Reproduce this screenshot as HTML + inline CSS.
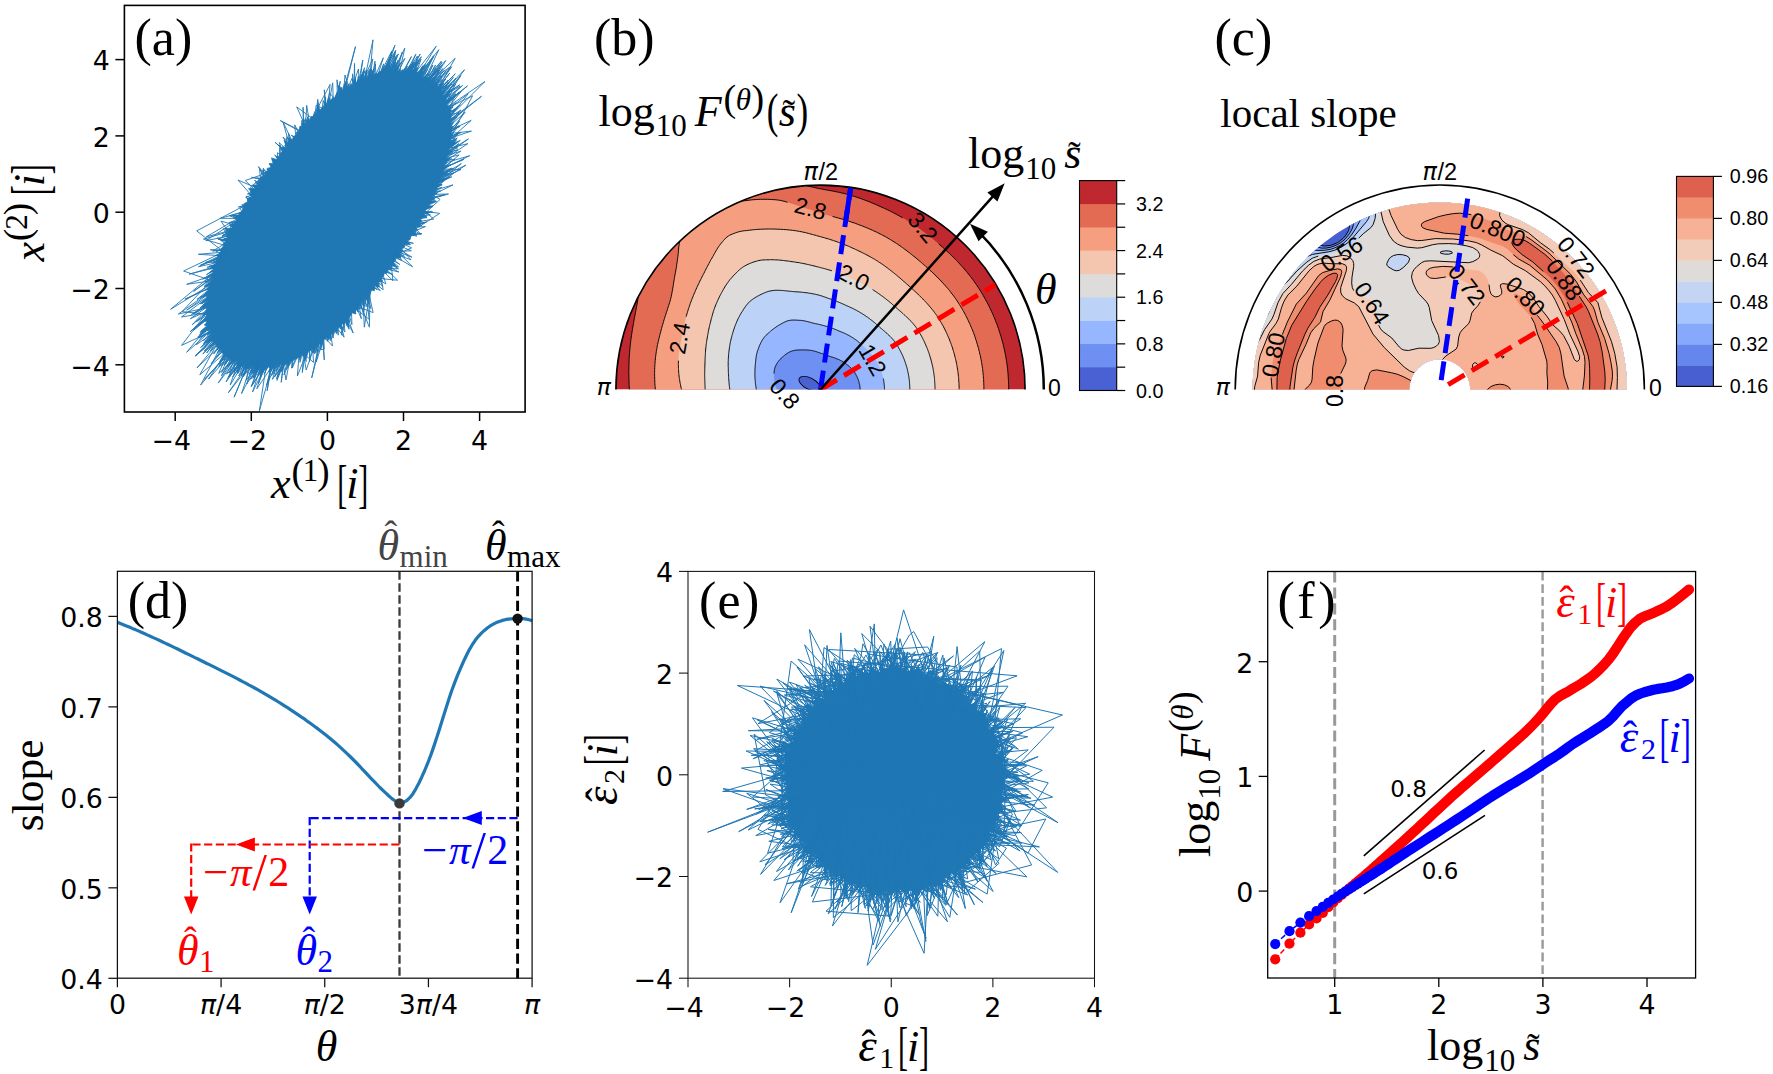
<!DOCTYPE html><html><head><meta charset="utf-8"><title>figure</title><style>html,body{margin:0;padding:0;background:#fff;overflow:hidden}svg{display:block}</style></head><body><svg width="1773" height="1074" viewBox="0 0 1773 1074"><rect width="1773" height="1074" fill="#fff"/><g>
<polygon fill="#1f77b4" stroke="#1f77b4" stroke-width="0.8" stroke-linejoin="round" points="426.9,81.7 442.2,62.1 429.5,81.8 432.7,80.1 432.2,82.5 435.8,79.8 432.5,85.5 436.7,82.0 434.8,86.1 438.2,83.9 437.0,87.8 445.7,79.0 437.9,90.6 443.6,85.4 438.6,92.6 441.9,91.0 440.6,94.4 447.7,88.4 442.2,95.6 444.2,95.7 443.1,98.8 446.9,96.6 445.0,100.5 447.2,99.7 445.3,103.0 453.9,96.9 446.3,105.5 448.4,105.3 447.3,108.8 451.4,106.8 449.6,109.6 451.5,110.0 449.8,113.4 451.5,113.1 449.0,117.6 451.5,116.5 450.4,119.9 451.6,120.4 449.7,123.8 453.5,122.7 451.2,126.1 453.3,126.4 451.5,129.5 452.4,130.7 450.9,133.0 453.1,133.6 451.3,136.3 451.8,137.6 449.7,140.6 453.8,140.1 449.4,144.9 460.3,140.4 448.9,149.0 449.6,150.1 448.2,153.2 449.2,153.7 446.4,157.0 448.2,158.4 445.9,161.0 447.0,162.7 443.8,165.9 451.2,164.6 443.4,169.7 444.4,170.8 442.1,173.8 443.9,175.0 439.3,179.4 451.8,176.8 437.5,183.4 440.8,184.5 436.7,187.0 436.8,189.1 434.0,192.1 437.3,193.1 433.0,196.4 434.6,198.7 429.9,200.8 436.5,201.6 428.5,205.0 432.7,206.7 425.1,209.9 425.9,212.3 423.6,214.4 426.9,216.4 420.4,218.5 421.9,221.5 418.4,223.5 422.0,225.7 416.1,227.0 416.2,230.8 413.0,232.4 416.3,234.6 411.0,235.8 410.1,239.5 407.2,241.1 410.5,244.6 404.6,244.7 404.8,246.8 402.1,249.0 401.8,251.2 399.2,253.5 400.3,257.4 395.6,257.9 395.7,260.4 393.3,262.2 395.7,265.8 390.0,265.7 389.8,268.8 388.1,269.7 386.8,273.3 384.2,273.3 383.6,276.2 381.4,277.5 380.5,280.6 378.9,282.0 379.3,287.1 374.8,285.7 374.3,290.8 371.5,290.1 370.2,293.5 369.2,294.0 369.1,299.0 365.8,298.2 364.4,300.9 361.8,302.2 360.6,304.9 358.8,305.6 358.2,309.9 356.1,309.8 354.5,313.4 351.8,312.8 350.6,316.1 348.3,318.1 349.1,329.3 344.7,321.2 344.0,324.9 341.5,323.4 339.8,326.8 337.4,327.8 336.6,330.4 334.3,331.6 332.4,334.9 331.1,333.0 328.5,340.3 326.8,336.9 325.5,339.4 323.8,338.8 320.9,349.3 319.9,342.3 318.2,345.8 316.3,345.3 313.5,352.9 312.5,348.0 309.9,351.2 308.3,351.8 305.8,359.3 304.9,353.5 303.0,356.2 301.5,354.9 299.8,357.7 298.2,357.6 295.5,359.2 294.4,359.6 292.1,361.5 291.2,361.1 287.9,367.0 287.2,362.5 285.5,364.6 283.8,364.0 276.9,380.5 281.4,363.8 278.9,366.8 277.8,365.1 274.9,369.0 275.1,365.3 272.1,369.1 271.3,367.1 269.6,368.4 268.7,366.8 266.3,368.9 264.7,368.5 260.0,376.2 262.4,367.2 259.5,371.9 260.0,367.3 255.6,373.9 257.2,367.9 252.7,373.5 255.3,366.2 249.4,374.2 252.6,365.9 249.3,368.8 249.3,366.7 246.4,369.2 247.3,365.9 241.9,372.3 244.3,365.1 242.5,366.8 242.2,364.7 236.6,372.0 240.2,362.8 237.6,365.7 238.1,362.7 234.1,366.4 237.0,360.1 234.3,362.3 233.8,361.0 228.0,367.3 232.8,358.4 229.3,360.9 229.9,357.6 227.7,359.0 228.6,355.9 226.7,356.8 226.7,354.6 219.5,361.7 225.5,352.2 222.8,354.2 222.6,352.3 221.1,352.1 222.0,349.6 217.2,353.1 220.3,347.1 216.8,350.2 217.6,346.7 215.6,347.2 217.1,344.2 215.1,344.0 216.1,342.0 212.7,343.6 213.6,340.2 211.2,341.3 213.4,337.2 206.5,342.4 212.3,335.3 208.3,336.8 211.6,331.7 207.3,335.0 210.9,329.5 207.4,331.0 209.0,328.2 207.7,326.8 208.4,325.1 205.2,325.7 207.5,321.6 205.6,321.8 208.4,317.3 203.7,320.3 207.3,315.0 206.2,314.8 206.5,312.1 205.6,311.4 207.1,308.1 205.6,308.1 207.9,304.5 202.9,306.2 208.5,300.3 199.9,304.0 208.1,297.1 205.7,296.5 208.7,293.2 206.7,292.6 209.2,289.3 206.9,288.6 210.7,284.7 206.4,285.8 212.2,280.0 210.8,278.8 213.2,275.9 202.6,279.1 214.0,272.1 210.4,271.9 214.4,268.4 209.3,269.1 215.9,263.7 215.1,262.0 217.8,259.3 217.4,258.0 218.7,255.7 219.2,253.6 221.8,250.0 221.0,249.1 223.5,245.9 222.9,244.5 225.6,241.0 220.9,240.4 227.9,237.3 226.1,235.2 229.9,232.7 227.6,230.9 232.9,227.4 230.1,225.6 235.2,223.9 234.8,221.5 237.3,219.6 233.8,217.1 239.2,215.1 239.7,212.6 242.3,211.0 242.9,207.4 244.4,206.4 243.7,203.9 247.6,201.8 247.8,198.6 251.3,196.9 249.1,194.2 252.3,193.5 248.6,188.6 255.4,188.7 252.5,185.0 258.3,184.9 258.6,182.0 261.8,179.8 260.9,176.7 264.8,176.4 265.3,173.0 267.3,171.8 267.1,168.4 271.1,167.4 269.1,163.5 273.2,163.7 271.5,157.9 277.5,159.8 276.7,156.2 279.4,156.2 281.0,152.5 283.4,151.5 282.4,147.3 286.7,147.8 284.0,140.2 289.4,143.1 288.7,138.0 292.3,139.7 293.8,136.0 295.8,135.7 296.8,131.7 299.3,131.8 300.1,126.0 303.0,127.7 303.6,122.3 305.9,125.0 307.4,118.5 309.2,120.7 311.2,116.6 313.3,116.4 315.0,113.5 316.3,113.8 317.7,99.2 319.7,110.5 322.1,107.5 323.2,106.8 325.9,103.4 327.2,104.7 329.0,97.2 330.9,100.6 332.8,97.3 334.2,99.0 337.2,91.9 338.5,95.7 340.5,88.1 342.3,91.3 344.3,83.7 345.9,89.0 348.4,83.9 349.1,87.2 351.1,83.5 352.4,85.5 355.6,79.4 355.9,83.6 358.9,79.8 359.9,81.7 363.7,70.7 363.9,79.5 366.2,75.9 366.9,78.6 370.0,70.6 369.9,77.0 373.3,71.7 373.7,74.8 376.2,72.9 376.3,75.0 379.8,71.1 380.9,72.1 384.5,65.9 383.4,71.0 391.5,54.1 386.9,71.1 391.4,63.6 389.7,70.2 394.9,62.4 392.7,70.0 396.5,65.6 395.2,70.2 400.6,62.5 397.4,71.4 400.3,69.0 400.6,71.6 403.1,69.4 403.4,70.9 407.5,66.3 405.2,72.1 411.3,64.5 407.8,72.3 411.4,69.3 411.2,71.7 413.8,69.1 413.8,71.8 417.5,67.5 416.0,73.2 418.5,71.4 417.6,75.2 425.2,64.2 419.6,76.5 433.8,56.4 421.4,78.0 423.6,76.2 424.0,77.5 425.7,76.8 426.2,78.8 428.7,77.0"/>
<path fill="none" stroke="#1f77b4" stroke-width="0.9" stroke-linejoin="round" d="M340.9,99.8L346.7,81.9L342.7,98.5M438.5,107.3L449.8,91.3L437.5,105.4M237.0,228.9L226.3,231.1L239.2,224.7M234.9,233.0L222.0,235.8L236.5,229.9M406.0,80.5L420.3,54.0L402.8,79.7M344.8,97.0L346.4,84.9L344.1,97.5M405.9,235.2L439.7,213.4L420.2,210.7M443.8,134.2L471.4,131.1L443.5,140.3M340.5,318.4L341.8,335.2L346.6,312.3M416.5,84.9L427.6,69.4L416.8,85.1M324.4,113.2L329.5,93.0L337.9,102.0M222.7,261.4L198.5,266.7L225.1,254.8M353.6,304.9L373.1,312.6L367.8,288.4M321.0,335.3L311.7,377.9L323.0,333.8M381.7,270.3L392.1,268.7L386.9,263.1M261.6,359.1L250.6,379.4L262.8,359.2M383.2,268.2L398.9,272.0L385.5,265.0M413.4,90.8L450.4,66.9L426.6,92.0M222.2,335.5L202.8,354.0L220.0,331.8M241.1,352.9L218.2,383.1L238.5,351.2M216.1,285.4L184.9,299.2L216.3,284.5M430.7,188.5L442.9,181.2L435.1,177.1M443.1,123.1L456.7,108.0L442.2,118.3M406.6,80.6L421.4,56.7L404.1,80.0M224.2,257.4L212.9,262.1L223.4,259.4M313.9,123.1L316.2,105.2L327.4,110.6M415.6,219.0L427.1,217.6L417.0,216.5M442.3,150.5L454.7,142.2L443.0,145.7M411.9,225.5L424.3,222.9L411.4,226.2M356.5,89.8L365.1,70.5L357.4,89.3M403.8,79.9L414.6,62.7L407.0,80.7M439.6,162.9L453.1,152.5L441.3,155.5M422.4,88.8L441.4,61.2L418.8,86.3M219.6,270.9L207.2,281.1L220.1,269.2M263.1,359.2L252.6,391.9L268.9,359.0M354.9,303.5L361.3,318.7L358.1,299.8M394.9,78.8L402.3,52.0L392.9,78.8M291.1,353.2L274.6,376.9L282.0,356.5M361.9,87.0L366.6,69.9L364.8,85.7M226.6,251.1L215.3,255.5L224.8,255.7M300.1,348.9L299.9,362.3L304.7,346.4M217.7,278.1L208.0,276.7L220.2,268.9M430.1,95.2L442.1,79.4L426.9,92.3M363.3,86.4L374.3,68.7L366.9,88.4M438.3,106.9L451.4,97.6L440.3,111.4M221.9,263.7L209.3,266.2L221.4,265.1M264.3,359.2L257.8,375.0L264.4,359.2M259.9,190.9L257.0,181.9L256.3,196.3M290.6,149.1L283.0,122.0L294.0,145.0M327.3,330.3L327.4,341.3L325.8,331.5M435.5,176.0L453.5,168.4L434.1,180.0M219.0,273.1L186.7,284.3L217.2,280.0M432.5,97.9L443.8,83.2L431.4,96.6M397.9,79.0L393.8,64.4L387.2,79.1M443.5,127.0L455.2,117.3L443.8,132.3M355.0,90.6L355.5,77.8L352.4,92.2M262.7,359.2L251.8,385.6L269.5,359.0M287.9,152.5L284.7,145.2L293.8,145.3M228.6,246.4L203.5,239.1L236.8,229.3M359.6,88.2L358.4,69.0L350.3,93.4M438.3,167.3L448.0,171.1L433.5,181.6M409.1,81.4L417.4,59.9L404.9,80.2M322.4,334.2L314.6,354.0L314.6,340.0M214.7,313.1L193.2,330.6L214.5,311.6M227.9,248.0L212.6,260.9L225.0,255.2M350.6,93.3L345.0,75.0L343.1,98.2M293.9,145.1L286.9,136.7L282.1,166.2M430.2,189.7L442.2,184.7L432.8,183.4M395.7,250.6L411.9,257.2L397.4,248.1M216.1,321.2L200.9,331.0L215.8,320.0M443.8,135.0L460.1,126.3L443.8,134.3M219.7,331.3L206.3,342.4L218.1,327.6M244.7,354.8L237.3,373.0L247.3,355.9M351.3,92.9L359.0,77.7L355.7,90.3M262.3,359.2L246.1,380.4L250.8,357.2M230.6,345.3L218.7,373.4L241.5,353.1M443.2,123.9L455.6,93.8L438.2,106.5M431.7,97.0L455.4,73.8L431.7,97.0M431.8,185.8L444.5,178.6L432.7,183.7M399.9,79.2L411.1,64.1L399.4,79.1M329.8,328.1L332.5,346.0L321.7,334.7M290.6,149.1L288.6,133.4L290.8,148.8M273.0,358.6L267.1,390.8L271.9,358.7M263.4,359.2L246.7,384.1L254.7,358.2M442.5,149.2L456.7,139.9L442.5,149.0M247.9,209.6L241.8,204.6L249.5,207.0M215.7,319.4L201.7,333.6L216.1,321.1M441.4,115.0L468.2,93.7L443.4,125.7M311.7,125.4L302.9,122.7L309.8,127.3M371.5,283.7L364.3,327.2L362.9,294.3M215.4,318.1L204.1,325.2L214.8,314.6M402.8,240.0L413.4,243.4L402.0,241.2M254.3,199.4L246.3,196.1L249.8,206.5M337.4,102.4L337.0,79.8L339.7,100.7M252.7,201.9L245.7,197.3L258.8,192.6M387.1,79.2L398.3,53.9L388.2,79.0M233.9,235.0L205.8,240.7L244.2,215.9M439.7,162.5L452.0,151.2L441.9,152.4M363.1,86.5L373.0,39.8L369.3,83.8M435.8,175.3L452.4,170.6L425.1,200.9M218.8,273.8L193.6,291.3L219.1,272.5M391.9,256.1L411.6,247.9L401.0,242.8M221.9,335.1L199.8,374.8L235.6,343.8M217.0,324.3L203.5,340.8L218.1,327.6M264.5,359.2L252.8,378.3L260.2,359.0M286.5,154.3L279.6,148.3L279.7,163.1M264.2,359.2L259.2,372.6L268.3,359.1M340.8,318.1L336.5,333.7L332.8,325.5M251.8,357.5L243.3,376.3L255.4,358.4M431.1,96.3L449.7,73.2L431.4,96.6M415.0,84.1L422.3,67.0L413.6,83.4M224.4,256.8L205.6,262.3L222.3,262.5M299.0,349.5L313.5,362.4L312.3,341.6M431.8,97.1L449.1,82.6L433.2,98.7M419.6,86.8L433.7,55.6L413.1,84.2M319.7,117.5L314.5,111.7L312.0,125.1M293.3,145.8L282.9,137.0L290.1,149.7M227.3,249.5L212.7,251.1L231.8,239.4M219.3,330.3L203.8,343.0L219.8,331.3M218.3,328.1L207.3,338.6L219.1,330.0M258.4,193.1L245.2,180.5L274.2,170.6M215.5,318.3L197.8,337.1L216.5,322.6M426.6,197.8L453.0,184.9L429.3,191.8M386.3,79.3L391.7,51.1L376.5,81.3M318.4,118.7L318.5,107.3L320.9,116.4M421.9,88.4L432.8,65.1L421.7,88.2M425.4,200.3L444.9,194.6L426.3,198.4M383.4,267.9L397.1,268.9L390.2,258.5M301.5,348.2L292.2,367.9L293.6,352.2M226.9,250.5L210.3,249.8L226.9,250.4M280.1,357.1L276.4,371.0L283.7,356.0M329.2,328.7L330.2,340.6L344.5,314.4M214.2,301.9L190.4,318.7L214.3,307.9M423.4,204.5L436.2,201.0L425.1,201.0M237.9,227.3L222.9,229.0L237.0,228.9M435.9,174.9L459.1,154.9L440.4,159.6M221.3,334.2L209.6,346.7L222.0,335.3M289.7,353.8L286.3,369.6L300.3,348.8M301.2,348.3L299.8,360.0L301.0,348.4M335.6,323.0L336.5,332.6L334.6,323.9M355.6,90.3L352.6,79.8L353.1,91.7M371.4,283.9L376.7,289.6L371.6,283.6M310.6,126.4L307.2,116.6L311.4,125.7M443.7,129.2L462.3,111.5L443.5,126.0M437.3,104.8L460.8,75.7L439.2,108.7M306.5,130.9L303.9,119.3L310.4,126.8M273.8,358.4L270.7,371.8L280.3,357.0M442.2,118.2L460.3,104.9L442.4,119.0M391.9,256.1L400.4,258.2L401.5,242.0M225.8,340.5L197.0,367.8L223.2,337.0M425.1,90.8L442.8,68.6L426.2,91.7M215.8,287.3L197.0,299.4L216.5,283.5M292.7,352.5L291.6,368.2L299.8,349.1M214.4,310.8L190.1,331.7L214.4,309.8M214.3,308.8L199.8,323.5L214.7,313.4M233.9,348.0L223.6,359.9L232.8,347.1M424.8,90.5L441.8,65.2L421.5,88.1M389.7,259.2L398.5,269.2L388.1,261.5M242.6,218.5L220.3,218.3L247.1,210.9M215.6,288.1L203.1,297.3L215.8,287.3M334.1,324.3L344.1,337.2L339.5,319.3M396.0,250.2L412.6,266.8L392.6,255.1M412.6,82.9L421.1,59.1L408.2,81.1M431.3,96.5L451.7,66.8L428.0,93.2M345.1,313.8L349.5,322.0L348.4,310.4M266.3,181.7L258.4,166.6L268.6,178.4M387.2,79.1L395.8,50.4L377.3,81.1M266.8,180.9L251.6,177.3L267.9,179.4M411.6,225.9L440.1,199.4L428.8,192.9M254.6,199.0L238.0,180.1L260.7,189.7M275.0,358.2L273.8,374.1L277.0,357.8M392.2,255.7L401.7,254.1L392.8,254.8M442.4,149.8L457.3,138.0L442.8,147.3M221.3,334.2L206.6,353.0L221.2,333.9M409.8,81.7L417.6,67.8L412.7,82.9M418.5,86.1L428.3,72.7L418.0,85.8M244.9,214.7L232.9,216.1L240.3,222.7M307.8,344.5L312.7,352.9L317.5,337.9M337.4,321.3L341.7,329.5L341.3,317.7M221.3,334.1L203.4,343.7L220.2,332.1M257.9,193.8L247.4,194.0L267.1,186.0M254.1,200.5L196.7,230.9L228.3,255.6M241.5,220.5L230.3,216.1L245.2,214.2M238.1,351.0L221.5,372.4L232.5,346.9M439.7,162.3L467.9,143.6L442.3,150.0M243.9,354.4L234.6,371.4L242.7,353.8M215.5,289.1L204.8,294.6L215.7,287.4M304.6,132.8L301.8,120.9L304.6,132.9M215.6,288.6L202.8,305.5L214.4,298.2M252.4,357.7L228.3,392.8L255.2,358.3M246.5,355.6L232.8,376.9L248.3,356.3M230.7,241.8L217.5,237.9L228.6,246.3M439.2,164.3L460.8,151.2L440.9,157.4M440.5,159.3L451.3,152.7L440.8,158.0M426.9,197.1L434.9,200.1L425.8,199.6M234.4,234.0L220.7,237.8L239.2,224.7M378.2,275.0L384.6,279.3L378.1,275.2M337.2,321.5L340.4,329.1L340.4,318.5M284.5,156.8L279.8,145.5L280.9,161.5M246.6,355.6L228.5,376.9L245.8,355.3M435.5,101.9L459.7,84.8L435.2,101.5M325.7,112.0L325.6,97.1L322.1,115.3M410.8,227.2L417.8,229.6L411.1,226.8M390.1,258.6L399.7,264.4L390.9,257.5M438.1,106.5L449.1,92.9L435.8,102.4M380.0,272.6L383.2,289.7L372.9,281.9M250.6,357.1L234.1,397.2L250.8,357.2M247.0,355.8L228.7,377.4L241.6,353.1M215.5,318.5L198.9,338.1L217.6,326.2M316.4,338.7L316.2,349.6L318.5,337.2M285.0,355.6L281.2,382.3L284.1,355.9M386.1,79.3L389.5,65.4L384.2,79.6M435.3,176.6L445.3,173.4L437.0,171.6M226.0,252.7L200.3,265.3L224.4,256.7M274.5,170.2L261.0,173.6L267.7,179.7M421.7,88.3L432.8,74.1L424.3,90.2M332.1,326.1L330.8,338.2L329.2,328.7M365.9,290.7L363.6,314.8L359.5,298.3M244.7,215.0L229.4,215.7L247.2,210.7M397.9,79.0L404.8,48.2L389.5,78.9M301.6,136.2L301.8,123.9L312.3,124.7M304.0,133.6L280.3,120.6L304.6,132.8M301.0,136.9L294.7,124.9L296.3,142.3M441.4,155.2L457.9,149.8L441.7,153.4M288.6,151.6L279.2,142.6L284.6,156.7M221.5,334.5L195.4,355.9L220.4,332.6M388.4,261.1L392.7,268.5L385.9,264.6M418.9,213.1L428.3,212.6L419.1,212.7M303.6,133.9L303.1,107.2L303.9,133.7M412.4,82.8L423.1,65.5L411.3,82.3M372.9,281.9L382.9,281.0L377.1,276.5M214.9,315.1L182.1,311.6L219.3,271.9M419.8,211.5L432.8,205.7L419.4,212.2M392.5,78.8L398.1,60.2L391.6,78.8M371.7,82.9L374.9,61.2L376.6,81.3M215.3,317.6L199.6,334.7L216.6,323.2M435.0,101.1L450.7,88.4L438.4,107.0M443.6,139.1L461.0,132.4L443.4,141.5M443.0,145.5L471.2,120.4L443.8,132.9M288.9,354.1L280.9,371.9L291.9,352.9M439.6,109.8L450.0,97.9L439.8,110.1M366.9,84.7L371.4,68.9L367.5,84.5M354.5,304.0L355.6,313.6L353.5,305.0M422.2,88.6L445.7,60.5L426.4,91.8M285.5,155.5L278.6,145.0L287.7,152.7M436.6,103.7L448.5,81.9L433.9,99.6M234.0,348.1L204.3,379.5L234.1,348.2M385.5,265.1L398.6,266.9L389.9,259.0M221.4,265.3L207.1,267.3L222.7,261.5M395.1,251.4L411.3,250.8L399.1,245.6M216.4,283.7L200.3,298.3L215.4,289.8M443.5,126.7L481.5,96.3L443.3,124.8M433.5,99.2L448.3,80.0L431.6,96.9M238.5,226.1L220.9,221.1L232.7,237.6M412.2,224.9L421.1,234.5L410.2,228.3M261.2,359.1L251.2,386.7L268.6,359.1M342.7,98.5L355.5,46.6L341.1,99.7M358.9,88.6L362.8,60.0L357.3,89.4M421.5,208.1L433.7,219.1L413.6,222.5M325.5,112.2L324.3,89.8L326.4,111.4M240.0,352.2L228.2,366.4L239.7,352.0M438.1,106.4L451.9,89.5L438.1,106.4M239.9,352.2L226.1,381.8L245.6,355.2M315.1,339.7L316.0,352.6L317.1,338.2M437.0,171.6L455.1,159.1L439.9,161.7M251.9,203.2L238.4,207.0L250.2,205.8M307.2,130.1L296.7,106.9L316.0,121.1M279.4,357.2L266.5,385.5L273.1,358.5M263.7,359.2L253.6,377.8L262.2,359.2M398.2,247.0L404.4,256.6L395.1,251.5M356.9,89.6L364.7,67.7L356.1,90.1M232.9,237.1L222.7,241.1L233.1,236.6M412.6,82.9L438.8,49.7L421.0,87.8M425.0,90.7L444.3,70.4L426.3,91.8M413.4,83.3L436.2,46.3L408.5,81.2M441.3,155.5L457.5,134.3L443.0,145.5M319.1,336.7L316.2,362.1L325.8,331.5M230.0,243.2L216.2,251.8L229.1,245.3M358.3,299.7L366.0,303.0L363.2,293.9M417.4,215.8L430.5,215.0L420.0,211.0M402.5,79.6L417.4,56.1L412.2,82.7M393.6,78.8L399.3,64.3L390.0,78.9M408.4,81.2L419.6,58.8L410.4,81.9M214.4,298.8L202.7,307.8L214.6,296.6M417.6,85.6L428.1,73.1L420.0,87.1M359.7,88.1L372.8,58.9L368.7,84.0M229.7,344.5L218.9,366.7L234.4,348.4M391.7,256.4L401.6,260.4L396.7,249.1M407.2,80.8L414.0,64.4L406.9,80.7M366.4,290.0L370.8,308.5L360.0,297.6M214.3,301.6L192.2,324.7L214.2,306.8M390.2,78.9L397.4,62.1L385.6,79.4M343.3,98.1L341.7,87.2L340.4,100.1M443.4,125.3L459.0,112.6L441.9,116.8M220.2,332.2L195.5,355.9L219.2,330.1M214.4,299.2L191.5,314.4L214.2,302.8M437.9,106.1L464.5,69.7L434.9,101.0M434.0,180.2L447.5,172.8L435.5,176.1M437.7,105.7L448.9,90.2L440.8,112.9M433.3,182.0L461.0,169.5L437.9,168.8M443.5,126.8L457.4,116.7L443.8,133.0M252.9,357.8L242.6,377.0L259.1,358.9M434.3,179.5L454.0,172.8L428.3,194.0M247.3,355.9L238.8,376.0L251.7,357.5M406.8,233.7L421.8,233.6L404.7,237.0M341.9,99.0L337.7,85.0L344.5,97.3M435.8,175.1L451.7,168.2L434.9,177.8M304.5,346.5L306.2,361.6L302.4,347.7M219.3,330.2L204.8,341.7L218.0,327.2M410.9,227.0L426.6,222.0L412.8,223.9M215.8,287.0L205.4,290.2L216.7,282.5M341.1,99.6L339.7,86.1L344.1,97.5M317.2,338.2L306.2,370.0L302.5,347.6M438.6,166.5L451.4,158.5L438.5,166.6M227.4,342.2L211.1,363.9L229.1,343.9M440.7,112.7L459.3,92.1L439.2,108.8M348.4,310.5L356.0,314.0L351.6,307.1M443.6,127.4L460.9,110.0L442.9,121.9M357.3,89.4L361.7,74.4L359.0,88.5M230.4,242.3L224.4,230.7L236.0,230.9M393.7,253.5L411.0,259.8L398.8,246.1M234.2,348.2L225.3,364.5L234.8,348.7M363.4,293.7L363.3,306.4L360.7,296.9M322.3,334.3L324.3,359.9L322.7,334.0M250.3,357.0L226.5,374.0L239.9,352.1M442.1,117.7L453.2,107.1L440.4,111.7M261.9,187.9L254.5,180.0L262.1,187.6M431.6,89.6L445.8,70.8L430.1,95.2M266.7,181.0L258.1,180.0L263.4,185.8M214.2,306.0L202.7,314.8L214.2,307.0M337.5,321.3L338.2,335.2L337.5,321.3M214.3,300.5L202.8,307.6L214.4,299.4M442.9,146.4L458.6,125.8L443.7,137.5M290.9,353.3L286.0,380.0L282.0,356.5M348.0,94.9L346.3,84.8L341.3,99.5M406.3,234.5L425.4,226.6L410.7,227.5M241.5,220.6L230.5,222.2L240.3,222.7M237.6,350.6L224.2,365.0L234.3,348.3M232.5,346.9L200.6,385.1L227.4,334.0M327.6,110.4L332.7,82.9L333.4,105.5M437.4,170.5L464.0,159.3L437.4,170.5M298.0,140.3L291.1,135.2L299.0,139.2M227.0,250.3L183.6,271.0L216.7,282.5M323.6,333.3L324.3,349.2L316.3,350.2M390.3,78.9L395.6,50.9L377.9,80.9M428.1,194.5L448.5,194.0L425.3,200.6M255.4,197.7L250.6,191.4L253.7,200.3M437.7,105.6L450.5,93.6L438.6,107.4M241.9,353.3L237.6,373.7L250.2,357.0M251.6,210.2L206.2,236.9L237.2,228.6M273.9,170.9L255.3,182.8L263.6,185.5M443.8,134.1L459.7,121.3L443.4,141.7M259.4,359.0L241.5,393.6L253.3,357.9M214.3,300.8L200.3,307.7L214.9,293.7M435.1,101.3L460.0,86.2L440.2,111.2M419.8,211.5L433.0,212.2L419.4,212.1M428.6,93.8L440.4,74.7L426.7,92.1M230.8,345.5L215.9,357.3L229.4,344.2M269.3,359.0L260.4,376.0L263.2,359.2M214.2,306.1L178.4,314.0L215.7,287.7M359.4,298.4L361.9,308.6L357.2,300.9M215.0,267.6L189.1,274.2L221.5,264.7M230.6,241.9L218.0,239.2L230.8,241.4M439.5,109.6L456.1,77.9L434.1,99.9M411.6,82.4L423.1,71.2L415.4,84.3M221.2,265.8L206.5,274.7L221.8,263.9M218.5,274.8L204.6,281.1L216.3,284.3M388.0,79.1L404.9,58.4L394.9,78.8M286.7,154.0L282.6,146.6L286.3,154.6M215.6,288.5L186.6,310.2L215.1,292.1M269.2,359.0L263.0,372.6L267.5,359.1M367.8,84.4L371.9,70.2L371.6,82.9M309.5,343.4L309.5,361.7L313.4,340.8M382.8,79.8L394.7,54.3L380.9,80.2M281.2,161.2L274.7,154.9L280.1,162.5M390.5,258.1L392.9,280.7L382.0,269.9M441.8,153.0L455.7,139.2L442.7,147.6M234.7,233.4L225.2,232.4L235.9,231.1M236.1,349.6L221.4,375.8L238.0,350.9M315.5,339.4L313.8,351.8L316.9,338.3M431.0,188.0L461.3,163.6L434.0,180.1M277.5,357.7L271.7,375.5L278.1,357.6M351.4,307.3L351.9,324.6L348.0,310.8M287.4,153.1L275.1,142.3L287.1,153.6M238.0,227.0L225.6,229.9L236.2,230.4M214.2,303.1L181.5,345.4L225.9,324.6M261.1,189.1L259.6,168.4L267.4,180.0M345.6,313.4L348.2,322.3L346.1,312.9M277.5,166.0L277.4,152.7L284.4,157.0M303.8,134.2L330.1,84.4L327.9,110.1M422.8,89.1L435.8,68.0L423.5,89.5M424.1,87.5L455.2,58.3L432.5,97.8M350.0,308.8L346.3,325.4L349.6,309.2M355.0,90.7L354.5,63.4L353.8,91.3M425.1,90.8L435.1,76.9L422.0,88.5M248.4,356.4L241.1,375.8L248.5,356.4M365.4,291.3L368.5,301.9L363.4,293.6M436.9,171.8L469.7,155.7L436.9,165.4M370.1,285.6L369.4,327.2L358.3,299.7M304.9,132.5L301.8,123.1L304.9,132.5M215.5,288.9L204.4,294.6L216.1,285.6M443.0,145.3L458.1,132.8L443.5,140.2M353.7,304.7L360.3,309.1L359.0,298.9M373.0,82.4L375.5,64.0L368.7,84.0M334.7,104.5L340.3,81.3L336.6,103.0M233.5,347.7L234.4,370.5L244.2,354.5M427.5,195.9L441.7,187.4L429.9,190.4M433.9,180.4L465.8,165.2L431.0,187.8M345.0,314.0L342.9,328.8L339.0,319.8M365.0,291.8L368.8,303.5L362.9,294.3M443.5,140.3L454.6,138.0L442.2,151.1M376.3,277.6L377.5,288.1L374.3,280.1M214.8,313.9L195.1,327.1L214.9,314.9M357.1,89.5L352.0,78.3L343.8,97.7M214.5,311.0L196.3,321.6L214.2,307.0M372.3,282.7L380.4,290.5L369.8,285.9M425.0,90.7L440.0,69.5L426.6,92.0M434.8,111.6L467.5,85.9L439.5,109.6M403.9,238.3L415.8,232.6L407.7,232.4M257.4,358.7L251.3,373.5L254.9,358.3M324.5,113.1L327.9,99.7L328.4,109.6M230.9,345.6L208.5,379.1L235.0,348.8M358.3,88.9L358.3,76.2L356.8,89.7M441.0,113.6L455.5,84.3L432.8,98.3M231.5,239.9L223.8,238.6L232.0,238.9M242.9,353.8L229.0,372.9L237.8,350.8M362.1,86.9L366.4,70.8L365.3,85.4M438.5,107.3L462.5,85.5L437.3,104.9M265.3,183.1L257.6,177.9L265.8,182.4M434.1,100.0L446.0,86.4L437.3,104.8M217.6,278.6L205.1,285.5L220.4,268.3M383.3,79.7L395.0,45.2L379.2,80.6M280.1,357.0L272.3,379.4L291.2,353.2M216.5,322.7L205.3,331.8L215.8,320.0M353.5,91.5L352.5,73.9L354.2,91.1M438.8,165.8L451.2,157.0L437.8,169.1M385.3,265.4L390.5,270.1L395.7,250.6M224.3,338.6L213.6,354.0L225.3,339.9M437.2,171.1L446.1,174.2L436.3,173.9M240.7,222.0L230.3,224.8L240.1,223.2M220.6,267.5L170.6,309.3L217.1,280.7M416.2,218.0L431.3,211.2L411.7,225.8M409.7,229.1L416.9,236.1L406.6,234.1M410.2,228.2L416.1,234.8L410.9,227.1M383.4,79.7L396.6,55.4L386.3,79.3M443.6,139.8L465.2,112.2L443.8,131.3M214.2,302.0L202.7,316.0L214.4,309.9M435.2,101.4L453.3,77.4L433.2,98.8M310.5,342.8L297.4,376.0L299.4,349.3M271.9,358.7L264.1,374.3L270.8,358.8M275.1,358.2L268.8,372.2L273.5,358.5M219.8,331.4L205.0,346.4L219.7,331.3M381.6,270.4L392.8,274.6L382.3,269.4M440.4,111.9L484.9,81.6L443.1,123.2M429.2,192.1L440.7,190.9L428.5,193.6M441.2,156.0L459.0,143.6L440.5,159.2M217.3,279.6L205.8,286.6L216.6,283.1M378.9,80.7L383.7,63.8L377.1,81.2M430.1,95.3L441.3,75.6L428.0,93.2M217.3,325.3L209.4,342.1L219.6,330.9M437.2,104.8L449.3,92.5L437.2,104.8M408.3,81.1L426.5,65.0L413.3,83.2M438.2,106.6L461.2,91.4L441.6,115.6M443.2,123.7L457.7,107.5L442.4,118.8M281.5,356.7L276.7,378.8L286.5,355.0M268.6,359.1L258.4,383.4L267.7,359.1M222.1,335.5L204.4,350.6L224.2,338.5M398.8,79.1L411.4,56.6L400.0,79.2M220.9,333.4L210.1,351.3L222.7,336.3M366.2,290.4L369.1,319.3L352.4,306.2M404.0,79.9L413.0,61.9L409.1,81.4M277.9,357.6L256.8,388.8L266.0,359.2M442.3,150.3L455.5,141.9L442.5,148.9M435.9,102.5L448.8,90.8L437.5,105.3M406.5,80.6L413.0,63.3L409.1,81.4M214.4,298.1L193.5,313.9L214.2,302.5M267.5,179.9L260.6,177.1L262.7,186.8M345.1,96.8L345.7,81.5L344.9,96.9M304.1,346.7L302.3,372.5L306.7,345.1M442.8,146.9L457.7,147.8L441.7,153.7M377.8,275.5L382.8,286.4L375.0,279.2M443.8,109.8L472.6,95.8L432.1,170.8M232.3,346.7L223.9,359.5L232.7,347.1M330.1,108.2L340.0,87.7L340.9,99.8M371.7,283.5L367.9,306.2L359.8,297.9M218.8,329.2L200.6,347.5L220.4,332.6M346.0,313.0L353.2,333.0L343.8,315.1M394.5,78.8L395.7,57.0L393.7,78.8M220.9,266.6L209.2,272.9L222.3,262.5M422.9,89.1L435.5,65.1L422.0,88.5M217.5,326.0L201.3,337.5L217.2,325.0M256.7,195.7L251.1,191.1L255.0,198.2M215.3,317.3L196.4,344.7L218.9,329.3M364.1,86.0L369.9,68.8L358.5,88.7M219.8,331.4L208.0,340.3L218.4,328.4M402.3,79.6L415.8,54.2L405.1,80.2M326.7,111.1L323.2,100.5L321.3,116.0M432.9,183.1L441.7,185.0L429.8,190.7M269.4,177.3L263.3,168.2L264.3,184.4M241.1,352.8L230.2,385.0L247.7,356.1M245.4,355.1L234.0,372.2L246.0,355.4M328.4,329.3L331.0,339.6L325.6,331.7M331.5,326.7L333.2,338.1L332.9,325.4M252.6,202.0L239.9,208.5L244.7,214.9M217.4,279.3L204.0,286.5L216.6,282.7M440.6,158.5L468.5,138.9L441.3,155.6M298.7,139.5L299.9,126.8L307.4,129.9M354.5,303.9L357.9,312.1L358.5,299.4M265.4,182.9L257.6,181.3L260.7,189.8M428.4,93.6L438.7,70.0L421.3,88.0M302.2,135.5L302.0,120.0L314.0,123.0M215.3,317.4L199.9,332.6L216.0,321.0M274.5,358.3L259.4,410.7L267.1,359.2M231.1,345.8L218.7,364.7L229.0,343.9M214.3,301.6L203.0,308.6L214.4,298.8M372.2,82.7L383.3,57.8L375.9,81.5M338.2,320.6L344.9,332.0L343.6,315.4M375.8,278.2L385.8,283.9L381.7,270.3M359.7,298.0L364.2,303.8L362.2,295.2M435.2,176.9L448.6,173.4L432.4,184.3M309.9,127.2L305.3,118.3L309.8,127.3M292.8,352.5L284.0,374.9L288.9,354.1M215.3,317.6L186.6,352.3L217.3,325.2M435.3,101.6L452.0,83.8L433.0,98.5M235.5,231.8L223.2,234.8L233.8,235.2M249.3,356.7L236.7,370.9L244.1,354.5M363.1,294.0L366.5,306.5L357.0,301.1M268.7,178.3L262.4,170.0L272.1,173.5M384.1,267.0L397.6,280.2L375.8,278.2M289.0,151.1L288.1,137.7L292.2,147.2M255.7,197.2L250.6,187.0L280.0,162.7M235.1,348.8L221.5,366.2L236.1,349.6M226.3,251.9L198.3,254.3L224.7,255.9M443.1,144.8L454.4,142.9L442.0,152.2M214.8,294.5L201.8,303.7L215.2,290.9M215.1,291.9L181.5,317.0L214.5,311.4M310.2,126.9L306.7,105.3L305.1,132.3M239.5,224.2L229.2,222.2L233.4,236.1M441.9,116.9L456.3,102.6L440.3,111.6"/>
</g>
<rect x="124.4" y="5.4" width="400.7" height="406.6" fill="none" stroke="#000" stroke-width="1.6"/>
<line x1="175.2" y1="412" x2="175.2" y2="421" stroke="#000" stroke-width="1.5"/>
<g transform="translate(171.2,449.8)" fill="#000"><text x="-19.75" y="0" font-family="'DejaVu Sans',sans-serif" font-size="26.8">−4</text></g>
<line x1="251.3" y1="412" x2="251.3" y2="421" stroke="#000" stroke-width="1.5"/>
<g transform="translate(247.3,449.8)" fill="#000"><text x="-19.75" y="0" font-family="'DejaVu Sans',sans-serif" font-size="26.8">−2</text></g>
<line x1="327.4" y1="412" x2="327.4" y2="421" stroke="#000" stroke-width="1.5"/>
<g transform="translate(327.4,449.8)" fill="#000"><text x="-8.53" y="0" font-family="'DejaVu Sans',sans-serif" font-size="26.8">0</text></g>
<line x1="403.5" y1="412" x2="403.5" y2="421" stroke="#000" stroke-width="1.5"/>
<g transform="translate(403.5,449.8)" fill="#000"><text x="-8.53" y="0" font-family="'DejaVu Sans',sans-serif" font-size="26.8">2</text></g>
<line x1="479.6" y1="412" x2="479.6" y2="421" stroke="#000" stroke-width="1.5"/>
<g transform="translate(479.6,449.8)" fill="#000"><text x="-8.53" y="0" font-family="'DejaVu Sans',sans-serif" font-size="26.8">4</text></g>
<line x1="115.4" y1="364.8" x2="124.4" y2="364.8" stroke="#000" stroke-width="1.5"/>
<g transform="translate(109.8,375.6)" fill="#000"><text x="-39.51" y="0" font-family="'DejaVu Sans',sans-serif" font-size="26.8">−4</text></g>
<line x1="115.4" y1="288.5" x2="124.4" y2="288.5" stroke="#000" stroke-width="1.5"/>
<g transform="translate(109.8,299.3)" fill="#000"><text x="-39.51" y="0" font-family="'DejaVu Sans',sans-serif" font-size="26.8">−2</text></g>
<line x1="115.4" y1="212.2" x2="124.4" y2="212.2" stroke="#000" stroke-width="1.5"/>
<g transform="translate(109.8,223)" fill="#000"><text x="-17.05" y="0" font-family="'DejaVu Sans',sans-serif" font-size="26.8">0</text></g>
<line x1="115.4" y1="135.9" x2="124.4" y2="135.9" stroke="#000" stroke-width="1.5"/>
<g transform="translate(109.8,146.7)" fill="#000"><text x="-17.05" y="0" font-family="'DejaVu Sans',sans-serif" font-size="26.8">2</text></g>
<line x1="115.4" y1="59.6" x2="124.4" y2="59.6" stroke="#000" stroke-width="1.5"/>
<g transform="translate(109.8,70.4)" fill="#000"><text x="-17.05" y="0" font-family="'DejaVu Sans',sans-serif" font-size="26.8">4</text></g>
<g transform="translate(134.5,54.7)" fill="#000"><text x="0" y="0" font-family="'Liberation Serif',serif" font-size="52">(a)</text></g>
<g transform="translate(271,497.7)" fill="#000"><text x="0" y="0" font-family="'Liberation Serif',serif" font-size="44" font-style="italic">x</text><text x="20.53" y="-14" font-family="'Liberation Serif',serif" font-size="37">(</text><text x="31.85" y="-16.5" font-family="'Liberation Serif',serif" font-size="31">1</text><text x="46.35" y="-14" font-family="'Liberation Serif',serif" font-size="37">)</text><text transform="translate(66.37,3.8) scale(1,1.74)" font-family="'Liberation Serif',serif" font-size="30">[</text><text x="75.36" y="0" font-family="'Liberation Serif',serif" font-size="44" font-style="italic">i</text><text transform="translate(87.19,3.8) scale(1,1.74)" font-family="'Liberation Serif',serif" font-size="30">]</text></g>
<g transform="translate(43.9,261.5) rotate(-90)" fill="#000"><text x="0" y="0" font-family="'Liberation Serif',serif" font-size="44" font-style="italic">x</text><text x="20.53" y="-14" font-family="'Liberation Serif',serif" font-size="37">(</text><text x="31.85" y="-16.5" font-family="'Liberation Serif',serif" font-size="31">2</text><text x="46.35" y="-14" font-family="'Liberation Serif',serif" font-size="37">)</text><text transform="translate(66.37,3.8) scale(1,1.74)" font-family="'Liberation Serif',serif" font-size="30">[</text><text x="75.36" y="0" font-family="'Liberation Serif',serif" font-size="44" font-style="italic">i</text><text transform="translate(87.19,3.8) scale(1,1.74)" font-family="'Liberation Serif',serif" font-size="30">]</text></g>
<defs><clipPath id="clipb"><path d="M615.9,389.6A204.6,204.6 0 0 1 1025.1,389.6Z"/></clipPath></defs>
<g clip-path="url(#clipb)">
<rect x="614.9" y="184" width="411.2" height="205.6" fill="#c0282f"/>
<path d="M1008.7,389.6L1008.7,386.3L1008.6,383.0L1008.4,379.8L1008.2,376.5L1008.0,373.2L1007.7,369.9L1007.3,366.7L1006.9,363.4L1006.4,360.2L1005.8,356.9L1005.2,353.7L1004.6,350.5L1003.8,347.3L1003.1,344.1L1002.2,340.9L1001.3,337.7L1000.4,334.6L999.4,331.5L998.4,328.4L997.3,325.3L996.1,322.2L994.9,319.1L993.6,316.1L992.3,313.1L990.9,310.1L989.5,307.2L988.0,304.2L986.5,301.3L984.9,298.5L983.3,295.6L981.6,292.8L979.9,290.0L978.1,287.2L976.3,284.5L974.4,281.8L972.5,279.2L970.5,276.6L968.5,274.0L966.4,271.5L964.3,269.0L962.1,266.5L959.9,264.1L957.7,261.7L955.4,259.3L953.1,257.0L950.8,254.7L948.4,252.5L946.0,250.3L943.5,248.1L941.1,245.9L938.6,243.8L936.1,241.7L933.5,239.6L931.0,237.5L928.4,235.5L925.8,233.5L923.2,231.5L920.5,229.5L917.8,227.6L915.1,225.7L912.4,223.9L909.6,222.1L906.8,220.3L903.9,218.6L901.0,216.9L898.1,215.3L895.2,213.7L892.2,212.1L889.2,210.6L886.2,209.2L883.1,207.8L880.0,206.4L876.9,205.0L873.8,203.7L870.7,202.4L867.5,201.1L864.3,199.9L861.1,198.7L857.8,197.6L854.6,196.5L851.2,195.5L847.9,194.5L844.6,193.6L841.2,192.8L837.8,192.1L834.4,191.4L830.9,190.7L827.5,190.1L824.0,189.4L820.5,188.8L817.0,188.1L813.4,187.3L809.9,186.5L806.2,185.7L802.6,184.9L798.9,184.1L795.2,183.2L791.4,182.4L787.6,181.6L783.7,180.8L779.8,180.1L775.8,179.3L771.8,178.5L767.7,177.7L763.5,176.9L759.3,176.2L755.1,175.6L750.8,175.1L746.5,174.7L742.2,174.5L737.9,174.4L733.6,174.6L729.4,175.0L725.3,175.7L721.2,176.6L717.2,177.7L713.2,178.9L709.2,180.2L705.2,181.6L701.3,183.1L697.4,184.8L693.6,186.6L689.9,188.6L686.3,190.7L682.8,193.0L679.5,195.5L676.3,198.3L673.3,201.2L670.5,204.4L667.8,207.6L665.3,211.1L662.9,214.6L660.7,218.3L658.6,222.0L656.7,225.8L654.8,229.6L653.0,233.4L651.3,237.3L649.7,241.1L648.1,245.0L646.7,248.9L645.5,252.8L644.4,256.9L643.5,261.0L642.7,265.1L642.0,269.2L641.3,273.2L640.7,277.3L640.2,281.3L639.8,285.3L639.4,289.2L638.9,293.1L638.3,296.8L637.7,300.4L637.1,304.1L636.4,307.6L635.7,311.2L635.1,314.7L634.4,318.2L633.8,321.6L633.2,325.1L632.6,328.5L632.0,332.0L631.5,335.4L631.0,338.8L630.6,342.3L630.2,345.7L629.9,349.1L629.6,352.5L629.3,355.9L629.1,359.3L629.0,362.7L628.9,366.1L628.9,369.5L628.8,372.8L628.9,376.2L629.0,379.6L629.1,382.9L629.2,386.3L629.4,389.6Z" fill="#e36b54"/>
<path d="M983.9,389.6L983.9,386.7L983.8,383.9L983.7,381.0L983.5,378.2L983.3,375.4L983.0,372.5L982.7,369.7L982.3,366.9L981.8,364.0L981.4,361.2L980.8,358.4L980.3,355.6L979.6,352.9L978.9,350.1L978.2,347.3L977.4,344.6L976.6,341.9L975.7,339.2L974.8,336.5L973.9,333.8L972.8,331.1L971.8,328.5L970.7,325.9L969.5,323.2L968.3,320.7L967.1,318.1L965.8,315.6L964.5,313.1L963.1,310.6L961.7,308.1L960.2,305.7L958.7,303.3L957.1,300.9L955.5,298.6L953.8,296.2L952.1,294.0L950.4,291.7L948.6,289.5L946.7,287.4L944.9,285.2L943.0,283.1L941.1,281.0L939.1,279.0L937.1,277.0L935.1,275.0L933.1,273.0L931.0,271.1L928.9,269.2L926.8,267.3L924.7,265.4L922.5,263.6L920.4,261.7L918.2,259.9L916.1,258.1L913.8,256.3L911.6,254.5L909.4,252.7L907.1,251.0L904.8,249.3L902.5,247.6L900.1,245.9L897.7,244.3L895.3,242.7L892.9,241.2L890.4,239.6L887.9,238.2L885.4,236.7L882.8,235.3L880.2,234.0L877.6,232.7L875.0,231.4L872.3,230.2L869.6,229.0L866.9,227.8L864.1,226.7L861.4,225.6L858.6,224.6L855.8,223.5L853.0,222.6L850.1,221.6L847.3,220.7L844.4,219.8L841.5,218.9L838.5,218.1L835.6,217.3L832.6,216.5L829.6,215.7L826.6,214.9L823.6,214.0L820.5,213.2L817.4,212.3L814.3,211.2L811.1,210.1L807.9,209.0L804.6,208.0L801.3,206.8L797.9,205.7L794.5,204.6L791.0,203.5L787.5,202.3L783.9,201.2L780.3,200.4L776.7,199.9L773.1,199.6L769.5,199.4L765.9,199.3L762.3,199.3L758.7,199.4L755.1,199.6L751.5,199.9L747.9,200.4L744.2,200.8L740.6,201.3L736.8,201.6L732.9,201.7L728.8,201.7L724.8,201.8L721.0,202.4L717.3,203.3L713.6,204.4L709.9,205.6L706.4,206.9L702.9,208.6L699.7,210.5L696.7,212.9L694.1,215.6L691.6,218.5L689.3,221.7L687.1,224.8L685.0,228.2L683.3,231.7L681.7,235.5L680.4,239.4L679.3,243.4L678.7,247.8L678.3,252.3L677.9,256.6L677.3,260.7L676.7,264.6L676.2,268.5L675.5,272.2L674.8,275.8L674.2,279.4L673.6,282.9L673.1,286.4L672.5,289.8L671.9,293.1L671.3,296.4L670.5,299.5L669.6,302.5L668.7,305.4L667.7,308.4L666.8,311.3L665.9,314.2L664.9,317.1L664.0,319.9L663.2,322.8L662.3,325.7L661.5,328.6L660.8,331.5L660.0,334.3L659.3,337.2L658.6,340.1L657.9,343.0L657.3,345.9L656.8,348.8L656.3,351.7L655.9,354.6L655.5,357.5L655.2,360.5L655.0,363.4L654.8,366.3L654.7,369.2L654.6,372.2L654.6,375.1L654.7,378.0L654.8,380.9L654.9,383.8L655.1,386.7L655.4,389.6Z" fill="#f59f80"/>
<path d="M959.1,389.6L959.1,387.2L959.0,384.8L958.9,382.3L958.7,379.9L958.6,377.5L958.3,375.1L958.0,372.7L957.7,370.3L957.3,367.9L956.9,365.5L956.5,363.2L956.0,360.8L955.4,358.5L954.8,356.1L954.2,353.8L953.5,351.4L952.8,349.1L952.1,346.8L951.3,344.6L950.5,342.3L949.6,340.0L948.7,337.8L947.7,335.6L946.8,333.4L945.7,331.2L944.7,329.0L943.6,326.9L942.4,324.8L941.2,322.7L940.0,320.6L938.7,318.5L937.4,316.5L936.1,314.6L934.6,312.6L933.2,310.7L931.7,308.8L930.2,307.0L928.6,305.2L927.0,303.4L925.4,301.6L923.7,299.9L922.0,298.2L920.3,296.5L918.6,294.8L916.9,293.2L915.2,291.6L913.4,290.0L911.6,288.4L909.9,286.8L908.1,285.2L906.3,283.6L904.5,282.0L902.7,280.5L900.9,278.9L899.1,277.3L897.3,275.8L895.4,274.2L893.5,272.7L891.6,271.2L889.7,269.7L887.8,268.2L885.8,266.8L883.8,265.3L881.8,263.9L879.7,262.6L877.7,261.2L875.6,259.9L873.4,258.6L871.3,257.4L869.1,256.2L866.9,255.0L864.6,253.8L862.4,252.7L860.1,251.6L857.8,250.5L855.5,249.4L853.1,248.3L850.8,247.3L848.4,246.2L846.0,245.2L843.5,244.3L841.1,243.3L838.6,242.4L836.1,241.5L833.5,240.6L831.0,239.8L828.4,238.9L825.8,238.2L823.2,237.4L820.5,236.7L817.8,236.0L815.1,235.2L812.4,234.5L809.6,233.7L806.8,233.0L804.0,232.3L801.1,231.7L798.2,231.2L795.3,230.7L792.4,230.3L789.5,230.0L786.5,229.7L783.5,229.5L780.5,229.3L777.5,229.2L774.5,229.1L771.4,229.0L768.3,229.0L765.2,229.1L762.1,229.2L759.0,229.3L755.8,229.5L752.7,229.8L749.5,230.2L746.3,230.6L743.1,230.9L739.9,231.5L736.9,232.3L733.9,233.4L731.0,234.6L728.3,236.1L725.8,238.0L723.6,240.4L721.5,242.9L719.5,245.4L717.7,248.1L716.0,250.9L714.4,253.7L712.8,256.6L711.2,259.4L709.7,262.1L708.2,264.9L706.8,267.6L705.3,270.4L704.0,273.1L702.6,275.7L701.3,278.4L699.9,281.0L698.7,283.7L697.4,286.3L696.2,289.0L695.1,291.6L693.9,294.2L692.9,296.9L691.8,299.5L690.8,302.1L689.9,304.8L689.0,307.4L688.1,310.0L687.3,312.7L686.5,315.3L685.8,318.0L685.2,320.7L684.6,323.3L684.0,325.9L683.4,328.6L682.9,331.2L682.4,333.8L681.9,336.4L681.4,339.0L680.9,341.5L680.5,344.1L680.0,346.6L679.6,349.2L679.2,351.7L678.9,354.3L678.6,356.8L678.5,359.4L678.4,362.0L678.4,364.5L678.4,367.1L678.5,369.6L678.7,372.2L678.9,374.7L679.2,377.2L679.6,379.7L680.0,382.2L680.5,384.7L681.0,387.2L681.6,389.6Z" fill="#f4c6af"/>
<path d="M935.0,389.6L935.0,387.6L934.9,385.6L934.8,383.6L934.7,381.6L934.6,379.6L934.4,377.6L934.1,375.6L933.9,373.7L933.6,371.7L933.2,369.7L932.9,367.8L932.5,365.8L932.0,363.9L931.5,361.9L931.0,360.0L930.5,358.1L929.9,356.1L929.3,354.2L928.7,352.4L928.0,350.5L927.3,348.6L926.5,346.8L925.7,344.9L924.9,343.1L924.1,341.3L923.2,339.5L922.3,337.7L921.4,336.0L920.4,334.2L919.4,332.5L918.4,330.8L917.3,329.1L916.2,327.5L915.0,325.9L913.7,324.3L912.4,322.8L911.0,321.4L909.7,319.9L908.3,318.5L906.8,317.2L905.4,315.8L903.9,314.5L902.4,313.2L901.0,311.9L899.5,310.6L898.0,309.3L896.6,308.0L895.1,306.7L893.7,305.4L892.2,304.2L890.7,302.9L889.2,301.6L887.7,300.4L886.2,299.2L884.6,298.0L883.1,296.8L881.5,295.7L879.9,294.5L878.3,293.4L876.7,292.3L875.1,291.2L873.4,290.1L871.7,289.1L870.0,288.1L868.3,287.1L866.6,286.1L864.8,285.1L863.1,284.2L861.3,283.3L859.5,282.5L857.7,281.6L855.9,280.8L854.0,279.9L852.2,279.0L850.4,278.2L848.5,277.3L846.6,276.5L844.7,275.6L842.8,274.8L840.9,274.0L838.9,273.3L837.0,272.5L835.0,271.8L833.0,271.1L830.9,270.5L828.9,269.9L826.8,269.3L824.7,268.7L822.6,268.2L820.5,267.6L818.4,267.0L816.2,266.5L814.0,265.9L811.8,265.4L809.6,264.9L807.3,264.4L805.1,263.9L802.8,263.4L800.4,263.0L798.1,262.5L795.7,262.2L793.3,261.8L790.9,261.5L788.5,261.1L786.0,260.8L783.5,260.5L780.9,260.2L778.4,260.0L775.8,259.9L773.2,259.8L770.6,259.7L768.1,259.8L765.4,259.9L762.8,260.0L760.2,260.3L757.7,260.8L755.2,261.5L752.8,262.3L750.5,263.2L748.1,264.2L745.9,265.4L743.7,266.6L741.6,268.1L739.6,269.7L737.7,271.4L735.9,273.2L734.1,275.0L732.4,276.9L730.7,278.8L729.2,280.7L727.6,282.8L726.2,284.9L724.8,287.0L723.5,289.2L722.3,291.4L721.1,293.6L719.9,295.8L718.8,298.1L717.8,300.3L716.8,302.6L715.8,304.8L714.9,307.1L714.1,309.4L713.3,311.7L712.6,314.1L712.0,316.4L711.3,318.7L710.8,321.0L710.2,323.3L709.6,325.6L709.1,327.9L708.6,330.1L708.2,332.4L707.8,334.6L707.4,336.9L707.0,339.1L706.7,341.3L706.4,343.5L706.1,345.7L705.8,347.9L705.6,350.0L705.5,352.2L705.3,354.4L705.2,356.5L705.1,358.7L705.0,360.8L705.0,362.9L704.9,365.0L704.8,367.1L704.8,369.2L704.7,371.3L704.7,373.3L704.7,375.4L704.7,377.4L704.8,379.5L704.8,381.5L704.9,383.5L705.0,385.6L705.1,387.6L705.2,389.6Z" fill="#dedcdb"/>
<path d="M909.8,389.6L909.8,388.0L909.7,386.5L909.7,384.9L909.6,383.4L909.4,381.8L909.3,380.3L909.1,378.7L908.9,377.2L908.6,375.6L908.4,374.1L908.0,372.6L907.7,371.1L907.4,369.5L907.0,368.0L906.6,366.5L906.1,365.0L905.6,363.6L905.2,362.1L904.6,360.6L904.1,359.2L903.5,357.7L902.9,356.3L902.3,354.9L901.6,353.5L900.9,352.1L900.2,350.7L899.5,349.3L898.8,348.0L898.0,346.6L897.2,345.3L896.4,344.0L895.5,342.7L894.6,341.5L893.6,340.3L892.6,339.1L891.6,338.0L890.5,336.8L889.4,335.8L888.3,334.7L887.2,333.6L886.0,332.6L884.9,331.6L883.7,330.6L882.6,329.6L881.4,328.7L880.3,327.7L879.2,326.7L878.0,325.7L876.9,324.7L875.8,323.7L874.6,322.7L873.5,321.8L872.3,320.8L871.1,319.9L869.9,319.0L868.7,318.1L867.5,317.2L866.3,316.4L865.0,315.5L863.8,314.7L862.5,313.9L861.2,313.1L859.9,312.3L858.6,311.5L857.3,310.8L855.9,310.1L854.6,309.4L853.2,308.7L851.8,308.0L850.4,307.4L849.0,306.7L847.6,306.1L846.2,305.5L844.8,304.8L843.4,304.2L841.9,303.6L840.5,302.9L839.1,302.3L837.6,301.7L836.1,301.1L834.6,300.5L833.1,300.0L831.6,299.4L830.0,298.9L828.5,298.4L826.9,297.8L825.3,297.2L823.7,296.7L822.1,296.1L820.5,295.6L818.9,295.1L817.2,294.7L815.5,294.3L813.8,294.0L812.1,293.6L810.4,293.3L808.6,293.1L806.9,292.8L805.1,292.6L803.4,292.4L801.6,292.2L799.8,292.0L797.9,291.9L796.1,291.8L794.3,291.7L792.4,291.5L790.5,291.3L788.5,291.1L786.5,290.9L784.5,290.7L782.5,290.5L780.4,290.4L778.3,290.3L776.3,290.3L774.2,290.4L772.2,290.6L770.2,291.0L768.3,291.4L766.4,292.1L764.6,292.8L762.8,293.6L761.0,294.4L759.3,295.3L757.5,296.2L755.8,297.2L754.1,298.3L752.5,299.4L750.9,300.6L749.4,301.8L748.0,303.3L746.8,304.8L745.5,306.4L744.4,308.0L743.3,309.7L742.3,311.4L741.2,313.0L740.2,314.7L739.3,316.5L738.4,318.2L737.5,320.0L736.7,321.8L736.0,323.6L735.3,325.4L734.6,327.2L734.0,329.0L733.4,330.9L732.8,332.7L732.3,334.5L731.8,336.3L731.3,338.1L730.9,339.9L730.5,341.7L730.1,343.6L729.8,345.4L729.5,347.2L729.3,349.0L729.0,350.8L728.8,352.6L728.6,354.3L728.5,356.1L728.4,357.9L728.3,359.6L728.2,361.4L728.2,363.1L728.2,364.9L728.2,366.6L728.3,368.3L728.3,370.0L728.4,371.7L728.4,373.4L728.5,375.0L728.6,376.7L728.7,378.3L728.8,380.0L728.9,381.6L729.1,383.2L729.2,384.8L729.4,386.4L729.6,388.0L729.8,389.6Z" fill="#bcd2f7"/>
<path d="M884.5,389.6L884.5,388.5L884.4,387.4L884.4,386.3L884.3,385.1L884.1,384.0L884.0,382.9L883.9,381.8L883.7,380.7L883.5,379.6L883.3,378.5L883.0,377.4L882.8,376.4L882.5,375.3L882.2,374.2L881.8,373.2L881.5,372.1L881.1,371.1L880.8,370.0L880.4,369.0L880.0,368.0L879.5,366.9L879.1,365.9L878.6,364.9L878.1,364.0L877.6,363.0L877.1,362.0L876.5,361.1L875.9,360.1L875.3,359.2L874.7,358.3L874.1,357.4L873.4,356.5L872.7,355.7L872.0,354.9L871.3,354.0L870.6,353.2L869.8,352.4L869.1,351.6L868.3,350.9L867.6,350.1L866.8,349.3L866.0,348.6L865.3,347.9L864.5,347.1L863.7,346.4L862.9,345.7L862.1,345.0L861.3,344.3L860.5,343.6L859.7,342.9L858.9,342.2L858.1,341.5L857.2,340.9L856.4,340.2L855.5,339.6L854.6,339.0L853.8,338.4L852.9,337.8L852.0,337.2L851.0,336.7L850.1,336.2L849.2,335.6L848.3,335.1L847.3,334.6L846.4,334.2L845.4,333.7L844.4,333.2L843.4,332.8L842.5,332.4L841.5,332.0L840.5,331.6L839.5,331.2L838.5,330.8L837.5,330.4L836.5,329.9L835.5,329.5L834.5,329.1L833.4,328.7L832.4,328.3L831.4,327.9L830.3,327.6L829.3,327.2L828.2,326.9L827.1,326.6L826.0,326.3L825.0,325.9L823.9,325.6L822.7,325.3L821.6,325.0L820.5,324.8L819.4,324.5L818.2,324.2L817.1,324.0L815.9,323.7L814.7,323.5L813.5,323.2L812.3,322.9L811.1,322.6L809.8,322.2L808.6,321.9L807.3,321.5L806.0,321.2L804.6,320.9L803.3,320.7L802.0,320.5L800.7,320.4L799.3,320.3L798.0,320.2L796.6,320.1L795.2,320.1L793.8,320.0L792.4,320.1L791.0,320.2L789.7,320.4L788.3,320.7L787.1,321.0L785.8,321.5L784.6,322.1L783.4,322.7L782.2,323.3L781.1,323.9L779.9,324.6L778.7,325.3L777.6,326.0L776.5,326.7L775.4,327.5L774.3,328.3L773.2,329.1L772.1,329.9L771.1,330.7L770.1,331.6L769.1,332.5L768.1,333.4L767.1,334.3L766.1,335.2L765.2,336.2L764.3,337.2L763.5,338.3L762.7,339.4L762.0,340.5L761.4,341.7L760.7,342.9L760.2,344.1L759.6,345.4L759.1,346.6L758.6,347.9L758.2,349.1L757.7,350.4L757.3,351.6L757.0,352.9L756.7,354.2L756.4,355.5L756.2,356.8L756.0,358.1L755.8,359.5L755.7,360.8L755.6,362.0L755.5,363.3L755.3,364.6L755.2,365.8L755.1,367.1L755.0,368.3L755.0,369.6L754.9,370.8L754.9,372.0L754.9,373.2L754.9,374.5L754.9,375.7L755.0,376.9L755.0,378.1L755.1,379.2L755.2,380.4L755.3,381.6L755.4,382.8L755.5,383.9L755.7,385.1L755.8,386.2L756.0,387.3L756.2,388.5L756.4,389.6Z" fill="#96b7ff"/>
<path d="M860.2,389.6L860.2,388.9L860.1,388.2L860.0,387.5L860.0,386.8L859.9,386.2L859.7,385.5L859.6,384.8L859.5,384.1L859.3,383.4L859.2,382.8L859.0,382.1L858.8,381.5L858.6,380.8L858.4,380.2L858.1,379.5L857.9,378.9L857.6,378.2L857.4,377.6L857.1,377.0L856.8,376.4L856.5,375.8L856.2,375.2L855.9,374.6L855.6,374.0L855.2,373.4L854.9,372.8L854.5,372.3L854.1,371.7L853.7,371.2L853.3,370.7L852.9,370.2L852.4,369.6L852.0,369.1L851.5,368.7L851.1,368.2L850.6,367.7L850.1,367.3L849.6,366.8L849.2,366.4L848.7,366.0L848.2,365.6L847.7,365.1L847.2,364.7L846.6,364.4L846.1,364.0L845.6,363.6L845.1,363.2L844.6,362.8L844.1,362.5L843.5,362.1L843.0,361.8L842.5,361.5L841.9,361.2L841.4,360.9L840.8,360.6L840.3,360.3L839.7,360.0L839.2,359.7L838.6,359.5L838.0,359.2L837.5,359.0L836.9,358.8L836.3,358.6L835.7,358.3L835.2,358.1L834.6,357.9L834.0,357.7L833.5,357.5L832.9,357.3L832.3,357.1L831.7,357.0L831.2,356.8L830.6,356.6L830.0,356.4L829.4,356.2L828.9,356.0L828.3,355.8L827.7,355.6L827.1,355.4L826.6,355.2L826.0,355.0L825.4,354.7L824.8,354.5L824.2,354.3L823.6,354.1L823.0,353.9L822.4,353.7L821.8,353.5L821.1,353.3L820.5,353.1L819.9,352.9L819.2,352.7L818.6,352.5L817.9,352.2L817.2,352.0L816.5,351.7L815.8,351.5L815.1,351.3L814.4,351.1L813.7,350.9L812.9,350.7L812.2,350.6L811.5,350.5L810.7,350.4L810.0,350.3L809.2,350.2L808.4,350.1L807.6,350.0L806.9,350.0L806.1,350.0L805.3,349.9L804.5,349.9L803.7,349.9L802.8,349.9L802.0,349.9L801.1,349.9L800.3,349.9L799.4,349.9L798.5,350.0L797.6,350.0L796.8,350.1L795.9,350.2L795.0,350.3L794.1,350.5L793.2,350.7L792.4,350.9L791.5,351.2L790.7,351.5L789.9,351.8L789.1,352.2L788.4,352.6L787.6,353.1L786.9,353.6L786.2,354.1L785.5,354.6L784.8,355.1L784.1,355.6L783.4,356.2L782.7,356.8L782.1,357.4L781.4,358.0L780.8,358.6L780.2,359.2L779.6,359.9L779.1,360.6L778.5,361.3L778.0,362.0L777.5,362.7L777.0,363.4L776.5,364.2L776.1,365.0L775.7,365.8L775.3,366.6L775.0,367.4L774.8,368.3L774.5,369.1L774.4,370.0L774.3,370.9L774.2,371.8L774.1,372.7L774.1,373.6L774.0,374.5L774.1,375.4L774.1,376.3L774.1,377.2L774.2,378.0L774.2,378.9L774.3,379.8L774.4,380.6L774.5,381.5L774.6,382.3L774.8,383.2L775.0,384.0L775.2,384.8L775.4,385.7L775.7,386.5L776.0,387.3L776.3,388.1L776.6,388.8L776.9,389.6Z" fill="#6e90f2"/>
<ellipse cx="0" cy="0" rx="11.5" ry="5.6" transform="translate(809.5,383.6) rotate(27)" fill="#4961d2" stroke="#000" stroke-width="0.9"/>
<path d="M1008.7,389.6L1008.7,388.0L1008.7,386.3L1008.6,384.7L1008.6,383.0L1008.5,381.4L1008.4,379.8L1008.3,378.1L1008.2,376.5L1008.1,374.8L1008.0,373.2L1007.8,371.6L1007.7,369.9L1007.5,368.3L1007.3,366.7L1007.1,365.0L1006.9,363.4L1006.6,361.8L1006.4,360.2L1006.1,358.5L1005.8,356.9L1005.5,355.3L1005.2,353.7L1004.9,352.1L1004.6,350.5L1004.2,348.9L1003.8,347.3L1003.5,345.7L1003.1,344.1L1002.7,342.5L1002.2,340.9L1001.8,339.3L1001.3,337.7L1000.9,336.2L1000.4,334.6L999.9,333.0L999.4,331.5L998.9,329.9L998.4,328.4L997.8,326.8L997.3,325.3L996.7,323.7L996.1,322.2L995.5,320.7L994.9,319.1L994.3,317.6L993.6,316.1L993.0,314.6L992.3,313.1L991.6,311.6L990.9,310.1L990.2,308.6L989.5,307.2L988.8,305.7L988.0,304.2L987.3,302.8L986.5,301.3L985.7,299.9L984.9,298.5L984.1,297.0L983.3,295.6L982.5,294.2L981.6,292.8L980.8,291.4L979.9,290.0L979.0,288.6L978.1,287.2L977.2,285.9L976.3,284.5L975.3,283.2L974.4,281.8L973.4,280.5L972.5,279.2L971.5,277.9L970.5,276.6L969.5,275.3L968.5,274.0L967.4,272.7L966.4,271.5L965.3,270.2L964.3,269.0L963.2,267.7L962.1,266.5L961.0,265.3L959.9,264.1L958.8,262.9L957.7,261.7L956.6,260.5L955.4,259.3L954.3,258.1L953.1,257.0L951.9,255.8L950.8,254.7L949.6,253.6L948.4,252.5L947.2,251.4L946.0,250.3L944.7,249.2L943.5,248.1L942.3,247.0L941.1,245.9L939.8,244.9L938.6,243.8M902.5,217.7L901.0,216.9L899.6,216.1L898.1,215.3L896.7,214.4L895.2,213.7L893.7,212.9L892.2,212.1L890.7,211.4L889.2,210.6L887.7,209.9L886.2,209.2L884.6,208.5L883.1,207.8L881.6,207.1L880.0,206.4L878.5,205.7L876.9,205.0L875.4,204.4L873.8,203.7L872.2,203.0L870.7,202.4L869.1,201.7L867.5,201.1L865.9,200.5L864.3,199.9L862.7,199.3L861.1,198.7L859.5,198.1L857.8,197.6L856.2,197.0L854.6,196.5L852.9,196.0L851.2,195.5L849.6,195.0L847.9,194.5L846.2,194.1L844.6,193.6L842.9,193.2L841.2,192.8L839.5,192.4L837.8,192.1L836.1,191.7L834.4,191.4L832.6,191.0L830.9,190.7L829.2,190.4L827.5,190.1L825.7,189.8L824.0,189.4L822.2,189.1L820.5,188.8L818.7,188.5L817.0,188.1L815.2,187.7L813.4,187.3L811.7,186.9L809.9,186.5L808.1,186.1L806.2,185.7L804.4,185.3L802.6,184.9L800.8,184.5L798.9,184.1L797.0,183.6L795.2,183.2L793.3,182.8L791.4,182.4L789.5,182.0L787.6,181.6L785.6,181.2L783.7,180.8L781.7,180.5L779.8,180.1L777.8,179.7L775.8,179.3L773.8,178.9L771.8,178.5L769.7,178.1L767.7,177.7L765.6,177.3L763.5,176.9L761.4,176.5L759.3,176.2L757.2,175.9L755.1,175.6L752.9,175.3L750.8,175.1L748.6,174.8L746.5,174.7L744.3,174.5L742.2,174.5L740.0,174.4L737.9,174.4L735.8,174.5L733.6,174.6L731.5,174.8L729.4,175.0L727.3,175.3L725.3,175.7L723.2,176.1L721.2,176.6L719.2,177.2L717.2,177.7L715.2,178.3L713.2,178.9L711.2,179.5L709.2,180.2L707.2,180.9L705.2,181.6L703.2,182.4L701.3,183.1L699.4,183.9L697.4,184.8L695.5,185.7L693.6,186.6L691.8,187.6L689.9,188.6L688.1,189.6L686.3,190.7L684.6,191.8L682.8,193.0L681.1,194.2L679.5,195.5L677.9,196.9L676.3,198.3L674.8,199.7L673.3,201.2L671.9,202.8L670.5,204.4L669.1,206.0L667.8,207.6L666.5,209.3L665.3,211.1L664.1,212.8L662.9,214.6L661.8,216.4L660.7,218.3L659.7,220.1L658.6,222.0L657.6,223.9L656.7,225.8L655.7,227.7L654.8,229.6L653.9,231.5L653.0,233.4L652.2,235.4L651.3,237.3L650.5,239.2L649.7,241.1L648.9,243.1L648.1,245.0L647.4,246.9L646.7,248.9L646.1,250.8L645.5,252.8L644.9,254.9L644.4,256.9L643.9,258.9L643.5,261.0L643.1,263.0L642.7,265.1L642.3,267.1L642.0,269.2L641.6,271.2L641.3,273.2L641.0,275.3L640.7,277.3L640.4,279.3L640.2,281.3L640.0,283.3L639.8,285.3L639.6,287.2L639.4,289.2L639.2,291.2L638.9,293.1L638.7,294.9L638.3,296.8L638.0,298.6L637.7,300.4L637.4,302.3L637.1,304.1L636.7,305.9L636.4,307.6L636.1,309.4L635.7,311.2L635.4,312.9L635.1,314.7L634.7,316.4L634.4,318.2L634.1,319.9L633.8,321.6L633.5,323.4L633.2,325.1L632.9,326.8L632.6,328.5L632.3,330.3L632.0,332.0L631.8,333.7L631.5,335.4L631.3,337.1L631.0,338.8L630.8,340.5L630.6,342.3L630.4,344.0L630.2,345.7L630.0,347.4L629.9,349.1L629.7,350.8L629.6,352.5L629.5,354.2L629.3,355.9L629.2,357.6L629.1,359.3L629.1,361.0L629.0,362.7L629.0,364.4L628.9,366.1L628.9,367.8L628.9,369.5L628.8,371.1L628.8,372.8L628.9,374.5L628.9,376.2L628.9,377.9L629.0,379.6L629.0,381.2L629.1,382.9L629.1,384.6L629.2,386.3L629.3,387.9L629.4,389.6" fill="none" stroke="#000" stroke-width="0.95"/>
<path d="M983.9,389.6L983.9,388.2L983.9,386.7L983.8,385.3L983.8,383.9L983.7,382.5L983.7,381.0L983.6,379.6L983.5,378.2L983.4,376.8L983.3,375.4L983.1,373.9L983.0,372.5L982.8,371.1L982.7,369.7L982.5,368.3L982.3,366.9L982.1,365.5L981.8,364.0L981.6,362.6L981.4,361.2L981.1,359.8L980.8,358.4L980.6,357.0L980.3,355.6L979.9,354.3L979.6,352.9L979.3,351.5L978.9,350.1L978.6,348.7L978.2,347.3L977.8,346.0L977.4,344.6L977.0,343.2L976.6,341.9L976.2,340.5L975.7,339.2L975.3,337.8L974.8,336.5L974.4,335.1L973.9,333.8L973.4,332.4L972.8,331.1L972.3,329.8L971.8,328.5L971.2,327.2L970.7,325.9L970.1,324.5L969.5,323.2L968.9,322.0L968.3,320.7L967.7,319.4L967.1,318.1L966.4,316.8L965.8,315.6L965.1,314.3L964.5,313.1L963.8,311.8L963.1,310.6L962.4,309.3L961.7,308.1L960.9,306.9L960.2,305.7L959.4,304.5L958.7,303.3L957.9,302.1L957.1,300.9L956.3,299.7L955.5,298.6L954.7,297.4L953.8,296.2L953.0,295.1L952.1,294.0L951.2,292.9L950.4,291.7L949.5,290.6L948.6,289.5L947.7,288.4L946.7,287.4L945.8,286.3L944.9,285.2L943.9,284.2L943.0,283.1L942.0,282.1L941.1,281.0L940.1,280.0L939.1,279.0L938.1,278.0L937.1,277.0L936.1,276.0L935.1,275.0L934.1,274.0L933.1,273.0L932.0,272.1L931.0,271.1L929.9,270.2L928.9,269.2L927.8,268.3L926.8,267.3L925.7,266.4L924.7,265.4L923.6,264.5L922.5,263.6L921.5,262.7L920.4,261.7L919.3,260.8L918.2,259.9L917.1,259.0L916.1,258.1L915.0,257.2L913.8,256.3L912.7,255.4L911.6,254.5L910.5,253.6L909.4,252.7L908.2,251.9L907.1,251.0L906.0,250.1L904.8,249.3L903.6,248.4L902.5,247.6L901.3,246.8L900.1,245.9L898.9,245.1L897.7,244.3L896.5,243.5L895.3,242.7L894.1,241.9L892.9,241.2L891.7,240.4L890.4,239.6L889.2,238.9L887.9,238.2L886.7,237.4L885.4,236.7L884.1,236.0L882.8,235.3L881.5,234.6L880.2,234.0L878.9,233.3L877.6,232.7L876.3,232.0L875.0,231.4L873.6,230.8L872.3,230.2L871.0,229.6L869.6,229.0L868.2,228.4L866.9,227.8L865.5,227.3L864.1,226.7L862.8,226.2L861.4,225.6L860.0,225.1L858.6,224.6L857.2,224.1L855.8,223.5L854.4,223.0L853.0,222.6L851.6,222.1L850.1,221.6L848.7,221.1L847.3,220.7L845.8,220.2L844.4,219.8L842.9,219.3L841.5,218.9L840.0,218.5L838.5,218.1L837.1,217.7L835.6,217.3L834.1,216.9L832.6,216.5M787.5,202.3L785.7,201.7L783.9,201.2L782.1,200.8L780.3,200.4L778.5,200.1L776.7,199.9L774.9,199.7L773.1,199.6L771.3,199.5L769.5,199.4L767.7,199.3L765.9,199.3L764.1,199.3L762.3,199.3L760.5,199.3L758.7,199.4L756.9,199.5L755.1,199.6L753.3,199.7L751.5,199.9L749.7,200.1L747.9,200.4L746.0,200.6L744.2,200.8L742.4,201.0L740.6,201.3L738.7,201.4L736.8,201.6L734.9,201.7L732.9,201.7L730.9,201.7L728.8,201.7L726.8,201.7L724.8,201.8L722.9,202.0L721.0,202.4L719.1,202.9L717.3,203.3L715.4,203.8L713.6,204.4L711.7,204.9L709.9,205.6L708.1,206.2L706.4,206.9L704.6,207.7L702.9,208.6L701.3,209.5L699.7,210.5L698.2,211.6L696.7,212.9L695.4,214.2L694.1,215.6L692.8,217.0L691.6,218.5L690.4,220.1L689.3,221.7L688.2,223.3L687.1,224.8L686.0,226.5L685.0,228.2L684.1,229.9L683.3,231.7L682.5,233.6L681.7,235.5L681.0,237.4L680.4,239.4L679.8,241.3L679.3,243.4L679.0,245.6L678.7,247.8L678.5,250.1L678.3,252.3L678.1,254.5L677.9,256.6L677.6,258.6L677.3,260.7L677.0,262.7L676.7,264.6L676.5,266.6L676.2,268.5L675.8,270.3L675.5,272.2L675.1,274.0L674.8,275.8L674.5,277.6L674.2,279.4L673.9,281.1L673.6,282.9L673.4,284.6L673.1,286.4L672.8,288.1L672.5,289.8L672.2,291.5L671.9,293.1L671.6,294.8L671.3,296.4L670.9,297.9L670.5,299.5L670.1,301.0L669.6,302.5L669.2,304.0L668.7,305.4L668.2,306.9L667.7,308.4L667.3,309.8L666.8,311.3L666.3,312.7L665.9,314.2L665.4,315.6L664.9,317.1L664.5,318.5L664.0,319.9L663.6,321.4L663.2,322.8L662.8,324.3L662.3,325.7L661.9,327.1L661.5,328.6L661.1,330.0L660.8,331.5L660.4,332.9L660.0,334.3L659.6,335.8L659.3,337.2L658.9,338.7L658.6,340.1L658.3,341.5L657.9,343.0L657.6,344.4L657.3,345.9L657.1,347.3L656.8,348.8L656.5,350.2L656.3,351.7L656.1,353.1L655.9,354.6L655.7,356.1L655.5,357.5L655.4,359.0L655.2,360.5L655.1,361.9L655.0,363.4L654.9,364.8L654.8,366.3L654.7,367.8L654.7,369.2L654.6,370.7L654.6,372.2L654.6,373.6L654.6,375.1L654.6,376.5L654.7,378.0L654.7,379.5L654.8,380.9L654.8,382.4L654.9,383.8L655.0,385.3L655.1,386.7L655.3,388.2L655.4,389.6" fill="none" stroke="#000" stroke-width="0.95"/>
<path d="M959.1,389.6L959.1,388.4L959.1,387.2L959.1,386.0L959.0,384.8L959.0,383.6L958.9,382.3L958.8,381.1L958.7,379.9L958.7,378.7L958.6,377.5L958.4,376.3L958.3,375.1L958.2,373.9L958.0,372.7L957.9,371.5L957.7,370.3L957.5,369.1L957.3,367.9L957.1,366.7L956.9,365.5L956.7,364.4L956.5,363.2L956.2,362.0L956.0,360.8L955.7,359.6L955.4,358.5L955.1,357.3L954.8,356.1L954.5,354.9L954.2,353.8L953.9,352.6L953.5,351.4L953.2,350.3L952.8,349.1L952.5,348.0L952.1,346.8L951.7,345.7L951.3,344.6L950.9,343.4L950.5,342.3L950.0,341.2L949.6,340.0L949.2,338.9L948.7,337.8L948.2,336.7L947.7,335.6L947.2,334.5L946.8,333.4L946.2,332.3L945.7,331.2L945.2,330.1L944.7,329.0L944.1,328.0L943.6,326.9L943.0,325.8L942.4,324.8L941.8,323.7L941.2,322.7L940.6,321.6L940.0,320.6L939.4,319.6L938.7,318.5L938.1,317.5L937.4,316.5L936.8,315.5L936.1,314.6L935.4,313.6L934.6,312.6L933.9,311.6L933.2,310.7L932.4,309.8L931.7,308.8L930.9,307.9L930.2,307.0L929.4,306.1L928.6,305.2L927.8,304.3L927.0,303.4L926.2,302.5L925.4,301.6L924.5,300.7L923.7,299.9L922.9,299.0L922.0,298.2L921.2,297.3L920.3,296.5L919.5,295.7L918.6,294.8L917.8,294.0L916.9,293.2L916.0,292.4L915.2,291.6L914.3,290.8L913.4,290.0L912.5,289.2L911.6,288.4L910.8,287.6L909.9,286.8L909.0,286.0L908.1,285.2L907.2,284.4L906.3,283.6L905.4,282.8L904.5,282.0L903.6,281.3L902.7,280.5L901.8,279.7L900.9,278.9L900.0,278.1L899.1,277.3L898.2,276.6L897.3,275.8L896.3,275.0L895.4,274.2L894.5,273.5L893.5,272.7L892.6,272.0L891.6,271.2L890.7,270.5L889.7,269.7L888.7,269.0L887.8,268.2L886.8,267.5L885.8,266.8L884.8,266.1L883.8,265.3L882.8,264.6L881.8,263.9L880.8,263.2L879.7,262.6L878.7,261.9L877.7,261.2L876.6,260.5L875.6,259.9L874.5,259.2L873.4,258.6L872.3,258.0L871.3,257.4L870.2,256.8L869.1,256.2L868.0,255.6L866.9,255.0L865.7,254.4L864.6,253.8L863.5,253.3L862.4,252.7L861.2,252.1L860.1,251.6L858.9,251.0L857.8,250.5L856.6,249.9L855.5,249.4L854.3,248.8L853.1,248.3L851.9,247.8L850.8,247.3L849.6,246.7L848.4,246.2L847.2,245.7L846.0,245.2L844.7,244.7L843.5,244.3L842.3,243.8L841.1,243.3L839.8,242.8L838.6,242.4L837.3,241.9L836.1,241.5L834.8,241.0L833.5,240.6L832.3,240.2L831.0,239.8L829.7,239.4L828.4,238.9L827.1,238.6L825.8,238.2L824.5,237.8L823.2,237.4L821.8,237.1L820.5,236.7L819.2,236.3L817.8,236.0L816.5,235.6L815.1,235.2L813.7,234.8L812.4,234.5L811.0,234.1L809.6,233.7L808.2,233.3L806.8,233.0L805.4,232.6L804.0,232.3L802.5,232.0L801.1,231.7L799.7,231.4L798.2,231.2L796.8,230.9L795.3,230.7L793.9,230.5L792.4,230.3L790.9,230.1L789.5,230.0L788.0,229.8L786.5,229.7L785.0,229.6L783.5,229.5L782.0,229.4L780.5,229.3L779.0,229.2L777.5,229.2L776.0,229.1L774.5,229.1L772.9,229.0L771.4,229.0L769.9,229.0L768.3,229.0L766.8,229.0L765.2,229.1L763.7,229.1L762.1,229.2L760.5,229.2L759.0,229.3L757.4,229.4L755.8,229.5L754.3,229.7L752.7,229.8L751.1,230.0L749.5,230.2L747.9,230.4L746.3,230.6L744.7,230.7L743.1,230.9L741.5,231.2L739.9,231.5L738.4,231.9L736.9,232.3L735.4,232.9L733.9,233.4L732.5,234.0L731.0,234.6L729.6,235.3L728.3,236.1L727.0,237.0L725.8,238.0L724.7,239.2L723.6,240.4L722.6,241.6L721.5,242.9L720.5,244.1L719.5,245.4L718.6,246.7L717.7,248.1L716.8,249.5L716.0,250.9L715.2,252.3L714.4,253.7L713.6,255.2L712.8,256.6L712.0,258.0L711.2,259.4L710.4,260.7L709.7,262.1L708.9,263.5L708.2,264.9L707.5,266.2L706.8,267.6L706.0,269.0L705.3,270.4L704.7,271.7L704.0,273.1L703.3,274.4L702.6,275.7L701.9,277.1L701.3,278.4L700.6,279.7L699.9,281.0L699.3,282.4L698.7,283.7L698.0,285.0L697.4,286.3L696.8,287.6L696.2,289.0L695.6,290.3L695.1,291.6L694.5,292.9L693.9,294.2L693.4,295.5L692.9,296.9L692.3,298.2L691.8,299.5L691.3,300.8L690.8,302.1L690.3,303.4L689.9,304.8L689.4,306.1L689.0,307.4L688.5,308.7L688.1,310.0L687.7,311.4L687.3,312.7L686.9,314.0L686.5,315.3L686.2,316.7M678.4,360.7L678.4,362.0L678.4,363.3L678.4,364.5L678.4,365.8L678.4,367.1L678.5,368.4L678.5,369.6L678.6,370.9L678.7,372.2L678.8,373.5L678.9,374.7L679.1,376.0L679.2,377.2L679.4,378.5L679.6,379.7L679.8,381.0L680.0,382.2L680.2,383.5L680.5,384.7L680.7,385.9L681.0,387.2L681.3,388.4L681.6,389.6" fill="none" stroke="#000" stroke-width="0.95"/>
<path d="M935.0,389.6L935.0,388.6L935.0,387.6L935.0,386.6L934.9,385.6L934.9,384.6L934.8,383.6L934.8,382.6L934.7,381.6L934.6,380.6L934.6,379.6L934.5,378.6L934.4,377.6L934.3,376.6L934.1,375.6L934.0,374.7L933.9,373.7L933.7,372.7L933.6,371.7L933.4,370.7L933.2,369.7L933.1,368.7L932.9,367.8L932.7,366.8L932.5,365.8L932.2,364.8L932.0,363.9L931.8,362.9L931.5,361.9L931.3,360.9L931.0,360.0L930.8,359.0L930.5,358.1L930.2,357.1L929.9,356.1L929.6,355.2L929.3,354.2L929.0,353.3L928.7,352.4L928.3,351.4L928.0,350.5L927.6,349.5L927.3,348.6L926.9,347.7L926.5,346.8L926.1,345.8L925.7,344.9L925.3,344.0L924.9,343.1L924.5,342.2L924.1,341.3L923.7,340.4L923.2,339.5L922.8,338.6L922.3,337.7L921.9,336.8L921.4,336.0L920.9,335.1L920.4,334.2L919.9,333.4L919.4,332.5L918.9,331.6L918.4,330.8L917.9,329.9L917.3,329.1L916.7,328.3L916.2,327.5L915.6,326.7L915.0,325.9L914.3,325.1L913.7,324.3L913.1,323.6L912.4,322.8L911.7,322.1L911.0,321.4L910.4,320.6L909.7,319.9L909.0,319.2L908.3,318.5L907.5,317.8L906.8,317.2L906.1,316.5L905.4,315.8L904.6,315.2L903.9,314.5L903.2,313.8L902.4,313.2L901.7,312.5L901.0,311.9L900.2,311.2L899.5,310.6L898.8,310.0L898.0,309.3L897.3,308.7L896.6,308.0L895.8,307.4L895.1,306.7L894.4,306.1L893.7,305.4L892.9,304.8L892.2,304.2L891.5,303.5L890.7,302.9L890.0,302.3L889.2,301.6L888.5,301.0L887.7,300.4L886.9,299.8L886.2,299.2L885.4,298.6L884.6,298.0L883.9,297.4L883.1,296.8L882.3,296.2L881.5,295.7L880.7,295.1L879.9,294.5L879.1,293.9L878.3,293.4L877.5,292.8L876.7,292.3L875.9,291.7L875.1,291.2L874.2,290.7L873.4,290.1L872.6,289.6M831.9,270.8L830.9,270.5L829.9,270.2L828.9,269.9L827.8,269.6L826.8,269.3L825.8,269.0L824.7,268.7L823.7,268.4L822.6,268.2L821.6,267.9L820.5,267.6L819.4,267.3L818.4,267.0L817.3,266.8L816.2,266.5L815.1,266.2L814.0,265.9L812.9,265.7L811.8,265.4L810.7,265.1L809.6,264.9L808.5,264.6L807.3,264.4L806.2,264.1L805.1,263.9L803.9,263.6L802.8,263.4L801.6,263.2L800.4,263.0L799.3,262.7L798.1,262.5L796.9,262.4L795.7,262.2L794.5,262.0L793.3,261.8L792.1,261.7L790.9,261.5L789.7,261.3L788.5,261.1L787.2,261.0L786.0,260.8L784.7,260.7L783.5,260.5L782.2,260.4L780.9,260.2L779.7,260.1L778.4,260.0L777.1,259.9L775.8,259.9L774.5,259.8L773.2,259.8L771.9,259.7L770.6,259.7L769.4,259.8L768.1,259.8L766.8,259.8L765.4,259.9L764.1,259.9L762.8,260.0L761.5,260.1L760.2,260.3L758.9,260.5L757.7,260.8L756.5,261.2L755.2,261.5L754.0,261.9L752.8,262.3L751.6,262.8L750.5,263.2L749.3,263.7L748.1,264.2L747.0,264.8L745.9,265.4L744.7,266.0L743.7,266.6L742.6,267.3L741.6,268.1L740.6,268.8L739.6,269.7L738.6,270.5L737.7,271.4L736.8,272.3L735.9,273.2L735.0,274.1L734.1,275.0L733.3,275.9L732.4,276.9L731.6,277.8L730.7,278.8L729.9,279.7L729.2,280.7L728.4,281.8L727.6,282.8L726.9,283.8L726.2,284.9L725.5,285.9L724.8,287.0L724.2,288.1L723.5,289.2L722.9,290.3L722.3,291.4L721.7,292.5L721.1,293.6L720.5,294.7L719.9,295.8L719.4,296.9L718.8,298.1L718.3,299.2L717.8,300.3L717.3,301.4L716.8,302.6L716.3,303.7L715.8,304.8L715.4,306.0L714.9,307.1L714.5,308.3L714.1,309.4L713.7,310.6L713.3,311.7L713.0,312.9L712.6,314.1L712.3,315.2L712.0,316.4L711.7,317.6L711.3,318.7L711.0,319.9L710.8,321.0L710.5,322.2L710.2,323.3L709.9,324.5L709.6,325.6L709.4,326.7L709.1,327.9L708.9,329.0L708.6,330.1L708.4,331.3L708.2,332.4L708.0,333.5L707.8,334.6L707.6,335.7L707.4,336.9L707.2,338.0L707.0,339.1L706.8,340.2L706.7,341.3L706.5,342.4L706.4,343.5L706.2,344.6L706.1,345.7L706.0,346.8L705.8,347.9L705.7,349.0L705.6,350.0L705.5,351.1L705.5,352.2L705.4,353.3L705.3,354.4L705.3,355.5L705.2,356.5L705.2,357.6L705.1,358.7L705.1,359.7L705.0,360.8L705.0,361.9L705.0,362.9L704.9,364.0L704.9,365.0L704.9,366.1L704.8,367.1L704.8,368.2L704.8,369.2L704.8,370.2L704.7,371.3L704.7,372.3L704.7,373.3L704.7,374.4L704.7,375.4L704.7,376.4L704.7,377.4L704.8,378.5L704.8,379.5L704.8,380.5L704.8,381.5L704.9,382.5L704.9,383.5L705.0,384.6L705.0,385.6L705.0,386.6L705.1,387.6L705.1,388.6L705.2,389.6" fill="none" stroke="#000" stroke-width="0.95"/>
<path d="M909.8,389.6L909.8,388.8L909.8,388.0L909.8,387.3L909.7,386.5L909.7,385.7L909.7,384.9L909.6,384.1L909.6,383.4L909.5,382.6L909.4,381.8L909.4,381.0L909.3,380.3L909.2,379.5L909.1,378.7L909.0,378.0L908.9,377.2L908.8,376.4L908.6,375.6L908.5,374.9L908.4,374.1L908.2,373.3L908.0,372.6L907.9,371.8L907.7,371.1L907.5,370.3L907.4,369.5L907.2,368.8L907.0,368.0L906.8,367.3L906.6,366.5L906.3,365.8L906.1,365.0L905.9,364.3L905.6,363.6L905.4,362.8L905.2,362.1L904.9,361.4L904.6,360.6L904.4,359.9L904.1,359.2L903.8,358.5L903.5,357.7L903.2,357.0L902.9,356.3L902.6,355.6L902.3,354.9L902.0,354.2L901.6,353.5L901.3,352.8L900.9,352.1L900.6,351.4L900.2,350.7L899.9,350.0L899.5,349.3L899.1,348.7L898.8,348.0L898.4,347.3L898.0,346.6L897.6,346.0L897.2,345.3L896.8,344.7L896.4,344.0L895.9,343.4L895.5,342.7L895.0,342.1L894.6,341.5L894.1,340.9L893.6,340.3L893.1,339.7L892.6,339.1L892.1,338.5L891.6,338.0L891.1,337.4L890.5,336.8L890.0,336.3L889.4,335.8L888.9,335.2L888.3,334.7L887.7,334.2L887.2,333.6L886.6,333.1L886.0,332.6L885.5,332.1L884.9,331.6L884.3,331.1L883.7,330.6L883.2,330.1L882.6,329.6L882.0,329.1L881.4,328.7L880.9,328.2L880.3,327.7L879.7,327.2L879.2,326.7L878.6,326.2L878.0,325.7L877.5,325.2L876.9,324.7L876.4,324.2L875.8,323.7L875.2,323.2L874.6,322.7L874.1,322.3L873.5,321.8L872.9,321.3L872.3,320.8L871.7,320.4L871.1,319.9L870.5,319.5L869.9,319.0L869.3,318.5L868.7,318.1L868.1,317.7L867.5,317.2L866.9,316.8L866.3,316.4L865.6,315.9L865.0,315.5L864.4,315.1L863.8,314.7L863.1,314.3L862.5,313.9L861.8,313.5L861.2,313.1L860.5,312.7L859.9,312.3L859.2,311.9L858.6,311.5L857.9,311.2L857.3,310.8L856.6,310.4L855.9,310.1L855.2,309.7L854.6,309.4L853.9,309.0L853.2,308.7L852.5,308.3L851.8,308.0L851.1,307.7L850.4,307.4L849.7,307.1L849.0,306.7L848.3,306.4L847.6,306.1L846.9,305.8L846.2,305.5L845.5,305.2L844.8,304.8L844.1,304.5L843.4,304.2L842.7,303.9L841.9,303.6L841.2,303.3L840.5,302.9L839.8,302.6L839.1,302.3L838.3,302.0L837.6,301.7L836.8,301.4L836.1,301.1L835.4,300.8L834.6,300.5L833.9,300.3L833.1,300.0L832.3,299.7L831.6,299.4L830.8,299.2L830.0,298.9L829.3,298.6L828.5,298.4L827.7,298.1L826.9,297.8L826.1,297.5L825.3,297.2L824.5,296.9L823.7,296.7L822.9,296.4L822.1,296.1L821.3,295.8L820.5,295.6L819.7,295.4L818.9,295.1L818.0,294.9L817.2,294.7L816.3,294.5L815.5,294.3L814.7,294.1L813.8,294.0L813.0,293.8L812.1,293.6L811.2,293.5L810.4,293.3L809.5,293.2L808.6,293.1L807.8,292.9L806.9,292.8L806.0,292.7L805.1,292.6L804.2,292.5L803.4,292.4L802.5,292.3L801.6,292.2L800.7,292.1L799.8,292.0L798.9,292.0L797.9,291.9L797.0,291.8L796.1,291.8L795.2,291.7L794.3,291.7L793.3,291.6L792.4,291.5L791.4,291.4L790.5,291.3L789.5,291.2L788.5,291.1L787.5,291.0L786.5,290.9L785.5,290.8L784.5,290.7L783.5,290.6L782.5,290.5L781.4,290.4L780.4,290.4L779.4,290.3L778.3,290.3L777.3,290.3L776.3,290.3L775.3,290.3L774.2,290.4L773.2,290.5L772.2,290.6L771.2,290.8L770.2,291.0L769.3,291.2L768.3,291.4L767.4,291.7L766.4,292.1L765.5,292.4L764.6,292.8L763.7,293.2L762.8,293.6L761.9,294.0L761.0,294.4L760.1,294.9L759.3,295.3L758.4,295.8L757.5,296.2L756.7,296.7L755.8,297.2L755.0,297.7L754.1,298.3L753.3,298.8L752.5,299.4L751.7,300.0L750.9,300.6L750.2,301.2L749.4,301.8L748.7,302.5L748.0,303.3L747.4,304.0L746.8,304.8L746.1,305.6L745.5,306.4L745.0,307.2L744.4,308.0L743.9,308.8L743.3,309.7L742.8,310.5L742.3,311.4L741.7,312.2L741.2,313.0L740.7,313.9L740.2,314.7L739.7,315.6L739.3,316.5L738.8,317.3L738.4,318.2L737.9,319.1L737.5,320.0L737.1,320.9L736.7,321.8L736.4,322.7L736.0,323.6L735.6,324.5L735.3,325.4L734.9,326.3L734.6,327.2L734.3,328.1L734.0,329.0L733.7,329.9L733.4,330.9L733.1,331.8L732.8,332.7L732.6,333.6L732.3,334.5L732.0,335.4L731.8,336.3L731.6,337.2L731.3,338.1L731.1,339.0L730.9,339.9L730.7,340.8L730.5,341.7L730.3,342.7L730.1,343.6L730.0,344.5L729.8,345.4L729.7,346.3L729.5,347.2L729.4,348.1L729.3,349.0L729.1,349.9L729.0,350.8L728.9,351.7L728.8,352.6L728.7,353.4L728.6,354.3L728.6,355.2L728.5,356.1L728.4,357.0L728.4,357.9L728.3,358.8L728.3,359.6L728.3,360.5L728.2,361.4L728.2,362.3L728.2,363.1L728.2,364.0L728.2,364.9L728.2,365.7L728.2,366.6L728.3,367.5L728.3,368.3L728.3,369.2L728.3,370.0L728.3,370.8L728.4,371.7L728.4,372.5L728.4,373.4L728.5,374.2L728.5,375.0L728.5,375.9L728.6,376.7L728.6,377.5L728.7,378.3L728.7,379.1L728.8,380.0L728.9,380.8L728.9,381.6L729.0,382.4L729.1,383.2L729.2,384.0L729.2,384.8L729.3,385.6L729.4,386.4L729.5,387.2L729.6,388.0L729.7,388.8L729.8,389.6" fill="none" stroke="#000" stroke-width="0.95"/>
<path d="M884.5,389.6L884.5,389.0L884.5,388.5L884.5,387.9L884.4,387.4L884.4,386.8L884.4,386.3L884.3,385.7L884.3,385.1L884.2,384.6L884.1,384.0L884.1,383.5L884.0,382.9L883.9,382.4L883.9,381.8L883.8,381.3L883.7,380.7L883.6,380.2L883.5,379.6L883.4,379.1L883.3,378.5M860.1,343.2L859.7,342.9L859.3,342.5L858.9,342.2L858.5,341.9L858.1,341.5L857.6,341.2L857.2,340.9L856.8,340.5L856.4,340.2L855.9,339.9L855.5,339.6L855.1,339.3L854.6,339.0L854.2,338.7L853.8,338.4L853.3,338.1L852.9,337.8L852.4,337.5L852.0,337.2L851.5,337.0L851.0,336.7L850.6,336.4L850.1,336.2L849.7,335.9L849.2,335.6L848.7,335.4L848.3,335.1L847.8,334.9L847.3,334.6L846.8,334.4L846.4,334.2L845.9,333.9L845.4,333.7L844.9,333.5L844.4,333.2L843.9,333.0L843.4,332.8L843.0,332.6L842.5,332.4L842.0,332.2L841.5,332.0L841.0,331.8L840.5,331.6L840.0,331.4L839.5,331.2L839.0,331.0L838.5,330.8L838.0,330.6L837.5,330.4L837.0,330.1L836.5,329.9L836.0,329.7L835.5,329.5L835.0,329.3L834.5,329.1L834.0,328.9L833.4,328.7L832.9,328.5L832.4,328.3L831.9,328.1L831.4,327.9L830.9,327.7L830.3,327.6L829.8,327.4L829.3,327.2L828.7,327.1L828.2,326.9L827.7,326.7L827.1,326.6L826.6,326.4L826.0,326.3L825.5,326.1L825.0,325.9L824.4,325.8L823.9,325.6L823.3,325.5L822.7,325.3L822.2,325.2L821.6,325.0L821.1,324.9L820.5,324.8L819.9,324.6L819.4,324.5L818.8,324.4L818.2,324.2L817.6,324.1L817.1,324.0L816.5,323.8L815.9,323.7L815.3,323.6L814.7,323.5L814.1,323.3L813.5,323.2L812.9,323.0L812.3,322.9L811.7,322.7L811.1,322.6L810.5,322.4L809.8,322.2L809.2,322.0L808.6,321.9L807.9,321.7L807.3,321.5L806.6,321.4L806.0,321.2L805.3,321.1L804.6,320.9L804.0,320.8L803.3,320.7L802.7,320.6L802.0,320.5L801.3,320.4L800.7,320.4L800.0,320.3L799.3,320.3L798.6,320.3L798.0,320.2L797.3,320.2L796.6,320.1L795.9,320.1L795.2,320.1L794.5,320.1L793.8,320.0L793.1,320.1L792.4,320.1L791.7,320.1L791.0,320.2L790.4,320.3L789.7,320.4L789.0,320.5L788.3,320.7L787.7,320.8L787.1,321.0L786.4,321.3L785.8,321.5L785.2,321.8L784.6,322.1L784.0,322.4L783.4,322.7L782.8,323.0L782.2,323.3L781.6,323.6L781.1,323.9L780.5,324.3L779.9,324.6L779.3,324.9L778.7,325.3L778.2,325.6L777.6,326.0L777.0,326.4L776.5,326.7L775.9,327.1L775.4,327.5L774.8,327.9L774.3,328.3L773.7,328.7L773.2,329.1L772.7,329.5L772.1,329.9L771.6,330.3L771.1,330.7L770.6,331.2L770.1,331.6L769.6,332.0L769.1,332.5L768.6,332.9L768.1,333.4L767.6,333.8L767.1,334.3L766.6,334.8L766.1,335.2L765.7,335.7L765.2,336.2L764.7,336.7L764.3,337.2L763.9,337.7L763.5,338.3L763.1,338.8L762.7,339.4L762.4,339.9L762.0,340.5L761.7,341.1L761.4,341.7L761.0,342.3L760.7,342.9L760.5,343.5L760.2,344.1L759.9,344.8L759.6,345.4L759.4,346.0L759.1,346.6L758.9,347.3L758.6,347.9L758.4,348.5L758.2,349.1L758.0,349.8L757.7,350.4L757.5,351.0L757.3,351.6L757.2,352.3L757.0,352.9L756.8,353.6L756.7,354.2L756.5,354.9L756.4,355.5L756.3,356.2L756.2,356.8L756.1,357.5L756.0,358.1L755.9,358.8L755.8,359.5L755.8,360.1L755.7,360.8L755.6,361.4L755.6,362.0L755.5,362.7L755.5,363.3L755.4,364.0L755.3,364.6L755.3,365.2L755.2,365.8L755.2,366.5L755.1,367.1L755.1,367.7L755.0,368.3L755.0,369.0L755.0,369.6L755.0,370.2L754.9,370.8L754.9,371.4L754.9,372.0L754.9,372.6L754.9,373.2L754.9,373.8L754.9,374.5L754.9,375.1L754.9,375.7L754.9,376.3L755.0,376.9L755.0,377.5L755.0,378.1L755.0,378.6L755.1,379.2L755.1,379.8L755.2,380.4L755.2,381.0L755.3,381.6L755.3,382.2L755.4,382.8L755.4,383.3L755.5,383.9L755.6,384.5L755.7,385.1L755.7,385.6L755.8,386.2L755.9,386.8L756.0,387.3L756.1,387.9L756.2,388.5L756.3,389.0L756.4,389.6" fill="none" stroke="#000" stroke-width="0.95"/>
<path d="M860.2,389.6L860.2,389.3L860.2,388.9L860.1,388.6L860.1,388.2L860.1,387.9L860.0,387.5L860.0,387.2L860.0,386.8L859.9,386.5L859.9,386.2L859.8,385.8L859.7,385.5L859.7,385.1L859.6,384.8L859.6,384.5L859.5,384.1L859.4,383.8L859.3,383.4L859.2,383.1L859.2,382.8L859.1,382.5L859.0,382.1L858.9,381.8L858.8,381.5L858.7,381.1L858.6,380.8L858.5,380.5L858.4,380.2L858.3,379.8L858.1,379.5L858.0,379.2L857.9,378.9L857.8,378.6L857.6,378.2L857.5,377.9L857.4,377.6L857.2,377.3L857.1,377.0L857.0,376.7L856.8,376.4L856.7,376.1L856.5,375.8L856.4,375.5L856.2,375.2L856.0,374.9L855.9,374.6L855.7,374.3L855.6,374.0L855.4,373.7L855.2,373.4L855.0,373.1L854.9,372.8L854.7,372.6L854.5,372.3L854.3,372.0L854.1,371.7L853.9,371.5L853.7,371.2L853.5,370.9L853.3,370.7L853.1,370.4L852.9,370.2L852.7,369.9L852.4,369.6L852.2,369.4L852.0,369.1L851.8,368.9L851.5,368.7L851.3,368.4L851.1,368.2L850.8,368.0L850.6,367.7L850.4,367.5L850.1,367.3L849.9,367.0L849.6,366.8L849.4,366.6L849.2,366.4L848.9,366.2L848.7,366.0L848.4,365.8L848.2,365.6L847.9,365.3L847.7,365.1L847.4,364.9L847.2,364.7L846.9,364.5L846.6,364.4L846.4,364.2L846.1,364.0L845.9,363.8L845.6,363.6L845.4,363.4L845.1,363.2L844.8,363.0L844.6,362.8L844.3,362.7L844.1,362.5L843.8,362.3L843.5,362.1L843.3,362.0L843.0,361.8L842.7,361.6L842.5,361.5L842.2,361.3L841.9,361.2L841.7,361.0L841.4,360.9L841.1,360.7L840.8,360.6L840.6,360.4L840.3,360.3L840.0,360.1L839.7,360.0L839.4,359.9L839.2,359.7L838.9,359.6L838.6,359.5L838.3,359.4L838.0,359.2L837.7,359.1L837.5,359.0L837.2,358.9L836.9,358.8L836.6,358.7L836.3,358.6L836.0,358.4L835.7,358.3L835.5,358.2L835.2,358.1L834.9,358.0L834.6,357.9L834.3,357.8L834.0,357.7L833.7,357.6L833.5,357.5L833.2,357.4L832.9,357.3L832.6,357.2L832.3,357.1L832.0,357.1L831.7,357.0L831.4,356.9L831.2,356.8L830.9,356.7L830.6,356.6L830.3,356.5L830.0,356.4L829.7,356.3L829.4,356.2L829.2,356.1L828.9,356.0L828.6,355.9L828.3,355.8L828.0,355.7L827.7,355.6L827.4,355.5L827.1,355.4L826.9,355.3L826.6,355.2L826.3,355.1L826.0,355.0L825.7,354.9L825.4,354.7L825.1,354.6L824.8,354.5L824.5,354.4L824.2,354.3L823.9,354.2L823.6,354.1L823.3,354.0L823.0,353.9L822.7,353.8L822.4,353.7L822.1,353.6L821.8,353.5L821.4,353.4L821.1,353.3L820.8,353.2L820.5,353.1L820.2,353.0L819.9,352.9L819.5,352.8L819.2,352.7L818.9,352.6L818.6,352.5L818.2,352.4L817.9,352.2L817.5,352.1L817.2,352.0L816.9,351.9L816.5,351.7L816.2,351.6L815.8,351.5L815.5,351.4L815.1,351.3L814.8,351.2L814.4,351.1L814.0,351.0L813.7,350.9L813.3,350.8L812.9,350.7L812.6,350.7L812.2,350.6L811.8,350.5L811.5,350.5L811.1,350.4L810.7,350.4L810.3,350.3L810.0,350.3L809.6,350.2L809.2,350.2L808.8,350.1L808.4,350.1L808.0,350.1L807.6,350.0L807.3,350.0L806.9,350.0L806.5,350.0L806.1,350.0L805.7,349.9L805.3,349.9L804.9,349.9L804.5,349.9L804.1,349.9L803.7,349.9L803.2,349.9L802.8,349.9L802.4,349.9L802.0,349.9L801.6,349.9L801.1,349.9L800.7,349.9L800.3,349.9L799.8,349.9L799.4,349.9L799.0,349.9L798.5,350.0L798.1,350.0L797.6,350.0L797.2,350.0L796.8,350.1L796.3,350.1L795.9,350.2L795.4,350.2L795.0,350.3L794.5,350.4L794.1,350.5L793.7,350.6L793.2,350.7L792.8,350.8L792.4,350.9L791.9,351.0L791.5,351.2L791.1,351.3L790.7,351.5L790.3,351.6L789.9,351.8L789.5,352.0L789.1,352.2L788.7,352.4L788.4,352.6L788.0,352.8L787.6,353.1L787.3,353.3L786.9,353.6L786.5,353.8L786.2,354.1L785.8,354.3L785.5,354.6L785.1,354.8L784.8,355.1L784.4,355.4L784.1,355.6L783.7,355.9L783.4,356.2L783.1,356.5L782.7,356.8L782.4,357.1L782.1,357.4L781.8,357.7L781.4,358.0L781.1,358.3L780.8,358.6L780.5,358.9L780.2,359.2L779.9,359.6L779.6,359.9L779.3,360.2L779.1,360.6L778.8,360.9L778.5,361.3L778.2,361.6L778.0,362.0L777.7,362.3L777.5,362.7L777.2,363.1L777.0,363.4L776.7,363.8L776.5,364.2L776.3,364.6L776.1,365.0L775.9,365.4L775.7,365.8L775.5,366.2L775.3,366.6L775.2,367.0L775.0,367.4L774.9,367.8L774.8,368.3L774.6,368.7L774.5,369.1L774.5,369.6L774.4,370.0L774.3,370.5L774.3,370.9L774.2,371.4L774.2,371.8L774.1,372.3L774.1,372.7L774.1,373.2L774.1,373.6" fill="none" stroke="#000" stroke-width="0.95"/>
</g>
<path d="M615.9,389.6A204.6,204.6 0 0 1 1025.1,389.6" fill="none" stroke="#000" stroke-width="1.6"/>
<text transform="translate(810.6,208.2) rotate(15)" font-family="'Liberation Sans',sans-serif" font-size="23" text-anchor="middle" y="8.23">2.8</text>
<text transform="translate(923,227.2) rotate(50)" font-family="'Liberation Sans',sans-serif" font-size="23" text-anchor="middle" y="8.23">3.2</text>
<text transform="translate(853.9,277.2) rotate(28)" font-family="'Liberation Sans',sans-serif" font-size="23" text-anchor="middle" y="8.23">2.0</text>
<text transform="translate(679.3,338.1) rotate(-80)" font-family="'Liberation Sans',sans-serif" font-size="23" text-anchor="middle" y="8.23">2.4</text>
<text transform="translate(872.9,359.8) rotate(60)" font-family="'Liberation Sans',sans-serif" font-size="23" text-anchor="middle" y="8.23">1.2</text>
<text transform="translate(784.9,393.6) rotate(48)" font-family="'Liberation Sans',sans-serif" font-size="23" text-anchor="middle" y="8.23">0.8</text>
<g clip-path="url(#clipb)">
<line x1="820.5" y1="389.6" x2="850.65" y2="187.84" stroke="#0000ff" stroke-width="5" stroke-dasharray="19.1 8.3"/>
<line x1="845.92" y1="219.49" x2="850.65" y2="187.84" stroke="#0000ff" stroke-width="5" stroke-dasharray="none"/>
<line x1="820.5" y1="389.6" x2="995.36" y2="284.53" stroke="#ff0000" stroke-width="5" stroke-dasharray="19.1 8.3"/>
</g>
<defs><clipPath id="clipbase"><rect x="560" y="0" width="640" height="389.6"/></clipPath></defs>
<line x1="818.5" y1="391.84" x2="998.04" y2="190.66" stroke="#000" stroke-width="2.5" clip-path="url(#clipbase)"/>
<polygon fill="#000" points="1004.7,183.2 997.42,201.5 987.35,192.51"/>
<path d="M1043.8,389.6A223.3,223.3 0 0 0 978.4,231.7" fill="none" stroke="#000" stroke-width="2.5"/>
<polygon fill="#000" points="969.92,223.66 987.91,231.65 978.54,241.36"/>
<g transform="translate(820.8,179.8)" fill="#000"><text x="-17.27" y="0" font-family="'DejaVu Sans',sans-serif" font-size="24" font-style="italic">π</text><text x="-2.32" y="0" font-family="'Liberation Sans',sans-serif" font-size="23.5">/2</text></g>
<g transform="translate(596.8,395.4)" fill="#000"><text x="0" y="0" font-family="'DejaVu Sans',sans-serif" font-size="23.5" font-style="italic">π</text></g>
<g transform="translate(1048,396.3)" fill="#000"><text x="0" y="0" font-family="'Liberation Sans',sans-serif" font-size="23">0</text></g>
<g transform="translate(594,54.7)" fill="#000"><text x="0" y="0" font-family="'Liberation Serif',serif" font-size="52">(b)</text></g>
<g transform="translate(598.5,125.9)" fill="#000"><text x="0" y="0" font-family="'Liberation Serif',serif" font-size="44">log</text><text x="57.22" y="10.4" font-family="'Liberation Serif',serif" font-size="31">10</text><text x="96.22" y="0" font-family="'Liberation Serif',serif" font-size="44" font-style="italic">F</text><text x="125.1" y="-14.5" font-family="'Liberation Serif',serif" font-size="38">(</text><text x="137.26" y="-16.4" font-family="'Liberation Serif',serif" font-size="31" font-style="italic">θ</text><text x="152.98" y="-14.5" font-family="'Liberation Serif',serif" font-size="38">)</text><text transform="translate(168.14,0.7) scale(1,1.41)" font-family="'Liberation Serif',serif" font-size="35">(</text><text x="180.29" y="0" font-family="'Liberation Serif',serif" font-size="44" font-style="italic">s</text><text x="184.03" y="0" font-family="'Liberation Serif',serif" font-size="38">˜</text><text transform="translate(197.92,0.7) scale(1,1.41)" font-family="'Liberation Serif',serif" font-size="35">)</text></g>
<g transform="translate(968,168.1)" fill="#000"><text x="0" y="0" font-family="'Liberation Serif',serif" font-size="44">log</text><text x="57.22" y="10.4" font-family="'Liberation Serif',serif" font-size="31">10</text><text x="96.22" y="0" font-family="'Liberation Serif',serif" font-size="44" font-style="italic">s</text><text x="99.96" y="0" font-family="'Liberation Serif',serif" font-size="38">˜</text></g>
<g transform="translate(1035,304.3)" fill="#000"><text x="0" y="0" font-family="'Liberation Serif',serif" font-size="44" font-style="italic">θ</text></g>
<rect x="1079.5" y="366.98" width="37.2" height="23.72" fill="#4961d2"/>
<rect x="1079.5" y="343.66" width="37.2" height="23.72" fill="#6e90f2"/>
<rect x="1079.5" y="320.33" width="37.2" height="23.72" fill="#96b7ff"/>
<rect x="1079.5" y="297.01" width="37.2" height="23.72" fill="#bcd2f7"/>
<rect x="1079.5" y="273.69" width="37.2" height="23.72" fill="#dedcdb"/>
<rect x="1079.5" y="250.37" width="37.2" height="23.72" fill="#f4c6af"/>
<rect x="1079.5" y="227.04" width="37.2" height="23.72" fill="#f59f80"/>
<rect x="1079.5" y="203.72" width="37.2" height="23.72" fill="#e36b54"/>
<rect x="1079.5" y="180.4" width="37.2" height="23.72" fill="#c0282f"/>
<rect x="1079.5" y="180.6" width="37.2" height="209.9" fill="none" stroke="#000" stroke-width="1.1"/>
<line x1="1116.7" y1="390.5" x2="1125.2" y2="390.5" stroke="#000" stroke-width="1.2"/>
<line x1="1116.7" y1="367.18" x2="1125.2" y2="367.18" stroke="#000" stroke-width="1.2"/>
<line x1="1116.7" y1="343.86" x2="1125.2" y2="343.86" stroke="#000" stroke-width="1.2"/>
<line x1="1116.7" y1="320.53" x2="1125.2" y2="320.53" stroke="#000" stroke-width="1.2"/>
<line x1="1116.7" y1="297.21" x2="1125.2" y2="297.21" stroke="#000" stroke-width="1.2"/>
<line x1="1116.7" y1="273.89" x2="1125.2" y2="273.89" stroke="#000" stroke-width="1.2"/>
<line x1="1116.7" y1="250.57" x2="1125.2" y2="250.57" stroke="#000" stroke-width="1.2"/>
<line x1="1116.7" y1="227.24" x2="1125.2" y2="227.24" stroke="#000" stroke-width="1.2"/>
<line x1="1116.7" y1="203.92" x2="1125.2" y2="203.92" stroke="#000" stroke-width="1.2"/>
<line x1="1116.7" y1="180.6" x2="1125.2" y2="180.6" stroke="#000" stroke-width="1.2"/>
<text x="1136" y="397.55" font-family="'Liberation Sans',sans-serif" font-size="19.7">0.0</text>
<text x="1136" y="350.91" font-family="'Liberation Sans',sans-serif" font-size="19.7">0.8</text>
<text x="1136" y="304.26" font-family="'Liberation Sans',sans-serif" font-size="19.7">1.6</text>
<text x="1136" y="257.62" font-family="'Liberation Sans',sans-serif" font-size="19.7">2.4</text>
<text x="1136" y="210.97" font-family="'Liberation Sans',sans-serif" font-size="19.7">3.2</text>
<defs><clipPath id="clipc"><path fill-rule="evenodd" clip-rule="evenodd" d="M1252.6,389.6A187.2,187.2 0 0 1 1627,389.6L1470.3,389.6A30.5,30.5 0 0 0 1409.3,389.6Z"/></clipPath></defs>
<g clip-path="url(#clipc)">
<rect x="1249.8" y="199.6" width="380" height="191" fill="#485fd1"/>
<path fill-rule="evenodd" d="M1247.8,197.6L1631.8,197.6L1631.8,392.6L1247.8,392.6L1247.8,199.1ZM1340.8,221.3L1336.3,222.6L1331.8,224.7L1327.3,227.7L1322.4,232.1L1319.2,236.6L1318.1,239.6L1318.2,242.6L1319.1,244.1L1321.3,245.4L1324.3,246.0L1330.3,245.5L1337.7,242.6L1343.4,238.1L1347.8,232.1L1349.0,229.1L1349.5,226.1L1349.4,224.6L1348.3,222.6L1345.3,221.2L1342.3,221.1Z" fill="#6586ec"/>
<path fill-rule="evenodd" d="M1247.8,197.6L1631.8,197.6L1631.8,392.6L1247.8,392.6L1247.8,199.1ZM1342.3,218.2L1337.8,219.6L1331.8,222.4L1325.8,226.5L1321.2,230.6L1317.5,235.1L1315.8,238.1L1314.7,242.6L1315.4,245.6L1317.3,247.1L1319.8,247.8L1324.3,248.2L1328.8,247.7L1333.3,246.5L1337.8,244.5L1344.6,239.6L1348.5,235.1L1351.3,230.6L1353.2,226.1L1353.7,221.6L1353.2,220.1L1351.3,218.4L1348.3,217.7L1343.8,217.9Z" fill="#86a9fc"/>
<path fill-rule="evenodd" d="M1247.8,197.6L1631.8,197.6L1631.8,392.6L1247.8,392.6L1247.8,199.1ZM1346.8,213.9L1339.3,216.2L1333.3,219.0L1325.8,223.9L1319.8,229.1L1315.8,233.6L1312.4,239.6L1310.8,245.6L1311.3,248.6L1313.8,250.0L1316.8,250.4L1324.3,250.3L1330.3,249.4L1334.8,247.9L1339.3,245.8L1346.8,240.3L1351.4,235.1L1355.4,229.1L1359.6,221.6L1361.2,217.1L1361.1,215.6L1360.3,214.2L1358.8,213.4L1354.3,212.8L1348.3,213.6Z" fill="#a6c4fe"/>
<path fill-rule="evenodd" d="M1247.8,197.6L1631.8,197.6L1631.8,392.6L1247.8,392.6L1247.8,199.1ZM1357.3,206.5L1349.8,208.1L1340.8,211.8L1330.3,217.6L1321.3,224.3L1316.5,229.1L1312.8,233.6L1305.4,247.1L1297.3,256.9L1295.8,260.6L1295.9,262.1L1297.3,262.6L1298.8,262.2L1307.8,256.3L1312.3,254.4L1328.8,251.8L1334.8,250.2L1342.3,246.6L1348.3,242.4L1352.6,238.1L1366.5,221.6L1369.1,217.1L1369.5,212.6L1367.8,209.2L1364.8,207.2L1361.8,206.5L1358.8,206.4Z" fill="#c4d5f3"/>
<path fill-rule="evenodd" d="M1247.8,197.6L1344.5,197.6L1340.4,203.6L1337.8,206.6L1334.2,209.6L1324.3,216.4L1318.3,222.3L1310.8,231.4L1303.3,243.6L1293.0,254.6L1282.4,269.6L1279.7,274.1L1277.5,280.1L1274.7,290.6L1274.8,291.8L1275.1,290.6L1282.3,285.9L1286.8,282.3L1296.8,271.1L1309.3,260.1L1313.6,257.6L1316.8,256.4L1330.3,254.1L1336.3,252.4L1349.8,246.6L1353.4,244.1L1361.8,235.1L1369.3,229.0L1372.1,226.1L1374.4,221.6L1375.4,215.6L1374.8,209.6L1372.4,205.1L1369.3,202.4L1366.3,201.1L1356.5,199.1L1351.7,197.6L1631.8,197.6L1631.8,392.6L1247.8,392.6L1247.8,199.1ZM1273.3,292.5L1267.3,299.9L1262.8,308.0L1261.0,314.6L1261.3,319.4L1262.8,320.0L1264.3,319.3L1266.0,317.6L1267.9,314.6L1269.1,311.6L1273.9,293.6ZM1397.8,254.5L1393.3,255.6L1390.3,257.5L1388.9,259.1L1386.8,263.6L1386.9,265.1L1388.0,266.6L1393.3,269.9L1396.3,270.8L1399.3,270.3L1403.8,267.2L1408.5,262.1L1409.6,259.1L1409.1,257.6L1407.2,256.1L1403.8,255.0L1399.3,254.5ZM1441.3,251.5L1440.9,251.6L1440.4,253.1L1444.3,254.1L1448.8,254.2L1452.4,253.1L1451.6,251.6L1450.3,251.3L1447.3,250.8L1442.8,251.1Z" fill="#dfdbd9"/>
<path fill-rule="evenodd" d="M1247.8,197.6L1304.1,197.6L1309.7,211.1L1311.0,215.6L1311.4,218.6L1310.9,221.6L1309.7,224.6L1301.8,239.2L1299.1,242.6L1290.4,251.6L1277.2,268.1L1270.3,281.8L1259.3,301.1L1256.2,310.1L1251.2,332.6L1251.0,341.6L1252.3,346.4L1253.8,346.9L1256.8,344.2L1259.8,339.3L1264.6,329.6L1271.9,319.1L1273.9,314.6L1278.0,302.6L1282.3,294.3L1292.5,283.1L1299.7,274.1L1305.5,268.1L1312.3,262.3L1318.3,259.4L1343.8,255.3L1346.8,255.8L1349.8,257.3L1351.8,259.1L1353.4,262.1L1353.7,266.6L1352.0,277.1L1351.7,283.1L1352.3,287.6L1353.7,290.6L1357.3,293.9L1369.3,299.4L1372.3,301.8L1374.4,305.6L1378.3,323.6L1379.3,326.6L1381.1,329.6L1384.2,332.6L1392.4,338.6L1400.8,348.4L1403.8,350.0L1406.8,350.6L1409.8,350.3L1417.3,348.3L1427.8,348.5L1432.3,348.0L1436.8,345.8L1438.3,344.2L1439.4,341.6L1439.0,337.1L1438.1,334.1L1432.9,323.6L1431.3,319.1L1428.7,305.6L1427.0,302.6L1420.3,295.6L1417.6,292.1L1412.5,281.6L1411.7,278.6L1411.6,275.6L1412.3,272.6L1414.0,269.6L1420.3,263.5L1424.8,261.2L1430.8,260.8L1468.3,262.7L1472.8,261.7L1477.6,259.1L1479.0,257.6L1479.7,256.1L1479.7,254.6L1478.2,251.6L1476.8,250.1L1472.8,247.6L1466.8,245.9L1456.3,244.0L1448.8,243.6L1438.3,243.8L1432.3,244.8L1421.8,247.7L1417.3,248.1L1406.8,247.1L1401.0,245.6L1397.5,244.1L1393.3,241.0L1389.2,235.1L1383.2,221.6L1379.4,205.1L1376.8,200.6L1373.9,197.6L1631.8,197.6L1631.8,392.6L1247.8,392.6L1247.8,199.1Z" fill="#f2ccb8"/>
<path fill-rule="evenodd" d="M1247.8,197.6L1293.9,197.6L1299.8,209.6L1300.7,212.6L1301.2,217.1L1299.8,227.6L1298.6,232.1L1296.6,236.6L1294.3,239.8L1287.4,247.1L1270.7,266.6L1264.3,278.8L1254.8,295.1L1251.4,304.1L1249.5,317.6L1247.8,323.5L1247.8,199.1ZM1383.9,197.6L1514.6,197.6L1513.3,200.5L1511.8,202.1L1503.1,208.1L1500.5,211.1L1499.8,212.6L1499.6,215.6L1501.8,220.1L1505.3,223.1L1507.9,224.6L1522.3,229.5L1528.3,232.7L1540.3,242.6L1550.8,250.3L1574.7,272.6L1578.3,277.1L1588.3,292.4L1597.9,302.6L1601.8,317.3L1611.5,341.6L1616.1,359.6L1617.4,371.6L1616.9,392.6L1254.2,392.6L1254.7,386.6L1257.6,376.1L1258.6,362.6L1260.3,355.1L1268.8,333.8L1270.3,331.1L1275.9,323.6L1278.3,319.1L1282.2,305.6L1284.8,299.6L1287.8,295.1L1296.8,286.1L1310.3,269.6L1315.3,265.5L1318.3,264.1L1321.3,263.4L1325.8,263.2L1333.3,263.8L1340.8,263.6L1343.8,264.0L1345.5,265.1L1346.4,266.6L1346.6,268.1L1346.2,271.1L1340.7,287.6L1340.7,292.1L1341.9,295.1L1345.3,298.6L1354.3,302.9L1357.9,305.6L1360.1,308.6L1363.3,315.9L1367.9,323.6L1372.1,332.6L1375.3,337.1L1384.3,347.6L1400.9,364.1L1406.8,369.1L1412.8,372.4L1417.3,373.6L1421.8,373.9L1426.3,373.0L1429.6,371.6L1435.4,367.1L1445.8,356.0L1456.1,349.1L1457.6,346.1L1458.7,337.1L1460.2,332.6L1462.3,329.8L1468.7,323.6L1470.0,320.6L1471.7,313.1L1479.1,304.1L1481.0,299.6L1481.3,296.6L1480.6,293.6L1477.7,289.1L1474.3,286.6L1458.4,278.6L1453.3,277.3L1448.8,276.9L1435.3,278.5L1432.3,278.4L1429.3,277.5L1427.1,275.6L1426.3,274.1L1426.1,272.6L1426.6,271.1L1427.9,269.6L1430.8,268.1L1438.3,266.6L1451.8,266.7L1465.3,269.2L1477.3,270.3L1480.3,271.2L1484.0,274.1L1487.2,278.6L1488.5,281.6L1490.2,292.1L1492.0,295.1L1494.3,296.6L1496.8,296.8L1498.3,296.4L1501.3,294.3L1502.0,292.1L1500.3,286.1L1500.5,284.6L1502.8,283.6L1505.8,283.8L1510.3,285.0L1520.8,288.5L1525.4,290.6L1529.3,293.6L1532.1,296.6L1538.8,306.4L1546.8,316.1L1552.3,324.3L1559.8,331.1L1563.6,335.6L1569.1,346.1L1574.4,359.6L1576.3,361.2L1577.8,361.2L1579.3,359.6L1579.6,356.6L1577.8,351.0L1569.8,334.1L1564.3,319.7L1555.3,300.3L1552.3,295.0L1549.3,291.0L1544.8,285.8L1540.3,281.6L1525.3,270.6L1513.3,264.2L1502.8,255.8L1490.8,250.1L1481.8,245.0L1476.4,242.6L1468.3,240.8L1453.3,239.0L1435.3,238.6L1421.8,240.5L1417.3,240.6L1411.2,239.6L1405.3,237.5L1400.8,234.1L1397.8,229.6L1391.1,215.6L1387.0,203.6L1384.3,198.3ZM1474.3,362.9L1472.8,364.2L1472.4,367.1L1473.1,368.6L1474.3,369.6L1475.8,369.8L1477.3,368.8L1477.8,367.1L1477.3,364.1L1475.8,362.9ZM1618.2,197.6L1631.8,197.6L1631.8,203.8L1628.8,203.5L1623.6,202.1L1620.6,200.6L1619.0,199.1L1618.3,197.7Z" fill="#f7b194"/>
<path fill-rule="evenodd" d="M1450.2,214.1L1456.3,213.3L1462.3,213.3L1469.8,214.4L1477.3,216.4L1492.3,221.5L1498.4,224.6L1507.3,230.1L1517.8,232.9L1525.3,236.1L1531.0,239.6L1549.0,253.1L1571.8,275.5L1576.3,281.6L1583.8,294.8L1592.8,306.4L1594.5,310.1L1597.8,322.1L1604.7,338.6L1609.3,354.5L1612.3,371.0L1612.3,379.4L1609.9,392.6L1582.4,392.6L1584.2,379.1L1585.0,362.6L1584.7,358.1L1583.2,352.1L1571.1,320.6L1560.0,296.6L1553.8,287.0L1549.3,281.9L1544.8,277.7L1529.8,265.3L1517.8,258.4L1507.3,249.1L1502.8,246.3L1477.3,237.4L1460.8,234.5L1447.3,233.6L1441.3,232.6L1425.6,229.1L1422.6,227.6L1421.5,226.1L1421.4,224.6L1422.3,223.1L1424.7,221.6L1438.3,216.7L1448.8,214.3ZM1332.9,269.6L1337.8,268.8L1340.8,269.6L1341.6,271.1L1341.7,272.6L1341.0,275.6L1330.1,299.6L1323.0,311.6L1320.5,322.1L1313.8,328.7L1310.8,332.7L1305.9,344.6L1298.8,359.6L1297.3,364.1L1296.2,370.1L1293.7,392.6L1272.4,392.6L1271.1,376.1L1273.0,359.6L1274.3,355.1L1277.8,347.7L1283.0,332.6L1287.3,322.1L1296.3,304.1L1306.3,293.2L1318.6,275.6L1320.1,274.1L1322.8,272.5L1331.8,269.9ZM1514.5,293.6L1516.3,293.8L1520.8,295.9L1523.8,298.1L1526.8,301.2L1541.8,321.0L1557.9,344.6L1560.7,352.1L1563.8,374.6L1568.1,388.1L1568.6,392.6L1547.4,392.6L1547.7,382.1L1546.9,373.1L1547.0,362.6L1541.8,344.1L1538.1,335.6L1534.6,323.6L1532.8,319.6L1529.8,315.5L1519.3,304.3L1515.0,298.1L1513.7,295.1ZM1332.5,320.6L1336.3,320.1L1339.3,321.2L1341.4,323.6L1342.9,328.1L1343.1,332.6L1342.0,346.1L1342.5,349.1L1345.5,356.6L1346.2,359.6L1345.3,364.1L1340.9,373.1L1339.7,377.6L1339.7,380.6L1341.5,389.6L1341.6,392.6L1304.0,392.6L1304.9,389.6L1309.6,385.1L1311.5,382.1L1312.1,379.1L1312.8,367.1L1313.8,361.1L1317.9,343.1L1323.5,328.1L1325.0,325.1L1326.6,323.6L1331.8,320.8ZM1501.2,356.6L1502.8,356.0L1504.1,356.6L1502.8,358.2L1501.3,357.0ZM1373.7,370.1L1378.8,370.1L1396.3,373.9L1402.3,376.2L1410.9,380.6L1415.8,383.6L1417.0,385.1L1417.2,386.6L1416.0,392.6L1364.1,392.6L1364.8,387.1L1367.6,380.6L1369.1,374.6L1370.8,371.6L1372.3,370.6ZM1494.6,385.1L1499.8,384.2L1505.8,385.3L1508.3,386.6L1509.8,388.1L1510.6,389.6L1511.3,392.6L1486.0,392.6L1487.3,389.6L1488.6,388.1L1493.8,385.3Z" fill="#f18d6f"/>
<path fill-rule="evenodd" d="M1514.8,239.6L1517.8,239.2L1520.8,239.4L1526.8,241.4L1543.3,253.2L1549.3,258.1L1560.3,269.6L1569.5,280.1L1586.3,307.1L1589.3,313.1L1597.6,334.1L1601.1,346.1L1604.9,373.1L1605.1,380.6L1604.6,392.6L1589.5,392.6L1589.8,379.1L1589.6,368.6L1589.1,361.1L1588.0,355.1L1576.3,321.2L1567.4,302.6L1563.3,295.1L1556.8,285.2L1549.5,277.1L1532.8,262.0L1522.1,254.6L1515.4,248.6L1513.0,245.6L1511.9,242.6L1512.4,241.1L1514.8,239.6ZM1330.9,274.1L1333.3,273.3L1336.3,273.3L1337.2,274.1L1337.6,275.6L1336.8,278.6L1327.8,295.1L1318.9,308.6L1314.7,317.6L1307.8,328.3L1304.8,334.5L1297.0,353.6L1294.0,362.6L1291.3,377.1L1289.8,388.1L1289.7,392.6L1276.9,392.6L1277.0,379.1L1278.7,367.1L1281.5,355.1L1284.9,343.1L1290.4,328.1L1293.5,322.1L1305.7,302.6L1316.1,287.6L1323.8,278.6L1327.3,275.9L1330.3,274.3Z" fill="#de614d"/>
<path d="M1340.8,221.3L1336.3,222.6L1331.8,224.7L1327.3,227.7L1322.4,232.1L1319.2,236.6L1318.1,239.6L1318.2,242.6L1319.1,244.1L1321.3,245.4L1324.3,246.0L1330.3,245.5L1337.7,242.6L1343.4,238.1L1345.9,235.1L1348.5,230.6L1349.4,227.6L1349.4,224.6L1348.7,223.1L1346.8,221.6L1343.8,221.0L1340.8,221.3" fill="none" stroke="#000" stroke-width="0.95"/>
<path d="M1342.3,218.2L1337.8,219.6L1331.8,222.4L1325.8,226.5L1321.2,230.6L1317.5,235.1L1315.8,238.1L1314.7,242.6L1315.4,245.6L1317.3,247.1L1321.3,248.1L1325.8,248.1L1330.3,247.4L1337.8,244.5L1342.3,241.5L1345.3,238.9L1349.5,233.6L1352.0,229.1L1353.5,224.6L1353.7,221.6L1352.8,219.5L1349.8,217.9L1346.8,217.7L1342.3,218.2" fill="none" stroke="#000" stroke-width="0.95"/>
<path d="M1346.8,213.9L1339.3,216.2L1333.3,219.0L1325.8,223.9L1319.8,229.1L1315.8,233.6L1312.4,239.6L1310.8,245.6L1311.3,248.6L1313.8,250.0L1316.8,250.4L1324.3,250.3L1330.3,249.4L1334.8,247.9L1339.3,245.8L1343.8,242.9L1347.5,239.6L1351.4,235.1L1355.4,229.1L1359.6,221.6L1361.2,217.1L1361.1,215.6L1360.2,214.1L1357.3,213.0L1352.8,212.9L1346.8,213.9" fill="none" stroke="#000" stroke-width="0.95"/>
<path d="M1357.3,206.5L1349.8,208.1L1340.8,211.8L1330.3,217.6L1321.3,224.3L1316.5,229.1L1312.8,233.6L1305.4,247.1L1297.3,256.9L1295.8,260.6L1295.9,262.1L1297.3,262.6L1298.8,262.2L1307.8,256.3L1312.3,254.4L1328.8,251.8L1334.8,250.2L1342.3,246.6L1348.3,242.4L1352.6,238.1L1366.5,221.6L1368.5,218.6L1369.3,216.3L1369.6,214.1L1369.0,211.1L1366.6,208.1L1363.3,206.7L1357.3,206.5" fill="none" stroke="#000" stroke-width="0.95"/>
<path d="M1344.5,197.6L1340.4,203.6L1337.8,206.6L1334.2,209.6L1324.3,216.4L1318.3,222.3L1310.8,231.4L1303.3,243.6L1293.0,254.6L1282.4,269.6L1279.7,274.1L1277.5,280.1L1274.7,290.6L1274.8,291.8L1275.1,290.6L1282.3,285.9L1286.8,282.3L1296.8,271.1L1306.8,262.1L1312.3,258.2L1318.3,256.1M1358.8,238.1L1363.3,233.7L1370.8,227.7L1373.1,224.6L1375.1,218.6L1375.5,214.1L1375.1,211.1L1373.5,206.6L1372.3,204.9L1369.3,202.4L1364.8,200.6L1356.5,199.1L1351.7,197.6M1441.3,251.5L1440.9,251.6L1440.4,253.1L1444.3,254.1L1448.8,254.2L1452.4,253.1L1451.6,251.6L1448.8,251.0L1445.8,250.8L1441.3,251.5M1397.8,254.5L1393.3,255.6L1390.3,257.5L1388.9,259.1L1386.8,263.6L1386.9,265.1L1388.0,266.6L1393.3,269.9L1396.3,270.8L1399.3,270.3L1403.8,267.2L1408.5,262.1L1409.6,259.1L1409.1,257.6L1406.8,255.9L1402.3,254.7L1397.8,254.5M1273.3,292.5L1267.3,299.9L1262.8,308.0L1261.3,312.6L1260.9,316.1L1261.3,319.4L1262.8,320.0L1265.8,317.9L1268.8,312.5L1273.3,296.6L1273.9,293.6L1273.3,292.5" fill="none" stroke="#000" stroke-width="0.95"/>
<path d="M1304.1,197.6L1310.6,214.1L1311.4,218.6L1310.9,221.6L1308.9,226.1L1301.5,239.6L1290.4,251.6L1277.2,268.1L1270.3,281.8L1259.3,301.1L1256.6,308.6L1251.5,331.1L1250.9,340.1L1251.2,343.1L1252.1,346.1L1253.8,346.9L1256.8,344.2L1259.8,339.3L1264.6,329.6L1271.9,319.1L1273.9,314.6L1278.0,302.6L1282.8,293.6L1291.3,284.5L1302.5,271.1L1308.7,265.1L1313.8,261.4L1319.8,259.0L1331.8,257.4L1342.3,255.4L1346.8,255.8L1349.8,257.3L1352.8,260.6L1353.7,263.6L1353.7,266.6L1352.0,277.1L1351.7,283.1L1352.3,287.6L1353.7,290.6M1378.7,325.1L1380.1,328.1L1382.4,331.1L1391.8,338.0L1399.3,347.0L1401.8,349.1L1403.8,350.0L1408.3,350.5L1418.8,348.2L1430.8,348.3L1433.8,347.5L1436.4,346.1L1438.3,344.2L1439.4,341.6L1438.6,335.6L1431.7,320.6L1429.3,307.6L1428.0,304.1L1425.8,301.1L1418.6,293.6L1415.9,289.1L1413.1,283.1L1411.5,277.1L1412.3,272.6L1414.0,269.6L1416.7,266.6L1421.8,262.5L1424.8,261.2L1430.8,260.8L1468.3,262.7L1472.8,261.7L1477.6,259.1L1479.0,257.6L1479.7,256.1L1479.7,254.6L1478.2,251.6L1476.8,250.1L1472.8,247.6L1466.8,245.9L1456.3,244.0L1448.8,243.6L1438.3,243.8L1432.3,244.8L1421.8,247.7L1417.3,248.1L1406.8,247.1L1401.0,245.6L1397.5,244.1L1393.3,241.0L1389.2,235.1L1383.2,221.6L1379.4,205.1L1376.8,200.6L1373.9,197.6" fill="none" stroke="#000" stroke-width="0.95"/>
<path d="M1293.9,197.6L1299.2,208.1L1301.0,214.1L1300.9,221.6L1298.6,232.1L1297.3,235.3L1294.5,239.6L1273.0,263.6L1269.8,268.1L1264.3,278.8L1254.8,295.1L1252.8,299.6L1251.0,305.6L1249.5,317.6L1247.8,323.5M1514.6,197.6L1513.3,200.5L1511.8,202.1L1503.1,208.1L1500.5,211.1L1499.8,212.6L1499.6,215.6L1501.8,220.1L1505.3,223.1L1507.9,224.6L1522.3,229.5L1528.3,232.7L1540.3,242.6L1549.3,249.1L1553.9,253.1M1580.3,280.1L1588.3,292.4L1597.9,302.6L1601.8,317.3L1611.5,341.6L1614.8,353.6L1617.1,367.1L1617.4,377.6L1616.9,392.6M1631.8,203.8L1627.3,203.2L1622.8,201.7L1619.8,199.9L1618.2,197.6M1474.3,362.9L1472.8,364.2L1472.4,367.1L1473.1,368.6L1474.3,369.6L1475.8,369.8L1477.4,368.6L1477.8,365.6L1477.3,364.0L1475.8,362.9L1474.3,362.9M1254.2,392.6L1254.7,386.6L1257.6,376.1L1258.6,362.6L1260.3,355.1L1268.8,333.8L1270.3,331.1L1275.9,323.6L1278.3,319.1L1281.7,307.1L1284.1,301.1L1287.8,295.1L1296.8,286.1L1308.8,271.1L1313.6,266.6L1316.8,264.7L1319.8,263.7L1324.3,263.2L1333.3,263.8L1342.3,263.7L1345.5,265.1L1346.4,266.6L1346.6,268.1L1346.2,271.1L1340.7,287.6L1340.7,292.1L1341.9,295.1L1345.3,298.6L1354.3,302.9L1358.8,306.7L1373.0,334.1L1384.3,347.6L1404.3,367.1L1409.8,371.0L1415.8,373.3L1420.3,373.9L1423.3,373.7L1427.8,372.5L1430.8,370.9L1435.4,367.1L1445.8,356.0L1456.1,349.1L1457.6,346.1L1458.7,337.1L1460.2,332.6L1462.3,329.8L1468.7,323.6L1470.0,320.6L1471.7,313.1L1473.8,310.1L1478.0,305.6L1480.3,301.8M1445.8,277.0L1435.3,278.5L1430.8,278.1L1429.3,277.5L1427.1,275.6L1426.3,274.1L1426.1,272.6L1426.6,271.1L1427.9,269.6L1430.7,268.1L1433.8,267.3L1442.8,266.4L1453.3,266.9M1489.0,284.6L1489.8,290.6L1490.9,293.6L1492.3,295.4L1495.3,296.9L1498.3,296.4L1500.5,295.1L1501.7,293.6L1501.7,290.6L1500.3,286.1L1500.5,284.6L1502.8,283.6L1507.3,284.1L1520.8,288.5L1523.8,289.7L1528.3,292.7L1533.3,298.1L1538.8,306.4L1546.8,316.1L1552.3,324.3L1559.8,331.1L1563.6,335.6L1569.1,346.1L1574.4,359.6L1576.3,361.2L1577.8,361.2L1579.3,359.6L1579.6,356.6L1577.8,351.0L1569.8,334.1L1564.3,319.7L1555.3,300.3L1552.3,295.0L1549.3,291.0L1544.8,285.8L1540.3,281.6L1525.3,270.6L1513.3,264.2L1502.8,255.8L1490.8,250.1L1481.8,245.0L1476.4,242.6L1468.3,240.8L1453.3,239.0L1435.3,238.6L1421.8,240.5L1417.3,240.6L1411.2,239.6L1405.3,237.5L1400.8,234.1L1397.8,229.6L1391.1,215.6L1386.4,202.1L1383.9,197.6" fill="none" stroke="#000" stroke-width="0.95"/>
<path d="M1501.2,356.6L1502.8,356.0L1504.1,356.6L1502.8,358.2L1501.2,356.6M1272.4,392.6L1271.1,377.6M1282.3,334.6L1287.3,322.1L1296.3,304.1L1306.3,293.2L1318.6,275.6L1322.6,272.6L1330.3,270.3L1337.8,268.8L1340.8,269.6L1341.6,271.1L1341.7,272.6L1340.5,277.1L1330.1,299.6L1323.0,311.6L1320.5,322.1L1313.8,328.7L1310.8,332.7L1305.9,344.6L1298.8,359.6L1297.3,364.1L1296.2,370.1L1293.7,392.6M1304.0,392.6L1304.9,389.6L1309.6,385.1L1311.5,382.1L1312.1,379.1L1312.8,367.1L1314.1,359.6L1317.9,343.1L1324.1,326.6L1325.0,325.1L1327.3,323.1L1331.8,320.8L1334.8,320.1L1337.8,320.4L1340.8,322.7L1342.3,325.7L1343.1,329.6L1342.0,346.1L1342.9,350.6L1345.9,358.1L1346.1,361.1L1345.3,364.1L1340.8,373.5M1364.1,392.6L1364.8,387.1L1367.6,380.6L1369.7,373.1L1370.8,371.6L1372.3,370.6L1376.8,369.9L1391.8,372.8L1397.8,374.4L1403.8,376.9L1413.6,382.1L1415.8,383.6L1417.0,385.1L1417.2,386.6L1416.0,392.6M1486.0,392.6L1487.3,389.6L1490.9,386.6L1495.3,384.8L1499.8,384.2L1504.3,384.8L1508.3,386.6L1510.6,389.6L1511.3,392.6M1547.4,392.6L1547.7,382.1L1546.9,373.1L1547.1,365.6L1546.8,361.1L1542.0,344.6L1537.6,334.1L1534.6,323.6L1531.3,317.4M1537.3,315.3L1541.8,321.0L1556.1,341.6L1559.3,347.6L1560.9,353.6L1564.1,376.1L1568.1,388.1L1568.6,392.6M1582.4,392.6L1584.4,376.1L1585.0,362.6L1584.5,356.6L1582.2,349.1L1576.0,334.1L1571.7,322.1L1561.3,299.2L1555.3,289.0L1547.5,280.1L1529.8,265.3L1518.8,259.1L1513.3,254.6M1468.3,235.7L1457.8,234.2L1444.3,233.2L1426.3,229.3L1422.6,227.6L1421.5,226.1L1421.4,224.6L1422.3,223.1L1424.7,221.6L1438.3,216.7L1445.8,214.9L1453.3,213.6L1459.3,213.2L1465.3,213.6L1471.3,214.7M1526.2,236.6L1531.0,239.6L1549.0,253.1L1570.3,273.9L1576.3,281.6L1583.8,294.8L1592.8,306.4L1594.5,310.1L1597.8,322.1L1604.7,338.6L1609.1,353.6L1610.8,361.6L1612.3,371.0L1612.5,376.1L1612.1,380.6L1609.9,392.6" fill="none" stroke="#000" stroke-width="0.95"/>
<path d="M1276.9,392.6L1277.1,377.6L1280.1,361.1L1286.3,338.6L1291.8,325.1L1306.7,301.1L1315.0,289.1L1320.9,281.6L1324.3,278.2L1328.8,275.1L1333.3,273.3L1336.3,273.3L1337.2,274.1L1337.6,275.6L1336.8,278.6L1335.5,281.6L1327.8,295.1L1319.8,307.2L1314.7,317.6L1307.8,328.3L1304.8,334.5L1297.3,352.9L1294.4,361.1L1292.8,367.6L1290.0,386.6L1289.7,392.6M1589.5,392.6L1589.8,379.1L1589.6,368.6L1589.1,361.1L1588.0,355.1L1577.3,323.6L1567.3,302.3M1543.3,271.4L1532.8,262.0L1522.1,254.6L1516.9,250.1L1514.1,247.1L1512.2,244.1L1511.9,242.6L1512.4,241.1L1514.8,239.6L1517.8,239.2L1520.8,239.4L1525.3,240.7L1529.8,243.4L1544.8,254.3L1552.3,261.1M1579.3,296.2L1586.3,307.1L1588.6,311.6L1597.6,334.1L1600.0,341.6L1602.2,352.1L1604.8,371.6L1605.2,379.1L1604.6,392.6" fill="none" stroke="#000" stroke-width="0.95"/>
</g>
<path d="M1235.2,389.6A204.6,204.6 0 0 1 1644.4,389.6" fill="none" stroke="#000" stroke-width="1.6"/>
<text transform="translate(1341.35,253.92) rotate(-33)" font-family="'Liberation Sans',sans-serif" font-size="23" text-anchor="middle" y="8.23">0.56</text>
<text transform="translate(1372.15,303.19) rotate(58)" font-family="'Liberation Sans',sans-serif" font-size="23" text-anchor="middle" y="8.23">0.64</text>
<text transform="translate(1273.12,354.84) rotate(-80)" font-family="'Liberation Sans',sans-serif" font-size="23" text-anchor="middle" y="8.23">0.80</text>
<text transform="translate(1334.6,391) rotate(-90)" font-family="'Liberation Sans',sans-serif" font-size="23" text-anchor="middle" y="8.23">0.8</text>
<text transform="translate(1497.71,229.28) rotate(22)" font-family="'Liberation Sans',sans-serif" font-size="23" text-anchor="middle" y="8.23">0.800</text>
<text transform="translate(1576.36,257) rotate(52)" font-family="'Liberation Sans',sans-serif" font-size="23" text-anchor="middle" y="8.23">0.72</text>
<text transform="translate(1564.52,279.5) rotate(55)" font-family="'Liberation Sans',sans-serif" font-size="23" text-anchor="middle" y="8.23">0.88</text>
<text transform="translate(1466.91,284.24) rotate(52)" font-family="'Liberation Sans',sans-serif" font-size="23" text-anchor="middle" y="8.23">0.72</text>
<text transform="translate(1525.66,296.09) rotate(45)" font-family="'Liberation Sans',sans-serif" font-size="23" text-anchor="middle" y="8.23">0.80</text>
<defs><clipPath id="clipbase2"><rect x="1200" y="0" width="500" height="389.6"/></clipPath></defs>
<g clip-path="url(#clipbase2)">
<line x1="1441.17" y1="380.2" x2="1468.02" y2="196.15" stroke="#0000ff" stroke-width="5" stroke-dasharray="19.1 8.3"/>
<line x1="1448.14" y1="384.65" x2="1609.19" y2="289.02" stroke="#ff0000" stroke-width="5" stroke-dasharray="19.1 8.3"/>
</g>
<g transform="translate(1439.8,179.8)" fill="#000"><text x="-17.27" y="0" font-family="'DejaVu Sans',sans-serif" font-size="24" font-style="italic">π</text><text x="-2.32" y="0" font-family="'Liberation Sans',sans-serif" font-size="23.5">/2</text></g>
<g transform="translate(1215.8,395.4)" fill="#000"><text x="0" y="0" font-family="'DejaVu Sans',sans-serif" font-size="23.5" font-style="italic">π</text></g>
<g transform="translate(1649,396.3)" fill="#000"><text x="0" y="0" font-family="'Liberation Sans',sans-serif" font-size="23">0</text></g>
<g transform="translate(1214.5,54.7)" fill="#000"><text x="0" y="0" font-family="'Liberation Serif',serif" font-size="52">(c)</text></g>
<g transform="translate(1220.3,126.5)" fill="#000"><text x="0" y="0" font-family="'Liberation Serif',serif" font-size="41">local slope</text></g>
<rect x="1676.5" y="365.2" width="36.9" height="21.4" fill="#485fd1"/>
<rect x="1676.5" y="344.2" width="36.9" height="21.4" fill="#6586ec"/>
<rect x="1676.5" y="323.2" width="36.9" height="21.4" fill="#86a9fc"/>
<rect x="1676.5" y="302.2" width="36.9" height="21.4" fill="#a6c4fe"/>
<rect x="1676.5" y="281.2" width="36.9" height="21.4" fill="#c4d5f3"/>
<rect x="1676.5" y="260.2" width="36.9" height="21.4" fill="#dfdbd9"/>
<rect x="1676.5" y="239.2" width="36.9" height="21.4" fill="#f2ccb8"/>
<rect x="1676.5" y="218.2" width="36.9" height="21.4" fill="#f7b194"/>
<rect x="1676.5" y="197.2" width="36.9" height="21.4" fill="#f18d6f"/>
<rect x="1676.5" y="176.2" width="36.9" height="21.4" fill="#de614d"/>
<rect x="1676.5" y="176.4" width="36.9" height="210" fill="none" stroke="#000" stroke-width="1.1"/>
<line x1="1713.4" y1="386.4" x2="1721.9" y2="386.4" stroke="#000" stroke-width="1.2"/>
<line x1="1713.4" y1="344.4" x2="1721.9" y2="344.4" stroke="#000" stroke-width="1.2"/>
<line x1="1713.4" y1="302.4" x2="1721.9" y2="302.4" stroke="#000" stroke-width="1.2"/>
<line x1="1713.4" y1="260.4" x2="1721.9" y2="260.4" stroke="#000" stroke-width="1.2"/>
<line x1="1713.4" y1="218.4" x2="1721.9" y2="218.4" stroke="#000" stroke-width="1.2"/>
<line x1="1713.4" y1="176.4" x2="1721.9" y2="176.4" stroke="#000" stroke-width="1.2"/>
<text x="1729.8" y="393.45" font-family="'Liberation Sans',sans-serif" font-size="19.7">0.16</text>
<text x="1729.8" y="351.45" font-family="'Liberation Sans',sans-serif" font-size="19.7">0.32</text>
<text x="1729.8" y="309.45" font-family="'Liberation Sans',sans-serif" font-size="19.7">0.48</text>
<text x="1729.8" y="267.45" font-family="'Liberation Sans',sans-serif" font-size="19.7">0.64</text>
<text x="1729.8" y="225.45" font-family="'Liberation Sans',sans-serif" font-size="19.7">0.80</text>
<text x="1729.8" y="183.45" font-family="'Liberation Sans',sans-serif" font-size="19.7">0.96</text>
<line x1="399.5" y1="571.3" x2="399.5" y2="978.2" stroke="#3a3a3a" stroke-width="2.3" stroke-dasharray="8.4 3.6"/>
<line x1="517.6" y1="571.3" x2="517.6" y2="978.2" stroke="#000" stroke-width="2.9" stroke-dasharray="10.2 4.5"/>
<polyline fill="none" stroke="#1f77b4" stroke-width="3.2" stroke-linejoin="round" points="117.4,622.3 120.4,623.5 123.4,624.7 126.4,625.9 129.3,627.1 132.3,628.4 135.3,629.6 138.3,630.9 141.3,632.2 144.3,633.5 147.2,634.9 150.2,636.2 153.2,637.6 156.2,638.9 159.2,640.3 162.2,641.7 165.1,643.1 168.1,644.5 171.1,645.9 174.1,647.4 177.1,648.8 180.1,650.3 183.0,651.7 186.0,653.2 189.0,654.6 192.0,656.1 195.0,657.6 198.0,659.0 200.9,660.5 203.9,662.0 206.9,663.5 209.9,664.9 212.9,666.4 215.9,667.9 218.8,669.4 221.8,670.9 224.8,672.4 227.8,673.9 230.8,675.4 233.8,676.9 236.7,678.4 239.7,680.0 242.7,681.6 245.7,683.1 248.7,684.8 251.7,686.4 254.6,688.0 257.6,689.7 260.6,691.4 263.6,693.1 266.6,694.8 269.6,696.6 272.5,698.4 275.5,700.2 278.5,702.0 281.5,703.9 284.5,705.8 287.5,707.7 290.4,709.6 293.4,711.6 296.4,713.6 299.4,715.6 302.4,717.7 305.4,719.7 308.3,721.9 311.3,724.0 314.3,726.2 317.3,728.4 320.3,730.7 323.3,733.0 326.2,735.3 329.2,737.8 332.2,740.2 335.2,742.8 338.2,745.4 341.2,748.1 344.1,750.8 347.1,753.6 350.1,756.5 353.1,759.5 356.1,762.5 359.1,765.6 362.0,768.8 365.0,771.9 368.0,775.1 371.0,778.3 374.0,781.4 377.0,784.5 379.9,787.5 382.9,790.4 385.9,793.2 388.9,796.0 391.9,798.6 394.9,800.8 397.8,802.3 400.8,802.9 403.8,802.2 406.8,800.5 409.8,797.7 412.8,793.9 415.7,789.1 418.7,783.5 421.7,777.2 424.7,770.5 427.7,763.2 430.7,755.4 433.6,747.1 436.6,738.1 439.6,728.7 442.6,719.1 445.6,709.5 448.6,700.1 451.5,691.3 454.5,683.1 457.5,675.4 460.5,668.3 463.5,661.5 466.5,655.3 469.4,649.6 472.4,644.5 475.4,640.1 478.4,636.3 481.4,633.1 484.4,630.4 487.3,628.0 490.3,625.9 493.3,624.1 496.3,622.6 499.3,621.4 502.3,620.4 505.2,619.7 508.2,619.2 511.2,618.8 514.2,618.5 517.2,618.4 520.2,618.4 523.1,618.7 526.1,619.1 529.1,619.8 532.1,620.7"/>
<circle cx="399.5" cy="803.4" r="5.2" fill="#3a3a3a"/>
<circle cx="517.6" cy="618.6" r="5.2" fill="#111"/>
<line x1="517.6" y1="818.1" x2="309.7" y2="818.1" stroke="#0000ff" stroke-width="2.2" stroke-dasharray="8.2 3.5"/>
<line x1="309.7" y1="817" x2="309.7" y2="897" stroke="#0000ff" stroke-width="2.2" stroke-dasharray="8.2 3.5"/>
<polygon fill="#0000ff" points="462.8,818.1 481.8,811.1 481.8,825.1"/>
<polygon fill="#0000ff" points="309.7,914.4 302.45,896.4 316.95,896.4"/>
<line x1="399.5" y1="844.5" x2="191.2" y2="844.5" stroke="#ff0000" stroke-width="2.2" stroke-dasharray="8.2 3.5"/>
<line x1="191.2" y1="843.4" x2="191.2" y2="897" stroke="#ff0000" stroke-width="2.2" stroke-dasharray="8.2 3.5"/>
<polygon fill="#ff0000" points="235.9,844.5 254.9,837.5 254.9,851.5"/>
<polygon fill="#ff0000" points="191.2,914.4 183.95,896.4 198.45,896.4"/>
<rect x="117.4" y="571.3" width="414.7" height="406.9" fill="none" stroke="#111" stroke-width="1.25"/>
<line x1="117.4" y1="978.2" x2="117.4" y2="987.2" stroke="#111" stroke-width="1.25"/>
<g transform="translate(117.4,1014)" fill="#000"><text x="-8.53" y="0" font-family="'DejaVu Sans',sans-serif" font-size="26.8">0</text></g>
<line x1="221.08" y1="978.2" x2="221.08" y2="987.2" stroke="#111" stroke-width="1.25"/>
<g transform="translate(221.08,1014)" fill="#000"><text x="-21.11" y="0" font-family="'DejaVu Sans',sans-serif" font-size="26.8" font-style="italic">π</text><text x="-4.97" y="0" font-family="'DejaVu Sans',sans-serif" font-size="26.8">/4</text></g>
<line x1="324.75" y1="978.2" x2="324.75" y2="987.2" stroke="#111" stroke-width="1.25"/>
<g transform="translate(324.75,1014)" fill="#000"><text x="-21.11" y="0" font-family="'DejaVu Sans',sans-serif" font-size="26.8" font-style="italic">π</text><text x="-4.97" y="0" font-family="'DejaVu Sans',sans-serif" font-size="26.8">/2</text></g>
<line x1="428.43" y1="978.2" x2="428.43" y2="987.2" stroke="#111" stroke-width="1.25"/>
<g transform="translate(428.43,1014)" fill="#000"><text x="-29.63" y="0" font-family="'DejaVu Sans',sans-serif" font-size="26.8">3</text><text x="-12.58" y="0" font-family="'DejaVu Sans',sans-serif" font-size="26.8" font-style="italic">π</text><text x="3.55" y="0" font-family="'DejaVu Sans',sans-serif" font-size="26.8">/4</text></g>
<line x1="532.1" y1="978.2" x2="532.1" y2="987.2" stroke="#111" stroke-width="1.25"/>
<g transform="translate(532.1,1014)" fill="#000"><text x="-8.07" y="0" font-family="'DejaVu Sans',sans-serif" font-size="26.8" font-style="italic">π</text></g>
<line x1="108.4" y1="978.3" x2="117.4" y2="978.3" stroke="#111" stroke-width="1.25"/>
<g transform="translate(102.8,989.1)" fill="#000"><text x="-42.62" y="0" font-family="'DejaVu Sans',sans-serif" font-size="26.8">0.4</text></g>
<line x1="108.4" y1="887.82" x2="117.4" y2="887.82" stroke="#111" stroke-width="1.25"/>
<g transform="translate(102.8,898.62)" fill="#000"><text x="-42.62" y="0" font-family="'DejaVu Sans',sans-serif" font-size="26.8">0.5</text></g>
<line x1="108.4" y1="797.35" x2="117.4" y2="797.35" stroke="#111" stroke-width="1.25"/>
<g transform="translate(102.8,808.15)" fill="#000"><text x="-42.62" y="0" font-family="'DejaVu Sans',sans-serif" font-size="26.8">0.6</text></g>
<line x1="108.4" y1="706.88" x2="117.4" y2="706.88" stroke="#111" stroke-width="1.25"/>
<g transform="translate(102.8,717.67)" fill="#000"><text x="-42.62" y="0" font-family="'DejaVu Sans',sans-serif" font-size="26.8">0.7</text></g>
<line x1="108.4" y1="616.4" x2="117.4" y2="616.4" stroke="#111" stroke-width="1.25"/>
<g transform="translate(102.8,627.2)" fill="#000"><text x="-42.62" y="0" font-family="'DejaVu Sans',sans-serif" font-size="26.8">0.8</text></g>
<g transform="translate(127.8,618)" fill="#000"><text x="0" y="0" font-family="'Liberation Serif',serif" font-size="52">(d)</text></g>
<g transform="translate(326.5,1060.5)" fill="#000"><text x="-10.81" y="0" font-family="'Liberation Serif',serif" font-size="44" font-style="italic">θ</text></g>
<g transform="translate(43.2,785.3) rotate(-90)" fill="#000"><text x="-45.91" y="0" font-family="'Liberation Serif',serif" font-size="43.5">slope</text></g>
<g transform="translate(422,864)" fill="#0000ff"><text x="0" y="1" font-family="'Liberation Serif',serif" font-size="45">−</text><text x="26.88" y="0" font-family="'Liberation Serif',serif" font-size="43" font-style="italic">π</text><text x="49.42" y="4" font-family="'Liberation Serif',serif" font-size="52">/</text><text x="65.37" y="0" font-family="'Liberation Serif',serif" font-size="42">2</text></g>
<g transform="translate(203,886.3)" fill="#ff0000"><text x="0" y="1" font-family="'Liberation Serif',serif" font-size="45">−</text><text x="26.88" y="0" font-family="'Liberation Serif',serif" font-size="43" font-style="italic">π</text><text x="49.42" y="4" font-family="'Liberation Serif',serif" font-size="52">/</text><text x="65.37" y="0" font-family="'Liberation Serif',serif" font-size="42">2</text></g>
<g transform="translate(177,965.3)" fill="#ff0000"><text x="0" y="0" font-family="'Liberation Serif',serif" font-size="44" font-style="italic">θ</text><text x="6.98" y="-12.5" font-family="'Liberation Serif',serif" font-size="38">ˆ</text><text x="22.11" y="7" font-family="'Liberation Serif',serif" font-size="31">1</text></g>
<g transform="translate(295.5,965.3)" fill="#0000ff"><text x="0" y="0" font-family="'Liberation Serif',serif" font-size="44" font-style="italic">θ</text><text x="6.98" y="-12.5" font-family="'Liberation Serif',serif" font-size="38">ˆ</text><text x="22.11" y="7" font-family="'Liberation Serif',serif" font-size="31">2</text></g>
<g transform="translate(377.5,559.9)" fill="#444"><text x="0" y="0" font-family="'Liberation Serif',serif" font-size="44" font-style="italic">θ</text><text x="6.98" y="-12.5" font-family="'Liberation Serif',serif" font-size="38">ˆ</text><text x="22.11" y="7" font-family="'Liberation Serif',serif" font-size="31">min</text></g>
<g transform="translate(485,559.9)" fill="#000"><text x="0" y="0" font-family="'Liberation Serif',serif" font-size="44" font-style="italic">θ</text><text x="6.98" y="-12.5" font-family="'Liberation Serif',serif" font-size="38">ˆ</text><text x="22.11" y="7" font-family="'Liberation Serif',serif" font-size="31">max</text></g>
<g>
<polygon fill="#1f77b4" points="1004.5,781.0 1005.1,783.7 1003.8,786.3 1002.3,788.9 1003.0,791.6 1001.5,794.1 1003.5,797.1 1005.8,800.2 1001.4,802.2 1000.6,804.7 1002.3,807.9 1001.4,810.4 1000.1,812.9 997.2,814.7 998.2,817.9 998.8,821.0 993.6,821.8 994.4,825.0 990.5,826.1 990.6,829.0 988.3,830.8 990.2,834.8 986.9,836.0 988.4,840.0 986.8,842.2 984.7,844.0 979.0,843.1 981.0,847.8 980.2,850.6 978.8,852.9 974.3,852.5 974.3,856.0 971.7,857.2 970.1,859.3 971.0,864.2 966.3,862.9 965.4,866.0 964.6,869.3 960.5,868.4 959.0,870.8 957.1,872.8 954.9,874.2 951.1,873.2 950.4,877.0 949.4,880.9 944.0,876.5 944.1,882.4 941.0,882.1 937.9,881.7 937.6,888.2 934.1,886.6 930.1,883.4 928.5,887.0 926.3,888.8 923.3,887.9 921.2,890.5 918.2,889.5 915.9,891.6 913.6,893.8 910.2,889.6 907.8,891.9 905.0,890.7 902.5,892.2 899.7,889.5 897.1,890.9 894.5,891.8 891.8,894.2 889.1,894.7 886.7,889.0 884.1,890.0 881.1,892.9 879.2,886.7 876.2,889.6 873.4,890.0 870.2,892.4 867.8,890.5 865.8,887.6 863.3,886.8 860.7,886.3 856.9,889.1 855.8,884.1 853.3,883.4 850.3,883.7 848.3,881.6 845.9,880.3 844.5,877.3 841.1,878.2 839.2,876.0 835.1,877.7 833.4,875.3 832.0,872.5 829.0,872.2 828.2,868.8 824.2,869.6 823.6,866.0 820.7,865.2 821.5,860.4 817.1,861.2 818.4,856.1 817.2,853.7 812.7,854.3 811.9,851.4 808.5,850.9 803.2,851.6 807.0,845.3 805.1,843.4 802.1,842.2 800.1,840.3 800.0,837.2 798.8,834.8 795.7,833.4 794.9,830.8 796.8,826.9 793.8,825.4 792.5,823.0 793.8,819.6 790.2,818.1 791.7,814.8 787.0,813.4 788.0,810.3 787.5,807.7 788.4,804.7 786.8,802.3 790.4,799.0 788.1,796.7 784.5,794.5 789.7,791.3 782.9,789.2 788.5,786.2 782.9,783.7 786.4,781.0 782.8,778.3 784.3,775.6 788.2,773.2 782.3,770.0 782.2,767.2 785.8,764.9 786.7,762.4 786.9,759.7 789.2,757.5 785.3,753.8 789.5,752.1 789.2,749.2 791.5,747.2 792.0,744.5 794.3,742.6 790.1,738.0 794.0,736.7 792.8,733.2 795.9,731.7 798.5,730.0 799.0,727.3 800.7,725.2 801.0,722.3 803.2,720.5 804.5,718.2 808.0,717.4 808.5,714.5 805.9,709.0 811.6,710.2 813.9,708.8 813.4,704.7 813.6,701.1 819.9,703.7 819.9,699.9 822.5,698.8 826.1,699.0 824.6,693.0 827.7,692.6 829.8,690.9 833.0,690.8 833.7,687.1 837.1,687.5 838.9,685.4 842.2,685.9 844.6,684.9 844.4,678.6 848.6,681.1 850.3,678.4 853.0,678.0 855.8,677.9 858.4,677.1 860.1,673.9 863.2,675.0 865.7,674.0 868.2,672.9 870.2,669.8 873.1,670.3 875.8,670.5 878.8,672.2 881.6,673.6 883.7,668.2 886.4,667.9 889.2,670.2 891.8,668.6 894.5,668.0 897.2,667.9 899.9,667.8 902.4,671.1 905.4,666.9 907.4,673.3 910.7,669.0 913.2,670.3 916.0,669.9 919.1,668.3 921.6,669.8 922.7,676.1 924.9,678.0 929.0,673.5 930.3,678.2 933.5,677.0 936.7,676.2 937.0,682.4 938.9,684.4 943.5,680.8 945.7,682.4 947.7,684.2 950.3,685.0 951.5,688.1 953.0,690.8 956.8,689.7 957.9,692.7 959.1,695.5 964.1,693.4 965.3,696.1 968.0,697.1 967.9,701.1 970.3,702.4 971.6,704.8 973.6,706.6 977.2,706.9 977.3,710.4 980.9,710.8 982.5,713.0 987.1,713.0 982.5,719.6 988.1,719.0 987.8,722.4 989.3,724.6 987.8,728.5 991.0,729.8 994.6,731.0 994.1,734.2 995.5,736.5 995.8,739.3 999.7,740.6 998.2,744.1 994.5,748.1 998.4,749.6 996.5,752.9 994.4,756.1 1000.8,757.2 1005.3,759.1 1003.0,762.3 1000.8,765.3 1001.6,767.8 1006.5,770.0 1004.6,772.9 1004.5,775.6 1004.4,778.3"/>
<path fill="none" stroke="#1f77b4" stroke-width="1" stroke-linejoin="round" d="M875.4,784.6L812.5,848.7L910.4,840.2M833.2,805.2L794.4,728.5L900.3,795.2M904.3,728.6L1003.9,757.8L994.0,746.6L931.2,699.7M840.3,755.0L936.6,653.5L929.2,697.1M846.1,741.2L785.3,754.8L899.4,789.3L870.7,782.9L919.1,664.4L896.7,769.1M887.9,822.2L986.5,878.2L924.7,819.5M938.1,766.9L988.3,849.3L946.4,830.5M853.9,763.6L785.4,827.4L872.4,842.1M918.6,751.5L964.3,689.3L887.3,731.0M899.5,809.9L1003.9,746.9L907.8,735.1M850.6,734.4L861.4,677.8L823.9,732.5M945.9,820.9L1005.2,757.9L961.7,760.6L992.5,847.1L841.9,759.7M883.0,706.6L881.6,664.5L906.2,715.2M822.2,714.9L787.1,720.1L929.1,717.9M939.3,772.6L981.0,694.3L908.0,792.4M856.8,712.7L853.9,665.8L913.8,719.7M885.3,704.5L953.5,655.9L865.7,732.0M900.4,769.6L944.0,686.8L909.3,722.4M849.8,699.0L850.4,671.1L879.6,793.0M900.3,799.0L940.6,890.5L962.7,819.8M891.2,770.0L991.8,741.6L918.6,762.2M809.7,730.3L937.0,672.9L893.1,757.9M867.5,802.3L882.5,907.3L861.2,877.6M833.0,821.0L989.5,823.5L976.0,816.7M837.9,714.1L857.0,682.3L826.7,682.0L881.8,768.6L974.9,713.7L890.1,799.6M874.7,785.5L954.9,689.3L1022.3,705.7L973.0,810.8M865.2,812.2L855.7,683.3L1001.6,781.7L1002.9,742.5L988.6,836.9L988.0,796.9L872.1,778.2L795.3,707.9L868.6,717.0M896.2,856.0L831.4,867.1L848.0,688.8L991.8,820.3L880.4,800.0M944.8,784.9L1008.2,751.8L939.5,690.9M880.6,826.6L1001.8,830.5L925.2,788.5M894.4,839.1L1008.0,746.5L977.9,842.7M916.3,714.5L932.9,887.9L826.6,856.4M928.4,794.4L996.5,814.2L909.8,822.9M844.0,791.6L793.8,836.7L843.9,764.5M893.7,749.3L898.1,670.5L923.7,719.7L939.8,684.4L937.2,742.0M862.3,775.1L788.4,811.2L813.1,744.8M940.0,824.8L905.9,887.1L911.5,809.2M959.0,786.6L1002.0,745.2L955.9,727.7M917.5,802.9L978.2,845.8L897.0,796.7L841.4,796.3L884.9,900.3L895.7,727.9M965.1,791.1L993.5,743.6L913.5,711.3M828.4,845.2L818.3,866.4L896.8,791.2M875.2,832.8L836.2,885.5L846.4,718.6M888.9,825.8L921.9,674.9L904.4,687.4M952.5,813.2L987.2,710.0L976.1,748.6M899.7,720.1L836.7,691.1L907.6,721.6M890.8,783.0L870.0,626.2L891.1,654.1L903.7,790.9M942.3,820.5L892.1,892.7L910.3,837.7M923.7,805.6L1022.0,825.7L907.9,757.4L753.6,748.7L844.8,812.4M868.1,695.5L858.4,669.4L886.5,747.7M909.1,790.8L968.9,863.4L866.2,849.7M817.8,842.9L847.6,899.3L898.7,808.5M936.0,818.6L919.2,894.8L912.1,764.3L954.6,758.5L899.8,647.3L938.1,775.6M897.7,760.9L929.4,908.6L937.6,850.0M893.0,821.0L833.6,889.9L926.4,804.5M977.0,740.9L1002.8,722.5L952.4,712.5M978.2,760.9L1004.2,779.9L916.8,770.9M955.9,789.7L986.9,730.6L931.4,754.1M953.9,740.5L803.3,707.3L824.6,753.0M845.7,779.6L852.9,894.4L916.3,779.6M854.1,765.2L787.5,828.1L782.7,824.0L826.1,752.4M876.2,822.9L775.4,764.1L887.6,705.9L1001.5,648.6L986.9,807.4M917.0,803.7L990.2,842.6L933.7,790.5M908.5,753.6L821.3,675.6L805.3,760.9M867.6,833.2L780.3,834.2L956.6,798.0M834.1,861.7L860.8,893.5L906.9,818.0M992.8,778.1L1058.0,822.7L964.4,772.3M872.7,859.9L830.0,885.6L864.6,843.1L778.9,805.5L845.4,817.3M850.7,831.9L897.0,901.4L863.5,811.3M874.5,816.1L998.5,787.7L915.0,753.6M880.7,806.4L967.8,895.1L879.2,860.0M902.7,767.0L989.1,731.2L918.8,802.0M808.7,808.6L806.0,840.5L785.2,756.2L791.4,843.2L809.5,804.5M874.4,756.3L970.6,673.2L932.5,778.9M947.8,808.7L985.8,846.4L920.2,783.0M871.5,685.7L849.1,675.9L899.2,752.1M934.1,782.8L890.7,915.3L896.4,798.5M844.3,810.0L773.3,775.1L788.5,760.9L898.2,748.2M947.6,813.7L937.0,675.9L942.3,737.9M948.7,736.6L997.8,769.8L888.4,819.4M886.4,744.3L880.5,662.0L897.8,744.1L1003.2,802.1L907.0,811.3L846.8,764.5L801.8,837.0L891.6,747.9M914.0,842.2L958.8,897.7L926.8,824.6M880.7,741.2L986.6,703.1L953.1,799.6M884.1,746.7L776.8,779.4L820.2,793.8M899.6,808.3L984.1,840.0L950.2,800.9M833.7,722.5L806.3,705.2L915.6,749.8M961.5,730.2L983.3,723.0L911.3,799.1M834.7,801.6L833.7,896.2L867.3,823.6M929.4,744.2L949.7,680.7L912.2,844.6M867.2,775.7L984.5,728.1L901.6,810.4M814.1,843.6L968.6,856.5L903.4,767.6M920.5,786.2L933.0,891.6L936.6,832.2M876.2,833.9L802.0,718.3L808.5,741.6M835.4,856.9L778.0,796.3L920.8,806.1M956.1,815.5L922.6,893.3L859.3,853.0M947.8,692.3L841.0,663.4L841.7,790.0M932.1,763.8L862.9,643.8L861.0,656.3L807.9,777.4M871.7,774.3L791.2,817.1L845.4,888.7L891.2,818.8L815.2,853.6L853.1,793.5L787.0,821.6L901.3,765.0M891.2,755.4L784.6,736.7L901.4,776.6M935.9,788.9L1002.3,784.4L946.3,701.1M860.8,801.1L782.0,736.7L781.9,822.5L834.8,769.4M855.2,798.0L795.1,833.7L879.1,818.1M847.7,780.7L924.1,953.3L931.0,834.5M855.2,821.6L868.1,892.5L902.8,806.8M849.3,810.1L793.7,705.5L893.0,784.4M901.4,717.2L887.6,668.5L837.6,763.3M890.8,876.0L814.8,851.6L887.3,770.6M923.6,804.7L990.1,701.3L913.4,800.8M857.1,832.3L776.7,759.1L876.2,758.2M954.9,815.8L963.0,891.4L905.0,824.6L895.0,644.4L835.6,740.4M927.1,764.6L1026.8,765.8L909.6,825.2M929.3,822.5L775.4,755.7L826.2,763.6M843.4,787.7L786.2,763.8L834.7,798.8M967.7,746.6L830.2,669.7L939.8,743.9M868.1,723.8L949.7,665.3L884.5,770.8M840.1,795.4L838.7,879.8L901.4,894.5L854.8,844.0M883.4,708.9L868.8,675.1L982.9,813.6M968.3,775.8L987.5,832.2L924.6,833.9M923.9,812.3L772.3,803.6L782.2,794.9L824.0,789.6M873.8,765.5L858.0,912.7L867.0,744.1M898.0,805.6L994.2,741.5L933.7,806.9M856.6,801.5L777.0,693.7L807.8,797.8M874.0,758.1L824.0,700.4L884.5,793.7M844.4,759.1L803.7,853.1L911.9,822.1M813.0,832.0L804.9,717.1L880.5,779.9M871.7,853.7L790.9,759.7L884.0,710.5M915.4,804.0L774.7,763.5L933.6,699.9M882.9,770.1L888.3,908.6L883.6,778.1M868.0,802.6L969.8,853.7L914.7,840.9M934.7,768.9L999.1,734.8L939.0,817.3M926.3,797.7L910.0,888.1L899.7,803.1M820.3,798.0L779.4,741.7L838.7,673.6L799.8,755.3M969.9,785.3L990.0,855.9L956.0,881.6L948.7,773.8M900.0,706.0L803.0,676.1L931.6,672.0L925.4,811.0M969.1,844.6L1016.5,826.5L900.5,816.9M967.8,824.4L993.6,815.2L921.2,735.7M826.0,751.8L798.0,733.6L853.7,768.0M914.2,847.2L770.9,816.2L903.3,876.8M934.1,750.6L1013.5,723.8L928.5,704.0M930.5,828.8L937.0,657.8L867.6,733.2M958.7,800.6L1006.9,760.4L981.3,797.6M909.3,796.2L967.1,683.3L912.1,768.2M835.6,746.7L891.4,667.8L876.3,768.8M955.2,757.4L1027.7,736.7L925.9,723.7M868.1,784.5L830.9,661.4L874.9,676.7L850.5,700.2M881.6,748.8L975.1,693.1L930.1,774.2M911.3,707.3L806.4,721.9L839.9,697.1M882.5,838.3L787.8,820.1L881.6,725.3M863.4,830.0L810.1,872.7L840.5,872.8L874.2,750.0M873.3,817.9L792.0,760.4L925.0,803.9M841.8,780.9L1004.0,725.7L881.7,776.3M900.8,850.6L894.6,895.7L1008.1,760.8L926.7,734.3M851.9,842.9L867.4,673.5L876.7,773.6M891.2,795.5L984.2,693.6L892.6,678.2L880.4,740.0L1048.2,782.8L1014.8,835.6L911.8,817.0M892.7,847.1L801.7,886.2L856.6,759.4M915.1,759.3L838.8,870.3L922.0,821.4M903.1,761.2L1000.3,841.0L947.8,827.0M854.4,813.2L920.3,902.3L893.7,883.7M859.0,745.9L806.5,704.1L883.9,740.5M882.1,751.2L826.0,701.7L890.8,762.1M970.3,796.3L976.4,676.8L977.4,748.1M922.4,794.5L996.1,873.6L876.5,783.9M817.1,785.9L817.9,676.9L844.9,739.0M881.3,776.6L832.7,662.0L897.5,800.6M948.1,728.5L922.7,652.4L857.3,768.9M794.1,774.2L767.6,853.2L881.5,826.1M890.9,815.4L868.1,911.1L874.6,823.3M811.5,781.1L797.2,859.9L872.8,757.0M935.0,809.3L979.1,848.8L883.5,793.1M923.2,741.0L982.4,722.6L884.1,750.4M912.1,855.5L1012.8,811.2L826.6,771.7M843.5,755.4L871.3,667.1L926.8,748.1M810.4,744.9L790.8,821.5L871.1,762.4M911.1,776.2L796.3,822.2L901.9,814.3M942.2,711.2L780.9,745.8L879.7,755.1M849.8,729.2L951.1,679.3L972.9,693.1L923.2,850.4M899.8,792.3L1006.1,826.7L971.8,779.7L943.4,875.0L927.8,854.7M941.3,764.1L1017.2,789.7L937.1,842.0M852.6,754.0L1018.1,772.3L921.0,786.1M885.1,747.9L794.2,812.3L806.1,775.0M873.3,777.4L782.5,797.6L901.0,790.2M816.0,816.5L798.7,821.8L884.7,814.6M880.9,822.6L951.6,887.7L856.0,756.4M860.9,752.1L780.7,844.0L823.3,795.1M950.4,782.4L1020.1,851.0L910.1,791.2M931.2,733.5L911.4,664.4L909.0,800.3L809.3,848.3L887.9,771.5M871.0,697.8L940.0,685.0L862.5,779.0M870.1,720.2L787.1,770.3L909.4,740.1M796.1,783.7L858.7,679.5L909.3,748.3M871.3,749.5L976.6,846.2L898.4,782.6M816.1,778.1L771.6,711.8L834.4,764.7M936.9,748.4L899.5,902.0L987.7,850.4L951.6,841.6M877.6,805.8L977.7,700.6L933.1,683.9M825.4,801.3L752.5,797.0L834.0,725.9M971.5,752.1L996.9,829.1L898.6,759.9M891.9,769.0L939.7,885.9L880.7,724.7M888.8,685.5L772.9,779.3L858.4,753.8M906.3,685.7L939.0,681.5L908.6,687.9M867.1,810.8L832.4,926.1L869.6,876.8M892.9,818.6L791.1,823.8L823.9,772.9M862.9,793.6L1031.1,798.2L957.6,782.8M948.3,773.1L1015.2,707.4L954.1,780.7M919.1,824.5L996.8,842.3L863.8,794.2M896.5,788.4L890.7,641.0L870.9,705.9M867.8,728.2L999.0,793.4L916.1,781.0M820.4,713.9L754.8,751.2L841.3,801.2M914.7,756.2L1018.9,762.6L953.7,831.7M880.4,863.4L810.8,855.2L883.0,804.9M921.4,800.1L756.9,719.6L863.4,770.3M903.6,823.2L936.2,680.1L963.3,728.6M913.9,713.8L854.6,648.3L915.2,787.2M905.4,721.2L1020.7,718.8L890.9,801.0M867.6,750.1L827.2,865.0L854.1,773.5M902.0,743.2L877.3,676.6L883.7,747.0M914.6,788.7L1002.3,820.2L943.7,850.7M911.6,813.0L978.9,688.0L854.9,783.3M912.9,794.6L1022.0,843.0L967.7,843.6L1039.4,846.9L910.2,815.8M941.1,762.4L921.5,678.6L973.3,680.3L884.4,779.3M924.2,728.6L760.2,764.8L894.3,792.7M827.4,806.6L788.4,870.0L867.6,790.4M829.4,776.2L800.3,727.6L911.4,791.2M808.8,779.0L787.9,766.5L890.9,722.5M836.3,780.6L936.4,683.0L818.5,813.5M887.5,729.2L981.5,702.7L996.1,726.2L946.2,757.0M909.6,756.2L961.8,879.3L871.6,773.4M881.0,879.6L880.0,891.7L939.1,780.2M852.2,840.5L942.4,898.4L942.4,854.7M961.6,742.3L960.9,864.6L814.0,766.7M835.2,831.5L752.4,717.8L932.5,772.6M829.3,761.2L766.2,760.5L820.5,857.5L894.3,797.6M867.8,785.7L874.1,893.3L894.3,732.0L931.5,881.6L867.2,965.4L886.4,882.7M837.0,744.2L787.6,822.6L815.6,812.4M817.6,792.5L766.6,741.6L917.3,826.9M856.7,826.2L792.9,861.1L797.5,779.3M902.4,707.7L797.9,659.1L865.2,736.1M882.0,738.0L826.7,685.8L929.0,794.2M884.2,759.2L906.9,655.5L882.7,753.2M933.6,782.8L974.2,860.0L889.9,783.9M845.8,758.1L818.1,703.7L813.5,688.8L862.5,772.1M810.7,814.8L810.5,857.3L906.9,768.4M887.3,783.1L1002.8,721.9L980.7,737.8M943.4,784.7L824.2,695.6L869.1,780.4M842.1,789.9L804.6,696.1L857.3,736.5M901.9,705.5L996.4,813.1L955.9,734.5M834.2,786.5L759.8,861.8L835.2,837.0M805.0,754.1L1019.7,775.7L917.2,753.9M921.4,791.0L875.3,949.4L924.9,872.5L981.0,851.2L929.6,832.8M896.3,723.2L977.7,713.9L964.7,738.2L929.2,739.9L1012.4,813.9L1008.1,825.4L959.0,801.4M961.6,748.8L837.8,673.9L758.1,723.6L913.6,694.1M911.6,866.0L850.6,880.8L885.1,722.9M914.2,793.5L1008.6,786.6L892.4,803.1L815.2,857.6L915.2,788.3M840.0,802.1L933.0,881.4L904.8,843.4M857.8,798.3L810.0,703.0L835.7,693.0L900.0,798.9M891.7,715.4L756.5,814.2L903.8,729.5M891.6,702.6L955.7,684.7L910.6,767.9M809.5,764.6L866.2,883.6L943.7,817.7M952.7,735.2L876.7,670.9L844.3,696.9M899.7,748.0L871.0,667.5L841.4,801.5M888.4,785.7L779.1,789.9L893.8,839.5M917.0,755.0L1021.0,779.6L946.8,749.2M889.9,756.0L782.9,682.6L848.1,748.6M887.0,773.6L1012.8,731.3L927.4,763.9M938.4,826.3L859.8,669.2L919.6,768.6M900.2,853.7L996.3,804.4L917.2,742.5M946.3,814.9L1002.7,840.4L945.5,797.4M819.2,794.4L793.8,844.8L900.4,787.7M861.9,808.1L981.8,862.0L937.4,885.2L902.6,790.0L994.2,738.6L907.2,757.3M844.7,781.3L801.5,834.0L901.9,856.1M914.2,778.2L843.1,682.9L921.4,727.5M844.0,747.9L832.8,690.6L880.7,703.4M951.3,804.9L1028.0,853.1L1045.7,819.0L957.3,837.2M867.5,761.1L815.1,849.6L913.1,775.5M867.0,789.9L811.5,896.5L840.6,819.4M945.0,835.7L992.6,836.1L855.9,787.6L782.9,747.2L807.6,769.2M881.6,771.2L788.4,758.0L894.5,783.6M880.3,819.2L877.8,894.0L872.8,835.0M885.8,721.8L796.4,723.2L852.4,841.1M819.7,745.9L775.2,775.8L791.1,661.1L910.4,764.7M854.7,827.3L836.8,874.3L885.0,729.0M883.1,771.7L781.0,829.0L840.1,809.8M924.1,773.7L999.5,780.7L881.8,804.9M840.9,696.6L947.2,675.8L924.4,772.3L892.6,888.4L893.8,779.4M916.6,698.4L809.1,702.0L804.1,774.0M832.0,829.7L780.0,902.8L801.2,841.7L904.5,798.1M928.5,700.7L998.9,758.1L961.7,758.2M964.7,844.1L941.1,884.9L890.7,833.7M965.8,709.4L1008.1,772.6L914.2,694.8L886.8,654.8L895.3,735.1M963.2,822.4L1003.1,782.1L959.2,714.9M973.3,746.6L1042.2,770.3L929.2,835.1M884.6,744.1L794.4,839.0L843.6,821.2M916.4,795.5L998.2,767.2L884.8,776.6M931.0,858.8L813.5,710.0L909.2,793.4M823.5,851.9L808.1,710.2L891.4,752.2M829.8,732.6L787.4,728.6L748.3,730.7L810.4,731.2M936.3,787.4L944.0,658.0L968.5,762.0L933.8,702.1L1014.6,746.3L924.4,819.5M966.1,777.1L1000.7,751.5L1006.1,802.7L961.8,755.9M901.1,740.7L804.6,685.2L893.3,756.7M924.9,704.2L927.9,679.3L907.9,826.1M883.1,791.0L991.7,841.8L910.2,782.7M877.0,720.7L927.4,654.2L858.4,831.6M978.8,804.0L996.0,733.9L987.8,741.2M866.0,767.7L791.2,725.7L832.6,755.4M845.9,774.9L906.2,906.8L899.5,849.3M915.9,846.4L916.0,903.2L959.2,745.0M874.6,708.4L936.7,673.3L872.5,686.1M966.6,811.9L1005.2,795.6L955.6,777.5M990.3,778.1L933.7,680.0L934.0,725.5M953.5,817.4L992.5,667.9L949.7,762.9L785.7,745.8L859.6,832.0M914.7,882.8L947.5,921.8L913.7,822.3M985.4,792.8L995.9,824.2L911.0,739.1M963.3,731.3L798.9,833.3L887.5,731.9M843.9,813.6L972.0,853.8L920.8,820.9M931.0,831.2L1021.4,779.4L935.8,806.0M938.3,782.2L862.7,680.5L798.1,721.0L873.2,738.0L866.6,704.1L820.5,688.3L901.1,672.6L927.3,712.9M903.2,778.9L878.1,896.1L869.6,763.6M875.1,832.0L919.0,914.4L856.2,816.5M902.7,781.6L835.8,677.4L900.1,727.3M838.3,803.5L789.5,769.7L838.9,839.5M856.9,869.0L771.1,808.4L758.0,829.4L819.9,858.5L848.8,846.2M886.6,769.8L902.7,672.6L1019.0,780.8L966.4,753.4M903.2,814.2L764.1,815.0L898.1,841.8M848.8,753.1L789.9,755.7L867.1,821.6M904.6,817.1L871.3,893.0L840.3,740.6M889.1,719.0L894.3,653.3L900.6,797.3M875.4,785.7L883.9,644.0L927.8,757.7M934.6,785.8L815.5,709.6L872.1,731.6L886.3,739.2L951.6,690.0L855.7,713.0M857.9,859.0L993.7,820.1L916.3,841.3M832.3,787.7L790.5,807.1L774.1,746.1L869.1,756.4M860.2,867.3L805.1,841.1L829.9,799.1M881.5,764.8L770.9,804.5L811.6,818.0M816.7,800.4L833.1,866.6L869.2,899.6L914.5,836.2M940.1,711.6L898.6,649.3L914.9,772.8M904.7,767.1L996.9,759.9L995.3,819.3L843.1,803.6M846.9,814.9L795.1,815.2L887.0,842.0M890.5,756.5L746.7,809.4L850.1,781.3M906.2,746.6L876.5,667.5L854.7,714.9M959.8,754.3L927.3,892.4L873.0,831.3M843.2,714.2L864.2,663.6L872.3,808.3L772.5,808.8L821.0,773.1M821.7,826.6L871.7,887.5L959.4,803.4M897.8,788.6L981.0,698.0L873.8,776.6L895.1,831.4L949.3,879.0L879.0,836.7M930.7,789.6L971.8,709.2L914.9,851.7L884.7,784.9L966.0,887.5L921.6,784.1M823.8,784.9L789.2,747.1L867.0,787.8M977.9,810.2L926.8,675.8L867.0,771.7M942.3,710.0L1012.3,748.0L903.9,834.1M864.1,865.2L980.0,872.3L883.5,750.8M874.8,869.9L828.2,913.9L847.5,861.7M851.2,866.5L963.9,874.9L876.2,855.1M835.3,718.3L797.0,666.9L864.9,761.0M896.5,837.5L966.3,865.2L889.6,774.7M837.5,718.5L840.8,632.8L853.1,783.8L868.3,825.1L765.9,789.5L914.2,850.3M851.1,864.1L851.2,910.7L914.5,861.1M927.0,753.9L984.8,641.7L891.6,720.2M928.3,837.4L797.1,822.6L877.7,758.0M877.0,772.7L771.5,781.8L840.3,684.7L899.4,724.8M835.5,768.3L807.0,871.3L875.6,802.5L856.8,744.0L765.1,864.9L851.9,808.5M979.6,764.8L1003.9,650.5L967.4,707.0L1000.3,721.0L970.5,720.9M923.3,756.0L1003.7,759.8L992.6,731.6L883.5,769.9L848.7,796.8L790.7,793.1L839.7,743.8M921.3,795.8L1002.4,737.9L878.8,766.9M858.4,770.1L771.8,738.4L905.6,790.1L904.5,887.4L920.1,761.1M804.6,789.1L776.3,767.4L930.6,794.3M901.6,762.7L776.8,750.9L872.1,799.9L760.0,686.1L860.9,709.4M861.3,810.5L976.6,846.3L940.4,832.5M888.0,812.9L873.4,897.6L935.4,778.2L804.2,833.2L878.3,800.5L849.7,727.0L804.3,872.7L934.3,785.8L984.6,705.2L950.9,788.2M924.2,840.6L829.6,884.1L873.2,756.9M892.0,784.1L796.9,835.2L937.3,753.9L969.0,826.1L959.2,863.5L856.2,836.5L841.0,897.7L838.1,764.5M877.2,768.5L791.9,815.5L817.8,821.9M872.3,706.6L1003.3,692.3L931.8,719.9M893.4,761.5L977.8,690.0L876.4,816.7M897.8,854.9L902.3,889.7L914.1,825.5M899.8,758.6L1000.5,773.8L894.3,820.8M908.7,707.4L883.0,658.5L866.9,760.9M898.8,771.0L852.3,668.0L877.2,736.8M912.6,783.8L803.2,849.7L837.3,795.8M958.1,700.5L1018.4,749.2L884.0,697.5M822.3,763.2L982.9,902.5L919.5,851.7M939.2,798.4L990.0,834.2L924.6,792.6M817.1,758.4L998.0,749.8L937.7,754.8M978.3,771.5L979.5,868.7L1010.1,820.1L922.6,725.7M892.6,811.4L771.2,776.3L886.7,732.9L949.1,687.3L968.7,731.8M920.1,683.0L954.3,685.4L911.1,860.8M835.0,790.4L891.0,919.3L820.1,834.7M817.0,815.0L770.0,784.1L911.4,804.0L885.0,778.1L873.9,895.7L886.2,814.9M879.1,834.0L851.6,895.9L893.7,840.7M963.0,760.6L972.5,670.9L899.7,799.6M934.8,778.6L878.6,921.2L823.4,813.3M888.4,750.6L961.4,685.4L943.5,671.3L842.6,692.8M830.2,748.9L857.7,667.6L854.5,796.7M921.3,806.8L985.1,657.1L884.4,714.5M899.3,840.1L802.9,861.6L874.2,764.3M930.4,741.7L896.9,667.8L928.2,733.8M842.6,797.3L784.4,732.9L839.7,799.8M918.7,807.8L856.1,889.6L903.1,756.5M897.5,822.1L991.1,829.2L1004.2,820.8L896.0,853.6M958.9,727.6L991.2,859.8L885.7,802.9M887.5,832.6L801.5,831.7L843.7,792.3M935.6,734.6L997.9,742.8L881.7,802.5M897.8,770.2L918.7,895.6L881.0,802.2M884.9,816.6L891.5,894.3L810.5,886.8L905.0,833.6M968.1,785.2L981.6,863.1L954.0,786.6M871.2,878.4L927.4,883.1L879.9,774.8M902.5,716.4L905.8,668.3L963.3,832.9M978.3,809.7L845.0,882.0L949.0,767.4M882.4,714.9L869.1,901.8L913.1,813.4M887.0,712.8L972.8,699.2L865.0,735.6M853.1,852.2L787.2,726.9L895.6,771.5L774.3,762.3L846.5,826.1M937.7,842.0L873.0,892.6L859.5,785.9M811.4,842.1L888.4,897.1L872.2,842.3M986.9,807.4L1009.4,735.2L969.7,781.6M876.9,881.6L881.3,898.0L862.4,841.3M913.0,766.1L818.5,666.7L842.6,727.8M936.8,776.4L1020.5,791.9L919.8,753.9L861.7,803.9L769.4,780.2L801.2,772.3M865.9,694.5L915.3,651.6L882.9,712.9M962.1,748.7L785.2,824.8L867.5,789.3M881.0,714.5L989.3,675.1L875.7,733.4M826.7,854.1L823.8,870.2L904.5,848.6M804.5,822.0L802.5,882.5L893.4,807.5M863.6,871.3L932.8,883.7L943.4,822.5M883.3,745.8L879.7,652.5L900.1,807.7M887.8,827.4L816.3,867.9L866.9,844.6L845.6,885.2L836.3,809.8M894.9,826.4L781.9,848.5L853.8,830.1L880.5,926.3L864.9,871.3L777.5,810.1L892.6,724.9M871.3,809.9L828.8,863.7L851.1,860.0M922.8,821.2L766.9,770.6L863.1,782.4M910.6,768.8L794.9,860.8L912.3,798.4M836.3,777.1L810.6,853.4L840.2,814.4M861.0,718.7L833.5,685.6L895.7,802.4M921.3,793.8L797.2,823.8L822.1,814.9M926.8,763.1L960.9,665.1L937.5,780.5M862.2,715.1L803.4,843.9L861.7,759.9M868.9,763.3L797.7,866.2L848.0,793.8M946.0,787.8L909.3,885.4L853.6,800.3M957.3,716.5L1022.7,732.8L979.0,754.8M997.0,793.6L954.6,891.0L878.7,826.7M869.9,703.8L892.2,664.3L846.2,756.5L791.4,707.1L905.1,701.9M938.0,866.6L823.6,879.7L798.7,870.5L864.9,822.5M935.2,828.8L1016.6,737.8L885.6,756.6M953.0,739.1L846.5,687.4L878.1,725.1M885.3,774.7L934.6,898.4L923.6,877.3M886.5,784.7L912.7,669.5L847.5,721.8M849.1,828.5L773.4,812.2L859.4,789.7M856.0,799.9L783.0,808.1L776.4,825.2L793.0,822.2L966.8,780.7M866.7,757.4L937.9,652.5L844.5,685.8L849.5,665.7L914.7,788.9M926.5,780.5L962.9,685.2L909.5,743.9M944.4,763.9L986.8,726.8L907.8,737.1M885.2,788.5L963.0,690.5L885.0,721.3M904.5,757.8L1013.2,782.6L883.1,784.8M883.9,801.2L881.5,903.2L862.8,806.2L871.2,729.0L751.2,755.4L872.7,755.1M902.8,681.4L947.0,668.0L893.4,787.9M980.7,771.1L969.5,854.6L901.9,847.3M852.3,737.8L871.1,666.0L971.2,763.1M840.7,767.2L767.2,765.1L822.8,810.9L760.5,874.4L840.2,742.1M842.4,766.4L1009.6,750.7L863.3,796.0M907.4,724.3L789.3,682.1L865.6,773.3M840.6,792.3L854.2,654.7L919.9,713.8M835.1,779.0L898.7,663.5L908.1,816.0M878.9,745.9L818.9,868.5L816.2,795.3M965.4,817.8L949.8,917.3L881.4,804.8M887.8,794.7L790.1,738.2L908.3,731.2M870.6,768.6L801.2,832.6L790.0,743.8L895.3,716.7M866.7,761.7L912.4,906.1L920.1,816.5M823.7,721.8L866.0,655.0L928.0,784.6M842.6,812.4L865.3,908.4L857.3,843.9M894.5,784.7L995.1,753.9L909.9,776.3M864.9,812.5L846.3,890.7L912.0,786.6M884.9,822.5L863.2,883.2L887.7,895.7L872.0,872.0M965.0,751.8L957.4,870.0L887.0,783.3M884.0,825.6L805.2,862.3L889.4,796.0M884.3,783.2L812.2,700.1L842.4,763.2M896.8,819.5L983.0,861.3L983.9,783.5M886.5,763.2L809.0,678.0L815.9,724.8M901.5,827.8L1021.2,832.6L893.2,839.0M904.3,775.1L789.1,791.0L867.9,759.3M947.7,712.5L996.8,811.4L902.9,771.2M888.9,818.2L999.2,810.7L858.3,798.9M819.3,745.1L866.1,662.3L909.3,733.8M890.8,699.5L826.9,696.7L868.1,856.5M878.2,729.9L804.6,644.8L849.8,776.5L907.2,830.8L785.6,788.7L915.2,746.3M913.3,803.8L1001.7,796.8L896.0,764.4M831.3,783.7L758.7,809.6L879.1,738.9M870.1,791.7L854.6,672.7L887.6,675.8L866.3,751.6M914.0,760.7L847.3,682.4L861.7,678.2L889.2,746.1M942.6,805.6L984.0,725.4L916.6,739.6M893.5,695.4L814.0,678.8L904.8,742.2M958.5,758.4L999.9,820.8L931.1,825.2M853.6,829.3L795.6,817.5L892.3,893.3L858.1,843.5M947.1,754.0L942.9,655.1L900.0,778.3L925.0,722.5L870.1,675.0L857.0,692.6M843.6,772.8L780.0,720.7L831.6,815.2M901.0,852.9L1026.9,876.9L941.8,794.7M900.1,799.4L836.9,902.1L927.5,785.1M829.7,719.9L795.0,837.9L784.1,743.5L874.8,771.6M929.4,684.4L884.6,671.1L917.6,688.8M833.6,798.4L794.7,810.1L797.1,786.7M847.1,827.5L878.2,912.0L897.0,895.4L910.0,819.0M903.6,816.6L952.2,869.9L961.8,836.4L938.6,811.2L907.1,887.9L896.2,885.6L891.3,865.3L775.1,814.3L833.9,859.6M952.9,777.8L987.3,724.0L868.9,789.9M942.8,756.0L993.6,845.4L893.8,839.8M940.3,789.0L1029.8,774.2L967.2,744.6M902.5,808.8L768.8,841.3L923.8,860.7M846.3,847.0L802.8,847.8L832.8,784.1M961.9,760.8L995.7,723.7L940.1,794.6M799.9,767.9L909.0,652.5L952.5,741.8M950.5,767.3L980.8,698.1L979.7,651.0L883.0,739.2L861.9,680.5L823.2,761.6M911.1,798.0L883.1,901.2L941.0,843.7M950.9,780.7L913.8,908.6L935.1,803.6M965.4,745.2L997.4,749.4L910.1,741.3M933.5,769.2L914.7,901.2L895.6,822.5M995.8,794.1L976.4,864.4L860.9,827.8M917.9,797.3L999.3,784.0L916.4,731.9M869.4,796.3L821.7,701.3L799.8,825.8L913.7,738.9M973.9,745.6L861.7,633.5L912.1,804.8M963.5,815.5L983.4,693.2L974.7,768.1M897.0,765.1L815.4,851.7L763.1,805.9L922.0,816.6M917.1,733.4L895.6,669.4L869.1,748.9L888.8,833.2L913.7,674.4L832.0,711.1M805.5,790.4L825.1,683.3L832.8,731.9M883.6,876.1L833.3,917.7L834.8,809.4M849.9,786.1L763.8,760.6L872.4,703.3M889.2,741.1L893.5,650.7L921.0,782.6M850.0,775.0L908.5,892.9L844.3,769.7M855.9,821.7L873.1,945.0L913.6,832.5M903.9,722.8L887.9,652.5L824.9,776.5M841.2,704.2L898.4,671.2L950.6,735.2M870.8,846.5L973.2,864.7L917.6,812.6M905.9,796.5L824.3,878.5L845.7,833.3M870.4,752.3L779.5,719.0L852.4,735.6M886.5,865.4L789.4,779.9L829.5,778.6M939.3,834.1L988.2,841.0L898.5,747.2M832.9,780.8L863.1,676.2L908.4,834.1M863.8,784.8L804.6,704.9L878.1,832.0M836.2,837.5L929.4,884.3L899.6,745.0M844.7,764.0L787.1,752.0L879.9,725.5M940.1,751.4L974.7,851.7L931.1,835.2M869.9,772.0L832.4,668.2L965.4,784.7M854.0,769.3L780.3,826.2L887.9,777.4M813.8,739.1L790.7,709.2L824.6,714.1M850.8,752.0L746.1,751.0L909.1,822.8M866.6,797.2L916.7,669.0L1005.0,780.7L919.2,731.2L834.9,909.3L862.7,849.5M891.8,771.1L926.8,655.1L828.7,649.5L934.6,777.0M954.8,831.1L1003.8,767.3L947.1,750.6L1006.4,792.0L947.7,802.0M916.0,830.3L1014.8,795.6L887.5,787.7M828.3,800.5L785.8,818.2L865.3,842.1M845.7,781.9L765.7,778.0L859.1,761.4M895.8,789.2L795.8,816.4L895.0,825.9M854.6,774.8L786.0,733.0L867.8,788.7M861.7,747.7L797.2,818.9L892.1,817.8M892.8,757.0L836.6,676.4L923.0,704.1L892.3,726.2L962.6,699.0L957.1,646.5L949.9,717.3M870.1,756.9L1020.5,820.2L873.9,803.4M925.6,779.3L773.5,691.1L815.2,712.8L881.4,843.8M866.1,826.1L824.4,865.6L850.3,831.9M883.6,768.9L858.6,892.7L881.4,841.4L878.2,916.3L794.7,805.3M834.0,760.0L932.9,675.8L831.9,785.4M918.8,771.8L897.0,638.1L904.1,683.6M892.3,803.2L954.2,687.9L844.0,819.3M889.5,797.3L986.8,864.3L903.9,785.8M892.0,817.5L942.5,887.0L903.3,862.7L786.7,883.8L859.7,864.3M912.9,767.7L874.6,652.7L910.6,734.5M891.2,735.3L1013.3,789.8L829.1,817.7M893.3,795.8L838.8,691.2L889.1,806.1M914.6,828.9L978.9,868.3L924.5,761.6M882.8,740.7L1004.3,834.7L930.2,727.9L883.4,728.3L856.1,675.6L862.6,725.7M899.7,725.4L803.9,722.2L901.2,814.1M880.2,781.6L952.7,871.4L965.4,908.6L945.0,785.8M877.9,744.4L786.0,771.7L825.8,779.2M941.8,796.6L1057.7,872.4L956.9,764.2M836.0,744.9L794.4,726.4L791.6,808.9L889.5,736.8M948.0,792.1L994.5,666.0L857.5,776.4M876.1,719.3L874.3,623.9L864.6,685.8M927.5,753.8L887.1,649.3L927.6,647.0L955.9,692.5L889.7,860.5M890.7,845.3L781.9,796.1L884.9,822.7M961.4,800.4L1002.9,734.4L896.1,767.5M929.1,830.1L927.2,915.6L962.6,827.7M802.5,734.0L752.9,758.8L903.5,703.4M873.2,797.4L1001.7,785.1L949.7,784.1L959.6,880.2L988.2,827.7L871.6,816.2M957.1,698.3L1017.1,675.8L838.3,661.0L830.3,721.5M948.0,715.5L870.7,677.4L855.3,797.3M955.2,795.0L981.4,680.0L893.8,676.3M898.5,720.8L810.2,683.2L921.9,744.3M926.5,782.6L955.3,879.5L949.4,835.5M899.3,713.4L789.6,694.3L930.4,791.4M855.2,720.7L850.5,680.9L899.6,720.1M940.7,791.6L930.0,906.1L868.2,810.3M921.0,812.0L863.7,667.5L892.7,712.5M910.6,772.9L769.4,732.6L856.5,671.3L901.9,790.4M922.7,753.4L838.9,688.7L926.6,768.1L984.7,831.4L1007.2,831.7L904.9,781.9M883.5,811.5L755.8,835.6L865.3,771.9M947.6,819.9L1013.5,747.5L907.0,862.8M870.3,732.8L922.6,677.7L926.5,804.5M973.8,727.9L1054.0,727.2L953.9,831.7M801.3,825.3L984.0,857.4L831.8,811.5M923.9,779.7L988.7,716.8L916.8,720.2L898.9,675.1L855.5,743.4M925.2,813.7L968.8,863.2L867.9,825.5M854.2,762.3L889.9,886.7L866.8,897.1L846.6,817.0M868.2,837.5L798.4,889.1L855.4,725.5M883.3,781.0L767.8,824.0L855.6,753.2M867.0,762.4L784.0,755.0L819.0,774.0M959.6,832.2L998.7,858.7L986.0,794.5M886.6,680.5L823.8,686.5L868.8,740.6M933.8,769.8L949.9,688.2L843.5,707.3M858.2,771.7L778.3,761.6L840.3,837.1M851.5,811.3L915.1,894.4L867.4,809.2M956.2,734.9L1001.9,826.0L862.1,848.1M941.7,822.9L942.1,886.7L863.8,717.5M861.6,737.4L779.8,825.3L948.0,814.8M901.0,785.4L951.0,689.9L888.5,806.3M913.7,794.5L1025.6,703.3L887.6,716.5M893.9,810.4L1010.0,843.4L846.6,825.1M873.1,826.8L772.5,739.8L883.9,777.1M874.2,786.8L993.2,891.5L917.6,752.5M841.7,761.4L868.0,886.5L843.9,840.1M968.7,768.7L969.0,869.1L797.3,798.5M914.3,789.3L722.7,791.5L876.0,747.8M956.9,796.1L1008.1,801.1L920.8,755.7M960.7,838.0L983.5,848.4L918.2,762.6M955.3,788.8L996.6,749.6L904.9,708.5M930.0,760.8L828.8,663.9L866.6,718.2M939.1,851.6L965.5,887.5L879.7,879.8M893.5,795.9L955.9,694.7L853.0,701.1M858.0,754.5L781.4,788.1L850.6,839.7M878.9,762.7L896.5,649.3L903.0,759.5M880.3,799.7L794.5,720.4L849.8,705.2M933.7,772.3L1019.3,778.3L990.4,759.9M901.3,789.7L864.9,674.1L910.2,719.2M809.4,772.5L860.2,681.0L843.9,759.1M923.6,800.9L1000.3,816.5L918.2,806.1M953.2,820.5L999.6,699.9L958.0,764.0M914.5,756.5L946.3,687.1L936.3,758.9M921.7,811.9L911.2,888.8L920.3,788.9M859.1,795.3L812.4,902.0L911.9,890.1L896.6,757.7M837.1,769.9L934.5,883.2L839.0,710.9M885.7,837.5L900.1,907.9L883.8,845.9M907.0,852.8L920.9,922.2L926.0,938.2L864.5,779.1M864.3,783.7L853.2,672.5L930.3,721.3M857.4,703.4L825.2,700.7L782.1,725.3L836.2,834.1M859.5,686.3L1007.1,789.9L905.5,753.0M827.2,817.5L842.8,881.8L851.1,821.8M860.5,801.5L1028.9,782.9L962.8,758.3L1062.4,715.0L921.8,682.7M971.1,839.5L968.3,685.6L879.9,758.6L929.0,658.9L973.4,760.4L987.1,726.6L891.5,721.7M809.2,825.5L773.9,748.3L805.9,740.8M954.0,820.4L946.2,894.9L865.7,783.2M814.3,791.8L808.6,705.8L871.6,734.0L969.2,691.6L923.0,758.4M978.3,767.0L1029.4,807.4L933.3,741.0M861.9,829.3L848.7,901.6L813.1,712.5L839.5,705.1M858.5,769.8L869.2,888.8L891.7,823.6M972.7,841.9L958.6,688.4L890.4,705.7M918.4,735.9L1000.1,827.0L923.7,876.4M890.0,776.8L802.7,873.2L818.7,809.9M869.5,724.4L830.6,697.0L912.2,701.7M969.5,815.0L995.2,841.8L993.6,835.3L891.7,789.9M847.0,780.2L1007.0,776.2L908.3,805.9M904.5,798.3L794.2,825.5L939.2,798.5M855.7,866.1L811.9,865.2L907.6,812.0M864.4,850.0L763.9,806.7L746.7,793.3L838.5,821.8L831.0,752.6L785.9,754.5L870.2,763.5M815.8,763.5L834.3,658.4L902.5,758.7M870.2,821.8L822.0,875.0L884.1,792.0M927.8,796.8L971.8,701.0L911.1,676.9L920.9,729.6M941.6,785.0L937.8,916.3L890.8,849.2M802.6,745.1L859.0,663.8L942.1,719.8M886.1,785.0L876.8,901.5L874.0,839.7M911.5,799.9L796.9,739.7L860.3,806.2M818.4,746.5L824.6,873.5L878.5,856.6M901.5,862.4L945.9,905.3L990.9,806.1L896.2,778.3L933.8,636.3L910.5,791.4M880.6,753.9L918.0,659.5L851.6,759.6M847.9,782.3L1002.5,808.6L972.4,723.1M916.1,754.7L782.3,823.0L782.2,770.2L795.6,753.3M818.9,843.1L819.0,856.0L842.0,852.8M854.6,765.8L830.9,673.7L924.8,754.5M903.6,745.9L949.1,666.7L851.7,806.8L831.4,755.0L824.0,673.7L869.1,777.7M951.5,800.7L1002.2,787.1L934.0,816.4M885.8,816.3L1004.4,773.0L987.2,894.1L915.0,850.8L809.6,862.4L898.1,843.0M867.0,717.3L974.6,704.0L902.0,806.2M976.7,741.1L1033.4,781.3L860.5,780.6M872.3,810.5L798.2,854.2L931.3,754.8M844.3,755.4L799.5,733.0L816.9,758.8M859.6,822.6L841.7,906.7L883.5,751.7M902.1,780.5L1016.1,811.3L959.7,728.1L961.3,696.9L966.1,770.9M916.2,817.5L783.1,778.6L943.2,757.3M896.6,812.5L844.6,897.0L849.5,789.9M833.4,755.6L830.5,672.3L925.8,781.5M932.1,759.1L1028.2,749.9L884.3,859.5M889.8,735.1L795.0,748.0L881.4,732.6M986.4,760.2L1003.6,785.8L940.3,820.1M854.7,805.9L784.1,859.7L899.9,792.1L967.3,862.2L962.2,705.5M931.5,744.1L962.1,700.7L967.0,800.1M838.6,768.3L788.6,794.7L856.0,788.4M906.5,706.7L880.8,645.0L842.0,725.6M981.1,726.1L985.0,714.9L904.8,800.6M910.3,855.8L808.8,843.0L886.4,784.6M960.1,761.1L957.0,667.0L868.9,654.2L884.4,741.7L859.2,740.2L1002.8,783.8L946.9,742.7M843.0,753.2L868.3,675.5L902.8,726.2M866.2,792.1L942.3,682.5L852.5,807.9M842.6,846.1L772.2,820.2L825.6,860.4L829.8,823.0M847.5,812.6L789.0,689.0L924.9,715.4M954.1,827.5L968.4,865.6L965.2,725.4M976.8,824.4L1007.1,836.9L947.2,830.0M876.0,796.1L764.2,821.2L947.1,788.9M946.2,766.9L993.7,833.5L958.5,756.6L941.7,812.9L998.5,773.3L915.1,828.3M950.5,774.4L967.7,878.9L870.2,835.8L875.4,815.4L796.2,817.7L831.6,805.7M875.5,842.9L886.1,886.2L984.1,826.8L911.0,825.5L961.0,870.9L931.0,774.5L970.3,706.4L910.6,764.0M929.9,817.2L885.7,672.1L924.3,717.6M877.2,789.0L907.7,900.0L860.3,794.4M954.5,795.8L995.6,851.1L913.9,798.0M811.0,722.1L803.3,715.0L828.1,784.5M960.6,774.9L1006.0,807.4L939.8,848.1M971.8,818.6L980.4,865.9L866.5,883.8L843.2,768.2M957.5,808.3L1028.3,794.5L948.2,810.9M884.1,812.8L905.9,886.3L947.8,806.5M916.8,846.4L911.5,908.4L878.3,734.8L799.5,688.1L864.7,681.4M925.0,774.3L978.0,882.0L928.0,811.8L1004.4,811.4L954.1,812.4M862.3,759.6L793.0,810.6L853.1,777.1L872.0,817.4L903.2,888.4L809.7,850.8L912.5,682.1M890.1,830.1L1006.9,740.3L892.6,740.6M914.1,847.4L981.6,718.4L907.5,735.0M837.4,762.3L814.4,712.8L883.5,721.9M935.7,774.5L1003.8,768.1L923.7,772.8M864.9,776.7L812.2,864.0L781.0,802.6L795.2,789.2M800.3,762.8L741.5,768.1L961.0,829.1L929.5,889.6L861.0,830.7M942.2,785.0L866.1,906.0L881.9,870.0M906.6,839.8L945.4,904.3L923.4,743.5M841.4,807.4L750.0,735.4L867.1,761.2L903.6,609.9L956.2,767.2L1001.7,753.7L966.6,799.4M900.7,873.8L816.5,865.6L817.3,740.5M919.3,713.0L930.7,884.2L852.2,825.8M930.6,846.1L1004.0,768.3L905.6,799.4M853.6,743.9L799.2,729.9L865.6,791.4M953.0,801.0L786.3,821.4L883.2,791.3M854.8,803.6L796.1,684.4L875.7,745.4M879.3,835.9L772.7,780.5L858.8,745.0M832.5,824.3L831.0,905.8L903.1,713.9M883.7,689.6L847.7,665.0L886.8,779.8M839.9,768.9L867.3,886.1L878.0,803.3M940.0,795.7L983.0,848.7L990.0,800.3M929.8,738.1L826.1,864.1L818.6,744.8M896.2,738.7L998.6,817.4L916.3,784.6M842.4,750.1L827.0,645.5L817.7,847.6M966.7,813.6L1052.6,797.1L894.3,723.2M950.4,817.5L969.7,858.9L893.1,804.5M963.4,774.0L1026.0,707.6L971.7,705.1L845.7,716.4L756.7,739.3L849.0,724.8M859.1,830.6L998.5,766.5L895.2,796.5L793.7,832.7L827.4,858.2M975.5,835.5L863.8,904.5L884.8,799.9M920.1,774.9L993.7,843.8L952.9,794.5M881.3,855.2L768.0,829.3L823.5,835.8M839.1,733.2L737.4,685.5L877.4,695.4M944.6,799.7L1038.1,756.6L997.0,771.4M907.5,731.9L779.8,858.8L866.0,800.7M852.1,789.0L773.9,880.5L866.2,849.6M883.3,831.6L994.8,711.3L914.0,840.4L892.4,791.6L847.7,662.7L912.2,772.7M865.5,803.5L782.7,741.8L863.1,717.7M849.7,721.3L897.4,656.4L821.9,682.5L901.8,777.0L1025.0,764.0L916.4,767.6M850.8,742.8L788.8,724.3L818.1,761.6M852.6,732.0L1001.0,757.1L920.0,800.4M945.6,720.6L995.5,865.0L1006.4,848.1L896.9,788.4M920.1,783.2L960.1,683.6L853.5,726.0M934.7,815.6L867.1,679.4L928.6,724.2M924.4,751.8L1028.3,796.9L899.5,784.7M879.5,819.3L816.6,850.6L846.7,865.0M854.9,714.0L784.4,695.0L869.3,687.0M937.4,732.2L930.7,652.4L834.3,671.1L864.9,744.2L785.3,845.8L947.7,851.7M840.2,753.3L771.8,824.9L858.1,827.6M956.3,769.2L981.9,702.1L981.7,794.1L874.0,733.5L998.7,744.2L979.3,790.4M834.0,706.5L933.7,670.4L939.9,729.6M850.6,741.2L793.0,811.4L869.7,787.8M947.4,804.7L998.9,742.9L893.1,747.6M905.4,722.5L1023.3,795.5L909.7,819.7M852.1,747.9L850.8,659.6L845.4,780.0M870.3,861.8L772.2,741.6L865.1,777.6M969.1,799.4L980.4,851.1L906.8,803.5M878.0,789.3L983.4,725.4L888.0,728.9M907.2,772.5L974.4,904.8L908.5,771.5M917.8,705.5L917.6,676.0L825.0,746.9M891.8,791.2L984.6,861.7L960.6,806.5L999.6,760.3L850.0,765.4L840.4,675.7L830.9,730.5M814.7,738.1L785.4,738.8L866.2,772.1M952.9,766.7L1008.0,686.2L890.7,687.1M895.2,759.1L968.2,682.4L909.9,752.7L920.1,781.1L998.0,746.9L854.7,792.6M865.1,869.5L842.0,873.6L895.5,814.9M834.1,759.7L947.9,690.0L919.7,758.1M874.5,790.3L1028.7,788.9L892.6,713.1M928.4,808.0L787.9,737.5L876.4,699.1M911.9,779.1L991.9,740.8L853.1,741.3M875.5,816.9L825.2,885.4L868.9,781.8M840.0,803.1L861.0,882.5L911.3,844.4M848.8,781.5L748.2,830.0L806.9,774.9M883.5,770.9L981.7,839.5L945.3,787.0M903.6,717.5L789.9,688.8L844.9,788.3M889.2,807.6L1008.6,759.4L884.1,783.3M842.4,752.2L776.2,770.3L831.0,810.2M944.0,848.4L986.1,852.2L941.9,886.6L909.3,853.4M955.7,837.2L887.4,909.4L897.9,803.3M917.8,748.4L794.7,687.9L940.2,751.3M852.7,772.0L738.7,831.7L892.8,740.2M924.1,854.5L984.1,847.9L963.0,699.7L896.8,769.6M979.2,735.6L802.5,729.6L890.1,778.8M933.9,829.5L851.7,681.6L847.6,768.6M867.5,863.3L850.2,879.6L925.7,838.0M909.3,729.7L796.1,737.5L844.6,753.7M844.5,741.4L934.0,678.4L890.9,802.9M974.8,738.0L1000.4,788.6L938.6,785.9M830.4,773.9L1002.2,810.8L993.5,754.6L1007.7,719.1L953.3,776.7L874.1,804.7L759.9,821.7L853.1,765.4M871.5,697.2L856.0,678.1L967.3,769.3M939.2,807.9L987.2,881.2L933.8,725.6M930.3,706.6L787.8,688.6L896.8,747.3M918.5,772.0L891.9,891.7L946.0,820.8M944.4,782.2L900.4,674.9L930.2,688.3M818.5,769.2L986.3,709.0L866.6,801.8M872.4,717.0L812.2,687.4L868.9,774.3M937.9,801.2L999.9,706.7L959.3,852.5M848.9,778.2L809.2,849.4L841.5,721.5M841.3,797.3L771.9,762.3L878.8,715.8M850.8,841.7L772.4,821.3L927.7,796.7L930.1,800.5L1020.6,826.6L994.9,770.5M875.2,721.8L763.8,755.6L901.7,755.3L707.7,832.2L895.6,762.0M821.3,751.5L839.2,683.9L935.1,721.2M889.4,775.4L1008.5,836.6L896.5,790.2M921.1,696.4L959.8,695.2L911.5,762.2M882.5,759.7L794.9,738.5L835.3,746.1M907.5,813.7L1000.6,760.7L947.5,782.7L999.4,847.1L1008.3,825.2L945.6,796.5M864.0,783.6L774.8,816.3L858.2,784.8M860.0,779.2L819.5,698.3L881.3,713.9M821.5,803.2L754.7,808.9L872.9,791.5M939.9,813.6L1004.0,833.0L1004.9,799.1L957.0,823.8M980.4,817.3L879.8,887.7L922.5,856.7M958.8,705.2L953.7,688.2L863.6,711.2M819.7,757.1L819.4,691.1L874.8,716.4M905.6,809.8L995.3,819.1L901.7,797.5M857.4,753.5L819.3,866.3L850.9,753.0M830.9,763.5L792.9,841.3L842.5,823.9M896.3,806.6L790.7,807.6L847.1,815.2M914.0,717.0L930.5,670.0L901.2,707.2M989.0,779.8L1013.1,827.1L974.6,768.7M890.1,730.2L987.3,866.3L947.9,814.5M832.2,726.1L788.2,778.2L862.6,777.7M867.4,861.1L830.2,882.7L873.1,794.9M855.5,726.3L799.5,711.2L901.7,749.7L858.9,767.9L798.7,835.9L909.5,789.9M859.6,726.2L809.4,629.5L825.1,739.2M893.5,741.0L893.5,667.8L882.8,672.4L897.3,804.4M917.5,826.4L826.0,911.2L891.0,916.2L902.4,878.0M851.5,802.7L822.4,860.7L826.1,787.8M900.1,716.4L983.0,718.6L957.3,785.2M897.8,783.2L843.0,664.5L919.7,748.0L932.8,670.9L891.0,707.7M813.7,782.6L787.2,758.4L782.7,743.4L842.9,812.0M854.2,758.4L902.6,663.3L875.9,788.4M885.9,864.6L975.4,889.1L927.6,869.4M875.1,740.0L860.3,671.9L905.8,688.1L986.3,718.2L929.5,718.4M934.2,789.5L966.3,691.7L868.4,699.9M933.4,738.1L999.3,718.4L889.7,686.1M896.5,769.3L907.5,651.9L892.8,689.4M948.7,845.9L816.1,867.4L860.3,750.2M968.6,783.8L940.6,889.5L913.1,748.1M916.9,709.5L906.9,665.8L845.4,812.0M817.0,739.5L802.0,732.9L912.2,781.7M908.9,723.9L874.5,674.3L925.2,664.1L892.1,686.2M859.0,783.5L890.4,922.0L876.9,834.7M807.2,816.6L803.1,708.3L825.9,834.4M919.4,791.2L925.8,941.5L901.6,811.4M832.3,847.7L825.5,875.8L844.7,749.2M905.9,841.7L992.0,826.7L957.7,825.6M906.2,738.3L968.3,703.0L878.1,801.1M880.1,711.9L804.9,848.8L862.0,888.2L905.3,765.5L952.5,802.0L996.3,820.1L915.6,812.0M990.6,758.8L981.2,863.8L923.8,753.7M841.7,731.6L837.4,691.5L826.2,752.2M945.0,788.2L823.2,696.3L865.1,726.8M927.7,775.3L796.8,871.1L887.1,809.1M858.7,830.4L834.5,871.4L855.6,787.5M866.8,772.3L777.6,718.7L764.0,700.4L880.0,804.7M860.3,776.1L782.5,846.5L905.6,854.7L830.2,830.4L804.2,843.5L859.2,779.9M848.8,828.8L776.5,871.5L835.4,794.1M957.5,762.8L929.3,671.8L897.7,710.7M856.5,780.8L792.5,822.8L892.2,813.8M917.1,806.8L974.4,713.2L919.1,748.3M917.7,738.9L789.9,756.3L888.3,896.4L853.7,879.5L840.3,850.8M904.9,828.1L934.5,893.8L789.5,827.5L910.1,807.0M930.6,793.3L844.2,877.8L853.8,808.1M837.3,776.4L777.5,821.5L882.4,684.1M872.9,854.2L837.8,876.3L841.8,774.8M861.0,770.0L888.1,650.2L880.1,763.3M860.6,804.0L841.1,877.7L835.8,754.4M888.7,732.1L834.5,870.3L856.8,728.2M863.9,823.8L900.7,892.7L801.7,817.7M941.7,751.2L900.4,667.5L815.9,797.5M868.9,799.4L851.2,663.6L822.2,789.2M876.4,755.6L989.3,722.2L882.7,762.1M891.5,814.8L927.4,886.9L967.1,831.6M874.5,810.2L978.8,711.6L941.4,775.3M931.7,754.8L964.2,865.3L887.8,819.2M916.3,760.6L977.1,851.8L886.3,716.5M924.0,778.3L892.9,667.8L922.0,735.5M858.6,778.0L961.9,696.7L916.0,775.4M868.9,795.1L862.1,665.1L924.9,767.5M816.9,729.5L790.5,765.5L924.1,803.0L996.9,799.7L1031.6,865.0L965.1,882.3L895.1,759.7M864.6,863.9L940.4,896.0L884.3,836.8M901.4,762.9L781.1,766.0L828.8,732.5L822.1,670.9L824.0,647.6L896.6,694.6M874.3,717.8L845.6,673.8L868.6,760.8M881.6,863.4L849.3,885.5L861.0,806.0M835.4,753.8L781.8,759.1L836.8,835.1L909.1,788.0L799.1,732.6L844.3,791.4L804.7,767.3L803.5,833.5L845.8,752.1M837.5,760.2L909.5,634.9L913.7,631.5L998.8,785.6L991.5,850.5L885.5,803.3M935.9,822.8L923.9,889.7L918.3,822.9M903.1,711.1L880.6,669.6L863.3,788.9L900.2,837.8L776.8,679.1L930.8,766.8M886.9,850.2L826.8,867.1L927.5,785.8M831.7,709.2L878.0,648.9L873.0,668.7L887.9,761.9M916.9,796.5L905.6,903.2L912.2,905.9L866.1,780.5M861.7,815.6L781.0,817.4L887.2,771.5M908.8,783.5L963.2,686.2L899.2,707.3M887.7,853.9L765.6,794.9L754.1,734.1L861.5,826.1M928.0,833.7L790.6,771.7L903.0,724.0M831.3,770.6L814.0,693.1L858.4,772.5M813.0,728.7L890.5,651.5L954.3,698.9L929.6,820.8L786.8,727.7L824.0,763.2M911.5,840.5L873.3,908.5L909.8,824.6M936.2,794.5L1034.5,805.3L930.0,762.1M894.4,823.7L785.8,755.8L862.2,764.2M832.5,859.4L830.1,877.0L873.7,849.3M944.1,754.3L1006.8,775.9L996.0,719.0L912.6,803.4L954.5,774.1L1010.3,738.8L943.7,835.1M926.2,828.1L948.3,904.7L911.0,798.2M898.8,749.0L897.5,666.5L929.0,713.9M826.4,788.7L807.4,852.3L866.4,824.5M885.0,757.6L996.2,802.4L877.2,714.8M869.9,688.7L788.0,790.0L818.7,814.6L836.5,813.8L936.7,890.6L898.4,887.8L915.7,677.8L797.7,775.8M923.2,752.0L811.7,690.7L866.1,749.2M899.5,812.0L1010.7,772.3L964.9,755.4M964.8,770.0L846.9,660.1L934.0,750.3M874.8,773.7L770.4,749.6L871.2,744.0M868.3,812.2L934.9,680.5L898.0,725.3M843.5,782.7L919.4,883.3L844.1,834.0M830.7,784.5L917.9,666.9L826.2,771.6M825.2,736.9L789.8,730.1L848.4,805.5M958.4,816.9L1010.7,775.1L889.2,719.0M840.2,777.0L826.8,881.0L864.7,812.4M922.2,817.2L833.4,866.7L869.4,811.7M896.7,848.5L911.8,896.7L933.1,792.1M871.8,738.6L867.6,894.4L906.9,880.0M835.2,745.6L802.4,710.0L919.5,695.3M839.1,826.1L804.2,833.8L875.6,836.9M925.2,785.9L889.4,665.2L916.2,659.2L893.9,679.0L860.1,789.8L796.0,725.1L833.0,724.1M874.7,819.8L766.3,755.2L871.0,768.2L937.9,705.8L1004.4,775.9L910.8,743.8M876.2,797.8L904.8,651.9L867.0,771.5M859.7,736.4L863.6,674.1L969.5,726.7M906.9,777.7L997.9,760.4L929.8,752.7M938.2,822.3L800.8,828.9L860.7,746.2L849.1,678.8L903.0,744.3M957.2,707.8L948.2,684.5L969.4,794.8L846.5,762.9L800.1,858.8L933.7,815.5M894.2,837.8L985.3,845.7L969.4,803.5M833.1,766.3L789.3,820.3L860.6,726.4M895.7,782.3L977.9,853.3L952.0,755.5M910.0,823.6L1046.6,807.8L989.9,751.6M864.6,723.3L793.7,736.4L967.6,739.3M842.5,761.7L791.2,912.7L850.1,764.2M960.7,815.8L964.6,893.8L999.0,863.3L943.9,794.2M890.8,759.5L897.9,921.9L924.8,805.5L970.9,854.2L923.9,828.2M891.0,737.0L850.2,672.3L852.2,714.9M853.0,796.0L779.9,748.5L806.5,764.2M952.5,765.2L783.5,777.4L886.3,712.8M880.9,843.6L831.8,879.8L851.2,832.3M820.1,755.6L776.4,690.8L858.5,763.6M901.2,803.7L955.6,678.6L957.8,764.2M944.4,790.7L954.2,870.2L874.3,813.7M840.3,803.0L723.0,788.7L838.0,829.4M873.3,730.9L1010.1,731.6L904.1,767.5M877.9,768.1L970.3,686.5L852.5,658.1L840.6,741.9M940.0,789.4L900.0,638.7L880.7,724.3L930.0,868.6L906.3,915.4L893.0,869.8L945.2,728.3L985.3,715.4L915.0,720.8M881.0,757.9L772.6,748.6L832.8,778.2M875.6,805.4L804.4,853.1L874.0,750.4M876.3,750.8L815.3,698.6L890.2,737.4M932.4,768.4L943.4,681.4L918.6,834.0M884.9,786.1L785.8,796.6L855.1,863.5L822.1,859.0L868.1,791.6M907.3,745.0L806.5,700.0L955.2,723.7M835.3,761.1L890.9,672.7L888.0,752.0L840.9,685.8L927.1,784.6M913.0,681.0L965.7,690.1L942.6,701.4M888.1,678.4L997.3,807.3L1003.2,782.5L930.0,819.7M839.4,792.4L781.4,836.8L834.0,795.7M861.0,784.5L815.1,668.6L904.6,745.4M795.0,799.7L953.2,872.3L974.6,780.3M929.4,777.5L995.4,829.3L860.7,772.4M881.4,851.7L887.1,909.3L826.2,793.3M956.1,785.3L789.4,818.5L899.1,793.3M904.6,849.2L957.5,915.1L851.6,795.2M829.3,837.8L847.0,896.9L832.0,774.1"/>
</g>
<rect x="688" y="571.4" width="406.5" height="406.8" fill="none" stroke="#111" stroke-width="1.05"/>
<line x1="688" y1="978.2" x2="688" y2="987.2" stroke="#111" stroke-width="1.05"/>
<g transform="translate(684,1016.6)" fill="#000"><text x="-19.75" y="0" font-family="'DejaVu Sans',sans-serif" font-size="26.8">−4</text></g>
<line x1="789.62" y1="978.2" x2="789.62" y2="987.2" stroke="#111" stroke-width="1.05"/>
<g transform="translate(785.62,1016.6)" fill="#000"><text x="-19.75" y="0" font-family="'DejaVu Sans',sans-serif" font-size="26.8">−2</text></g>
<line x1="891.25" y1="978.2" x2="891.25" y2="987.2" stroke="#111" stroke-width="1.05"/>
<g transform="translate(891.25,1016.6)" fill="#000"><text x="-8.53" y="0" font-family="'DejaVu Sans',sans-serif" font-size="26.8">0</text></g>
<line x1="992.88" y1="978.2" x2="992.88" y2="987.2" stroke="#111" stroke-width="1.05"/>
<g transform="translate(992.88,1016.6)" fill="#000"><text x="-8.53" y="0" font-family="'DejaVu Sans',sans-serif" font-size="26.8">2</text></g>
<line x1="1094.5" y1="978.2" x2="1094.5" y2="987.2" stroke="#111" stroke-width="1.05"/>
<g transform="translate(1094.5,1016.6)" fill="#000"><text x="-8.53" y="0" font-family="'DejaVu Sans',sans-serif" font-size="26.8">4</text></g>
<line x1="679" y1="978.2" x2="688" y2="978.2" stroke="#111" stroke-width="1.05"/>
<g transform="translate(673,989)" fill="#000"><text x="-39.51" y="0" font-family="'DejaVu Sans',sans-serif" font-size="26.8">−4</text></g>
<line x1="679" y1="876.5" x2="688" y2="876.5" stroke="#111" stroke-width="1.05"/>
<g transform="translate(673,887.3)" fill="#000"><text x="-39.51" y="0" font-family="'DejaVu Sans',sans-serif" font-size="26.8">−2</text></g>
<line x1="679" y1="774.8" x2="688" y2="774.8" stroke="#111" stroke-width="1.05"/>
<g transform="translate(673,785.6)" fill="#000"><text x="-17.05" y="0" font-family="'DejaVu Sans',sans-serif" font-size="26.8">0</text></g>
<line x1="679" y1="673.1" x2="688" y2="673.1" stroke="#111" stroke-width="1.05"/>
<g transform="translate(673,683.9)" fill="#000"><text x="-17.05" y="0" font-family="'DejaVu Sans',sans-serif" font-size="26.8">2</text></g>
<line x1="679" y1="571.4" x2="688" y2="571.4" stroke="#111" stroke-width="1.05"/>
<g transform="translate(673,582.2)" fill="#000"><text x="-17.05" y="0" font-family="'DejaVu Sans',sans-serif" font-size="26.8">4</text></g>
<g transform="translate(699,617.6)" fill="#000"><text x="0" y="0" font-family="'Liberation Serif',serif" font-size="52">(</text><text x="18.52" y="0" font-family="'Liberation Serif',serif" font-size="52">e</text><text x="43.1" y="0" font-family="'Liberation Serif',serif" font-size="52">)</text></g>
<g transform="translate(858.2,1060.5)" fill="#000"><text x="0" y="0" font-family="'Liberation Serif',serif" font-size="47" font-style="italic">ε</text><text x="3.27" y="-2" font-family="'Liberation Serif',serif" font-size="42">ˆ</text><text x="21.12" y="7" font-family="'Liberation Serif',serif" font-size="30">1</text><text transform="translate(39.72,3.8) scale(1,1.74)" font-family="'Liberation Serif',serif" font-size="30">[</text><text x="48.81" y="0" font-family="'Liberation Serif',serif" font-size="44" font-style="italic">i</text><text transform="translate(60.83,3.8) scale(1,1.74)" font-family="'Liberation Serif',serif" font-size="30">]</text></g>
<g transform="translate(617.4,805) rotate(-90)" fill="#000"><text x="0" y="0" font-family="'Liberation Serif',serif" font-size="47" font-style="italic">ε</text><text x="3.27" y="-2" font-family="'Liberation Serif',serif" font-size="42">ˆ</text><text x="21.12" y="7" font-family="'Liberation Serif',serif" font-size="30">2</text><text transform="translate(39.72,3.8) scale(1,1.74)" font-family="'Liberation Serif',serif" font-size="30">[</text><text x="48.81" y="0" font-family="'Liberation Serif',serif" font-size="44" font-style="italic">i</text><text transform="translate(60.83,3.8) scale(1,1.74)" font-family="'Liberation Serif',serif" font-size="30">]</text></g>
<line x1="1334.7" y1="571.5" x2="1334.7" y2="978" stroke="#999" stroke-width="3" stroke-dasharray="11.1 4.8"/>
<line x1="1542.6" y1="571.5" x2="1542.6" y2="978" stroke="#999" stroke-width="2.4" stroke-dasharray="8.9 3.8"/>
<line x1="1363.8" y1="855.9" x2="1484.6" y2="750" stroke="#000" stroke-width="1.6"/>
<line x1="1363.8" y1="893.8" x2="1485" y2="815.3" stroke="#000" stroke-width="1.6"/>
<g transform="translate(1390.3,796.5)" fill="#000"><text x="0" y="0" font-family="'DejaVu Sans',sans-serif" font-size="23">0.8</text></g>
<g transform="translate(1421.7,879.4)" fill="#000"><text x="0" y="0" font-family="'DejaVu Sans',sans-serif" font-size="23">0.6</text></g>
<polyline fill="none" stroke="#ff0000" stroke-width="1.5" stroke-dasharray="5.5 2.4" points="1275.2,959.3 1289.5,943.6 1300.4,932.7 1309.1,924.4 1316.5,918.4 1322.8,912.8 1328.3,907.2 1333.2,902.4 1337.7,898.3 1341.7,894.8 1345.4,891.6 1348.9,888.7"/>
<circle cx="1275.2" cy="959.3" r="5.1" fill="#ff0000"/>
<circle cx="1289.5" cy="943.6" r="5.1" fill="#ff0000"/>
<circle cx="1300.4" cy="932.7" r="5.1" fill="#ff0000"/>
<circle cx="1309.1" cy="924.4" r="5.1" fill="#ff0000"/>
<circle cx="1316.5" cy="918.4" r="5.1" fill="#ff0000"/>
<circle cx="1322.8" cy="912.8" r="5.1" fill="#ff0000"/>
<circle cx="1328.3" cy="907.2" r="5.1" fill="#ff0000"/>
<circle cx="1333.2" cy="902.4" r="5.1" fill="#ff0000"/>
<circle cx="1337.7" cy="898.3" r="5.1" fill="#ff0000"/>
<circle cx="1341.7" cy="894.8" r="5.1" fill="#ff0000"/>
<circle cx="1345.4" cy="891.6" r="5.1" fill="#ff0000"/>
<circle cx="1348.9" cy="888.7" r="5.1" fill="#ff0000"/>
<circle cx="1352.1" cy="886.1" r="5.1" fill="#ff0000"/>
<circle cx="1355.0" cy="883.6" r="5.1" fill="#ff0000"/>
<circle cx="1357.8" cy="881.3" r="5.1" fill="#ff0000"/>
<circle cx="1360.5" cy="879.1" r="5.1" fill="#ff0000"/>
<circle cx="1363.0" cy="877.1" r="5.1" fill="#ff0000"/>
<circle cx="1365.3" cy="875.1" r="5.1" fill="#ff0000"/>
<circle cx="1367.5" cy="873.2" r="5.1" fill="#ff0000"/>
<circle cx="1369.7" cy="871.3" r="5.1" fill="#ff0000"/>
<circle cx="1371.7" cy="869.6" r="5.1" fill="#ff0000"/>
<circle cx="1373.7" cy="867.9" r="5.1" fill="#ff0000"/>
<circle cx="1375.5" cy="866.2" r="5.1" fill="#ff0000"/>
<circle cx="1377.3" cy="864.6" r="5.1" fill="#ff0000"/>
<circle cx="1379.1" cy="863.1" r="5.1" fill="#ff0000"/>
<circle cx="1380.7" cy="861.6" r="5.1" fill="#ff0000"/>
<polyline fill="none" stroke="#ff0000" stroke-width="10.2" stroke-linecap="round" stroke-linejoin="round" points="1380.7,861.6 1385.2,857.6 1389.7,853.6 1394.1,849.6 1398.6,845.5 1403.1,841.5 1407.5,837.4 1412.0,833.3 1416.5,829.2 1420.9,825.1 1425.4,820.9 1429.9,816.7 1434.3,812.6 1438.8,808.4 1443.3,804.3 1447.7,800.2 1452.2,796.1 1456.7,792.1 1461.1,788.2 1465.6,784.4 1470.1,780.5 1474.6,776.7 1479.0,772.9 1483.5,769.0 1488.0,765.1 1492.4,761.2 1496.9,757.3 1501.4,753.4 1505.8,749.5 1510.3,745.6 1514.8,741.7 1519.2,737.7 1523.7,733.7 1528.2,729.4 1532.6,725.0 1537.1,720.3 1541.6,715.2 1546.0,709.8 1550.5,704.2 1555.0,699.5 1559.4,696.3 1563.9,693.8 1568.4,691.4 1572.8,688.7 1577.3,686.0 1581.8,683.3 1586.2,680.3 1590.7,677.1 1595.2,673.4 1599.6,669.2 1604.1,664.6 1608.6,659.5 1613.0,653.6 1617.5,646.7 1622.0,639.7 1626.5,633.2 1630.9,627.1 1635.4,622.4 1639.9,618.8 1644.3,616.4 1648.8,614.7 1653.3,613.0 1657.7,610.9 1662.2,608.8 1666.7,606.5 1671.1,603.6 1675.6,600.2 1680.1,596.7 1684.5,593.2 1689.0,589.5"/>
<polyline fill="none" stroke="#0000ff" stroke-width="1.5" stroke-dasharray="5.5 2.4" points="1275.2,944.1 1289.5,931.2 1300.4,922.6 1309.1,916.2 1316.5,911.1 1322.8,906.8 1328.3,902.9 1333.2,899.5 1337.7,896.5 1341.7,893.9 1345.4,891.5 1348.9,889.3"/>
<circle cx="1275.2" cy="944.1" r="5.1" fill="#0000ff"/>
<circle cx="1289.5" cy="931.2" r="5.1" fill="#0000ff"/>
<circle cx="1300.4" cy="922.6" r="5.1" fill="#0000ff"/>
<circle cx="1309.1" cy="916.2" r="5.1" fill="#0000ff"/>
<circle cx="1316.5" cy="911.1" r="5.1" fill="#0000ff"/>
<circle cx="1322.8" cy="906.8" r="5.1" fill="#0000ff"/>
<circle cx="1328.3" cy="902.9" r="5.1" fill="#0000ff"/>
<circle cx="1333.2" cy="899.5" r="5.1" fill="#0000ff"/>
<circle cx="1337.7" cy="896.5" r="5.1" fill="#0000ff"/>
<circle cx="1341.7" cy="893.9" r="5.1" fill="#0000ff"/>
<circle cx="1345.4" cy="891.5" r="5.1" fill="#0000ff"/>
<circle cx="1348.9" cy="889.3" r="5.1" fill="#0000ff"/>
<circle cx="1352.1" cy="887.3" r="5.1" fill="#0000ff"/>
<circle cx="1355.0" cy="885.4" r="5.1" fill="#0000ff"/>
<circle cx="1357.8" cy="883.7" r="5.1" fill="#0000ff"/>
<circle cx="1360.5" cy="882.0" r="5.1" fill="#0000ff"/>
<circle cx="1363.0" cy="880.4" r="5.1" fill="#0000ff"/>
<circle cx="1365.3" cy="878.9" r="5.1" fill="#0000ff"/>
<circle cx="1367.5" cy="877.5" r="5.1" fill="#0000ff"/>
<circle cx="1369.7" cy="876.1" r="5.1" fill="#0000ff"/>
<circle cx="1371.7" cy="874.8" r="5.1" fill="#0000ff"/>
<circle cx="1373.7" cy="873.6" r="5.1" fill="#0000ff"/>
<circle cx="1375.5" cy="872.4" r="5.1" fill="#0000ff"/>
<circle cx="1377.3" cy="871.2" r="5.1" fill="#0000ff"/>
<circle cx="1379.1" cy="870.1" r="5.1" fill="#0000ff"/>
<circle cx="1380.7" cy="869.0" r="5.1" fill="#0000ff"/>
<polyline fill="none" stroke="#0000ff" stroke-width="10.2" stroke-linecap="round" stroke-linejoin="round" points="1380.7,869.0 1385.2,866.0 1389.7,863.1 1394.1,860.1 1398.6,857.2 1403.1,854.3 1407.5,851.3 1412.0,848.4 1416.5,845.5 1420.9,842.7 1425.4,839.8 1429.9,836.9 1434.3,834.1 1438.8,831.2 1443.3,828.3 1447.7,825.5 1452.2,822.5 1456.7,819.6 1461.1,816.7 1465.6,813.7 1470.1,810.7 1474.6,807.7 1479.0,804.7 1483.5,801.7 1488.0,798.8 1492.4,795.9 1496.9,793.1 1501.4,790.3 1505.8,787.6 1510.3,784.9 1514.8,782.3 1519.2,779.6 1523.7,776.9 1528.2,774.2 1532.6,771.3 1537.1,768.3 1541.6,765.2 1546.0,762.3 1550.5,759.4 1555.0,756.6 1559.4,753.7 1563.9,750.5 1568.4,747.2 1572.8,744.0 1577.3,741.1 1581.8,738.3 1586.2,735.6 1590.7,732.8 1595.2,729.9 1599.6,727.1 1604.1,724.1 1608.6,720.7 1613.0,716.4 1617.5,711.2 1622.0,706.2 1626.5,702.3 1630.9,698.6 1635.4,695.7 1639.9,693.8 1644.3,692.2 1648.8,691.0 1653.3,689.8 1657.7,688.9 1662.2,688.2 1666.7,687.5 1671.1,686.6 1675.6,685.2 1680.1,683.4 1684.5,681.2 1689.0,678.5"/>
<rect x="1267.7" y="571.5" width="427.9" height="406.5" fill="none" stroke="#000" stroke-width="1.3"/>
<line x1="1334.7" y1="978" x2="1334.7" y2="987" stroke="#000" stroke-width="1.3"/>
<g transform="translate(1334.7,1014.2)" fill="#000"><text x="-8.53" y="0" font-family="'DejaVu Sans',sans-serif" font-size="26.8">1</text></g>
<line x1="1438.8" y1="978" x2="1438.8" y2="987" stroke="#000" stroke-width="1.3"/>
<g transform="translate(1438.8,1014.2)" fill="#000"><text x="-8.53" y="0" font-family="'DejaVu Sans',sans-serif" font-size="26.8">2</text></g>
<line x1="1542.9" y1="978" x2="1542.9" y2="987" stroke="#000" stroke-width="1.3"/>
<g transform="translate(1542.9,1014.2)" fill="#000"><text x="-8.53" y="0" font-family="'DejaVu Sans',sans-serif" font-size="26.8">3</text></g>
<line x1="1647" y1="978" x2="1647" y2="987" stroke="#000" stroke-width="1.3"/>
<g transform="translate(1647,1014.2)" fill="#000"><text x="-8.53" y="0" font-family="'DejaVu Sans',sans-serif" font-size="26.8">4</text></g>
<line x1="1258.7" y1="891.1" x2="1267.7" y2="891.1" stroke="#000" stroke-width="1.3"/>
<g transform="translate(1253.3,901.9)" fill="#000"><text x="-17.05" y="0" font-family="'DejaVu Sans',sans-serif" font-size="26.8">0</text></g>
<line x1="1258.7" y1="776.4" x2="1267.7" y2="776.4" stroke="#000" stroke-width="1.3"/>
<g transform="translate(1253.3,787.2)" fill="#000"><text x="-17.05" y="0" font-family="'DejaVu Sans',sans-serif" font-size="26.8">1</text></g>
<line x1="1258.7" y1="661.7" x2="1267.7" y2="661.7" stroke="#000" stroke-width="1.3"/>
<g transform="translate(1253.3,672.5)" fill="#000"><text x="-17.05" y="0" font-family="'DejaVu Sans',sans-serif" font-size="26.8">2</text></g>
<g transform="translate(1277.5,618.3)" fill="#000"><text x="0" y="0" font-family="'Liberation Serif',serif" font-size="52">(</text><text x="19.82" y="0" font-family="'Liberation Serif',serif" font-size="52">f</text><text x="40.63" y="0" font-family="'Liberation Serif',serif" font-size="52">)</text></g>
<g transform="translate(1427,1060.2)" fill="#000"><text x="0" y="0" font-family="'Liberation Serif',serif" font-size="44">log</text><text x="57.22" y="10.6" font-family="'Liberation Serif',serif" font-size="31">10</text><text x="96.22" y="0" font-family="'Liberation Serif',serif" font-size="44" font-style="italic">s</text><text x="99.96" y="0" font-family="'Liberation Serif',serif" font-size="38">˜</text></g>
<g transform="translate(1209.6,857) rotate(-90)" fill="#000"><text x="0" y="0" font-family="'Liberation Serif',serif" font-size="44">log</text><text x="57.22" y="10.4" font-family="'Liberation Serif',serif" font-size="31">10</text><text x="96.22" y="0" font-family="'Liberation Serif',serif" font-size="44" font-style="italic">F</text><text x="125.1" y="-14.5" font-family="'Liberation Serif',serif" font-size="38">(</text><text x="137.26" y="-16.4" font-family="'Liberation Serif',serif" font-size="31" font-style="italic">θ</text><text x="152.98" y="-14.5" font-family="'Liberation Serif',serif" font-size="38">)</text></g>
<g transform="translate(1556.2,616.5)" fill="#ff0000"><text x="0" y="0" font-family="'Liberation Serif',serif" font-size="47" font-style="italic">ε</text><text x="3.27" y="-2" font-family="'Liberation Serif',serif" font-size="42">ˆ</text><text x="21.12" y="7" font-family="'Liberation Serif',serif" font-size="30">1</text><text transform="translate(39.72,3.8) scale(1,1.74)" font-family="'Liberation Serif',serif" font-size="30">[</text><text x="48.81" y="0" font-family="'Liberation Serif',serif" font-size="44" font-style="italic">i</text><text transform="translate(60.83,3.8) scale(1,1.74)" font-family="'Liberation Serif',serif" font-size="30">]</text></g>
<g transform="translate(1619.8,751.8)" fill="#0000ff"><text x="0" y="0" font-family="'Liberation Serif',serif" font-size="47" font-style="italic">ε</text><text x="3.27" y="-2" font-family="'Liberation Serif',serif" font-size="42">ˆ</text><text x="21.12" y="7" font-family="'Liberation Serif',serif" font-size="30">2</text><text transform="translate(39.72,3.8) scale(1,1.74)" font-family="'Liberation Serif',serif" font-size="30">[</text><text x="48.81" y="0" font-family="'Liberation Serif',serif" font-size="44" font-style="italic">i</text><text transform="translate(60.83,3.8) scale(1,1.74)" font-family="'Liberation Serif',serif" font-size="30">]</text></g></svg></body></html>
